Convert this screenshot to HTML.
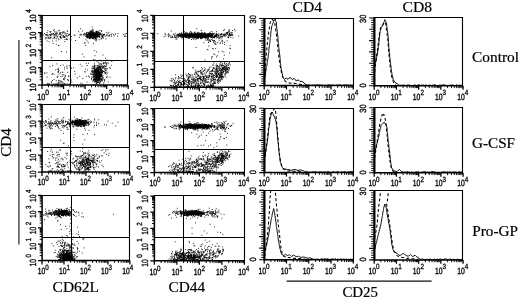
<!DOCTYPE html>
<html lang="en">
<head>
<meta charset="utf-8">
<title>Flow cytometry: CD62L, CD44 and CD25 expression on CD4 and CD8 cells</title>
<style>
html,body{margin:0;padding:0;background:#fff;}
body{width:520px;height:299px;overflow:hidden;}
svg{display:block;}
.tk{font-family:"Liberation Sans", sans-serif;font-size:9px;fill:#000;stroke:#000;stroke-width:.35px;text-rendering:geometricPrecision;}
.te{font-family:"Liberation Sans", sans-serif;font-size:7.5px;fill:#000;stroke:#000;stroke-width:.3px;text-rendering:geometricPrecision;}
.lb{font-family:"Liberation Serif", serif;fill:#000;stroke:#000;stroke-width:.2px;}
</style>
</head>
<body>
<svg width="520" height="299" viewBox="0 0 520 299">
<rect width="520" height="299" fill="#fff"/>
<path d="M88.1 35.6h0.9M97.0 34.1h0.9M87.7 34.9h0.9M94.9 36.9h0.9M88.1 32.8h0.9M95.8 35.8h0.9M99.1 36.7h0.9M92.6 34.5h0.9M103.3 34.5h0.9M89.9 33.1h0.9M93.4 35.2h0.9M91.6 34.9h0.9M94.1 36.2h0.9M97.4 35.4h0.9M85.8 36.2h0.9M87.3 34.7h0.9M87.1 35.0h0.9M89.9 35.4h0.9M106.2 34.9h0.9M96.4 32.8h0.9M91.8 36.1h0.9M92.6 35.6h0.9M93.4 33.3h0.9M95.3 33.6h0.9M100.5 34.1h0.9M95.7 35.0h0.9M96.8 34.0h0.9M97.0 34.8h0.9M98.1 36.1h0.9M93.6 33.7h0.9M96.1 35.8h0.9M99.6 34.4h0.9M95.2 35.9h0.9M94.1 35.4h0.9M93.7 34.0h0.9M88.9 34.3h0.9M95.4 37.6h0.9M96.9 36.8h0.9M96.1 36.2h0.9M93.7 36.3h0.9M100.1 34.4h0.9M90.2 38.3h0.9M94.0 36.7h0.9M96.5 33.1h0.9M102.7 38.0h0.9M93.7 36.3h0.9M93.5 33.5h0.9M92.6 35.6h0.9M97.5 36.2h0.9M93.2 37.3h0.9M90.0 36.3h0.9M97.4 34.5h0.9M85.8 33.5h0.9M93.9 35.9h0.9M99.2 33.3h0.9M93.0 36.1h0.9M92.4 31.0h0.9M96.2 38.9h0.9M97.0 33.4h0.9M91.4 35.4h0.9M103.0 36.0h0.9M93.5 37.6h0.9M92.7 38.2h0.9M90.3 34.2h0.9M95.9 37.4h0.9M95.6 35.5h0.9M85.7 33.8h0.9M90.6 34.1h0.9M95.3 34.4h0.9M96.2 35.1h0.9M91.7 35.2h0.9M94.7 36.5h0.9M91.1 34.6h0.9M87.5 37.7h0.9M98.8 34.7h0.9M91.1 32.9h0.9M93.7 35.4h0.9M101.7 35.4h0.9M89.9 30.8h0.9M98.6 35.3h0.9M86.6 35.3h0.9M86.6 40.9h0.9M97.5 36.0h0.9M92.3 31.4h0.9M92.5 32.4h0.9M95.4 31.4h0.9M89.4 37.1h0.9M99.6 33.0h0.9M86.9 36.5h0.9M96.4 33.3h0.9M90.2 33.8h0.9M88.2 33.8h0.9M98.0 36.2h0.9M101.2 34.9h0.9M92.5 33.3h0.9M92.5 32.8h0.9M85.9 36.2h0.9M98.8 36.4h0.9M98.3 35.4h0.9M90.1 35.1h0.9M91.5 33.1h0.9M86.2 32.5h0.9M93.0 35.3h0.9M91.1 37.4h0.9M93.7 36.0h0.9M97.9 33.6h0.9M85.1 36.3h0.9M90.2 37.2h0.9M94.4 36.7h0.9M96.1 31.5h0.9M95.9 33.9h0.9M90.0 34.3h0.9M96.1 36.5h0.9M97.0 32.2h0.9M90.6 31.0h0.9M92.6 36.0h0.9M89.9 35.4h0.9M93.9 36.7h0.9M89.7 33.6h0.9M89.9 38.0h0.9M97.4 34.8h0.9M93.9 35.2h0.9M93.8 34.6h0.9M91.7 32.9h0.9M90.4 37.8h0.9M95.1 35.1h0.9M92.1 35.1h0.9M94.4 33.9h0.9M93.8 35.4h0.9M90.0 33.7h0.9M89.0 33.2h0.9M96.6 31.0h0.9M91.9 34.0h0.9M90.5 35.2h0.9M97.5 35.1h0.9M92.4 34.0h0.9M92.5 36.6h0.9M91.4 33.1h0.9M87.9 33.1h0.9M87.4 36.9h0.9M94.4 34.6h0.9M98.8 33.9h0.9M96.0 36.4h0.9M86.8 32.4h0.9M89.3 36.5h0.9M98.2 32.9h0.9M97.2 34.3h0.9M91.4 34.1h0.9M91.7 31.9h0.9M89.0 32.9h0.9M95.0 38.6h0.9M103.9 34.4h0.9M86.1 34.3h0.9M89.2 38.4h0.9M95.3 33.8h0.9M96.7 35.9h0.9M86.5 34.1h0.9M92.0 35.0h0.9M93.5 34.4h0.9M93.8 34.0h0.9M89.4 37.6h0.9M94.4 35.7h0.9M86.6 34.7h0.9M96.3 32.8h0.9M97.4 34.3h0.9M94.6 34.8h0.9M93.9 37.0h0.9M91.4 37.7h0.9M89.9 33.4h0.9M95.8 33.2h0.9M91.5 36.5h0.9M97.8 32.0h0.9M95.0 38.2h0.9M97.8 34.6h0.9M90.6 34.5h0.9M88.4 34.6h0.9M92.3 34.8h0.9M97.7 34.6h0.9M87.2 36.8h0.9M88.7 34.2h0.9M92.5 34.4h0.9M89.0 34.6h0.9M101.7 34.0h0.9M92.5 36.9h0.9M96.0 36.3h0.9M96.4 31.7h0.9M89.5 35.2h0.9M95.0 37.2h0.9M94.9 34.6h0.9M93.2 34.6h0.9M94.0 36.1h0.9M91.6 33.6h0.9M89.6 36.9h0.9M98.1 36.7h0.9M96.4 36.4h0.9M93.0 36.1h0.9M88.8 34.7h0.9M90.1 36.2h0.9M90.7 34.8h0.9M94.6 37.3h0.9M89.8 33.4h0.9M96.3 33.1h0.9M94.8 34.0h0.9M92.6 31.9h0.9M95.9 34.1h0.9M89.4 38.5h0.9M95.8 41.0h0.9M94.6 34.4h0.9M93.4 37.7h0.9M92.9 35.8h0.9M95.1 33.5h0.9M93.5 34.1h0.9M88.0 36.5h0.9M95.7 35.1h0.9M89.4 31.6h0.9M94.9 34.8h0.9M86.3 34.9h0.9M86.9 35.0h0.9M93.6 35.6h0.9M93.9 35.3h0.9M88.4 34.3h0.9M91.0 34.6h0.9M94.1 36.1h0.9M99.5 30.6h0.9M94.6 34.7h0.9M102.1 36.6h0.9M86.4 35.7h0.9M90.9 36.7h0.9M88.8 34.8h0.9M92.5 34.8h0.9M90.7 31.9h0.9M94.8 36.7h0.9M92.7 33.3h0.9M93.8 36.0h0.9M92.3 35.0h0.9M98.6 33.1h0.9M90.8 31.8h0.9M90.2 33.7h0.9M89.2 33.8h0.9M100.2 34.7h0.9M92.5 38.7h0.9M92.8 32.1h0.9M94.6 33.4h0.9M99.6 32.9h0.9M90.7 32.3h0.9M93.4 33.3h0.9M92.7 34.4h0.9M90.5 36.6h0.9M96.7 35.1h0.9M89.4 33.2h0.9M94.1 39.1h0.9M91.2 33.7h0.9M90.2 33.1h0.9M89.1 34.7h0.9M98.7 35.0h0.9M91.0 32.3h0.9M93.9 35.0h0.9M88.1 33.2h0.9M92.8 36.7h0.9M95.5 35.3h0.9M91.7 35.5h0.9M93.0 38.7h0.9M88.5 34.4h0.9M98.1 34.5h0.9M98.7 34.9h0.9M93.6 34.4h0.9M87.5 33.3h0.9M101.9 36.1h0.9M95.4 36.6h0.9M95.3 36.7h0.9M91.9 34.6h0.9M96.9 34.4h0.9M87.7 34.6h0.9M90.8 36.0h0.9M90.1 33.2h0.9M91.7 37.6h0.9M92.8 35.3h0.9M93.0 35.5h0.9M96.7 37.4h0.9M86.4 37.3h0.9M93.0 34.5h0.9M102.6 34.7h0.9M100.8 36.6h0.9M88.9 35.8h0.9M95.9 34.8h0.9M83.7 34.4h0.9M92.2 33.1h0.9M100.3 34.6h0.9M91.4 34.5h0.9M89.9 33.7h0.9M93.4 35.5h0.9M91.0 34.8h0.9M87.4 35.9h0.9M90.0 35.4h0.9M89.4 34.1h0.9M93.9 32.9h0.9M102.9 34.9h0.9M92.7 33.8h0.9M99.4 37.4h0.9M94.2 32.7h0.9M89.2 37.3h0.9M89.2 32.3h0.9M84.1 33.4h0.9M93.1 33.8h0.9M93.1 43.4h0.9M106.3 32.7h0.9M95.6 35.8h0.9M92.0 38.5h0.9M90.5 34.7h0.9M90.2 35.3h0.9M102.6 37.8h0.9M82.9 34.4h0.9M87.0 37.9h0.9M94.7 38.1h0.9M92.5 30.3h0.9M96.4 36.2h0.9M96.8 32.0h0.9M93.6 33.7h0.9M87.8 36.6h0.9M95.6 33.1h0.9M80.2 28.7h0.9M88.7 38.7h0.9M92.6 29.3h0.9M86.5 36.8h0.9M105.5 38.9h0.9M95.8 36.2h0.9M85.1 34.3h0.9M90.5 33.4h0.9M93.5 34.5h0.9M95.5 39.6h0.9M98.6 36.8h0.9M91.2 31.3h0.9M92.1 37.1h0.9M85.4 39.1h0.9M90.5 36.6h0.9M90.5 32.1h0.9M108.5 32.3h0.9M99.9 34.0h0.9M95.1 33.3h0.9M89.9 38.2h0.9M107.6 33.2h0.9M93.1 38.3h0.9M88.3 37.6h0.9M87.1 37.3h0.9M96.3 39.0h0.9M95.7 32.3h0.9M98.0 32.5h0.9M98.6 39.8h0.9M97.5 34.1h0.9M101.9 36.1h0.9M83.7 34.6h0.9M103.6 34.7h0.9M93.9 34.6h0.9M80.4 34.2h0.9M95.7 36.2h0.9M91.7 29.6h0.9M102.2 37.6h0.9M100.7 39.2h0.9M89.7 33.9h0.9M95.4 40.3h0.9M80.4 35.0h0.9M87.6 37.2h0.9M104.0 34.8h0.9M83.7 35.7h0.9M90.9 31.3h0.9M99.6 34.1h0.9M98.1 31.9h0.9M101.2 31.6h0.9M100.9 30.5h0.9M103.3 34.6h0.9M81.3 34.9h0.9M95.5 32.8h0.9M89.3 36.4h0.9M91.7 27.0h0.9M89.8 36.8h0.9M95.2 38.4h0.9M87.8 42.7h0.9M99.0 36.5h0.9M101.1 38.3h0.9M93.8 33.9h0.9M66.7 36.5h0.9M61.4 35.7h0.9M59.7 37.1h0.9M58.4 39.7h0.9M51.4 34.3h0.9M60.1 37.4h0.9M64.5 39.4h0.9M52.5 38.6h0.9M61.4 32.6h0.9M55.7 41.0h0.9M64.5 34.1h0.9M50.3 35.6h0.9M78.9 37.4h0.9M60.0 32.9h0.9M45.7 34.8h0.9M52.6 43.5h0.9M53.2 33.7h0.9M67.7 35.6h0.9M45.3 38.9h0.9M54.0 31.8h0.9M60.1 36.7h0.9M53.8 37.3h0.9M64.8 33.0h0.9M55.8 38.7h0.9M66.5 39.2h0.9M74.6 35.4h0.9M67.0 31.3h0.9M63.5 36.5h0.9M56.1 34.2h0.9M46.4 35.8h0.9M69.1 34.4h0.9M62.0 33.6h0.9M59.4 32.7h0.9M60.6 34.8h0.9M60.0 33.8h0.9M45.8 34.5h0.9M66.8 39.7h0.9M53.9 37.6h0.9M64.2 36.5h0.9M47.8 38.6h0.9M64.5 37.1h0.9M63.6 32.0h0.9M66.2 35.6h0.9M55.3 33.5h0.9M47.3 34.2h0.9M86.3 35.9h0.9M59.0 33.7h0.9M51.1 33.9h0.9M48.6 37.8h0.9M54.4 37.7h0.9M46.0 37.9h0.9M56.7 37.2h0.9M56.0 33.0h0.9M68.5 34.2h0.9M55.6 33.0h0.9M58.9 34.3h0.9M59.7 36.3h0.9M50.5 31.6h0.9M61.1 37.9h0.9M63.6 32.3h0.9M62.7 36.4h0.9M59.7 36.6h0.9M53.9 36.0h0.9M65.8 34.0h0.9M43.3 35.1h0.9M58.9 30.4h0.9M50.6 37.0h0.9M55.6 35.6h0.9M45.0 37.8h0.9M73.7 34.9h0.9M50.0 32.3h0.9M65.5 35.7h0.9M49.5 38.7h0.9M64.3 37.0h0.9M62.9 32.1h0.9M65.8 39.3h0.9M66.8 33.5h0.9M50.3 37.9h0.9M66.4 38.7h0.9M68.4 35.1h0.9M53.1 30.4h0.9M64.4 41.5h0.9M52.6 34.1h0.9M63.2 36.4h0.9M44.0 33.5h0.9M46.6 40.9h0.9M50.2 37.7h0.9M75.2 40.5h0.9M70.5 39.8h0.9M45.3 34.5h0.9M50.1 34.6h0.9M81.9 30.9h0.9M62.3 32.1h0.9M69.7 38.9h0.9M52.1 41.0h0.9M57.7 38.9h0.9M60.0 33.9h0.9M53.4 35.1h0.9M62.9 35.7h0.9M79.4 34.9h0.9M52.6 33.5h0.9M49.6 31.5h0.9M47.6 37.8h0.9M57.6 34.9h0.9M60.3 38.3h0.9M62.8 37.5h0.9M51.7 34.7h0.9M49.6 35.1h0.9M49.2 34.4h0.9M55.3 34.8h0.9M54.5 34.1h0.9M69.4 34.5h0.9M47.4 35.9h0.9M46.7 32.5h0.9M57.8 30.9h0.9M66.8 30.9h0.9M48.5 37.0h0.9M45.6 34.9h0.9M55.6 36.2h0.9M53.9 29.7h0.9M55.6 31.8h0.9M57.1 33.1h0.9M54.0 34.8h0.9M64.3 37.5h0.9M47.5 35.4h0.9M70.9 36.7h0.9M50.1 35.1h0.9M53.7 37.9h0.9M57.3 36.4h0.9M78.0 31.7h0.9M47.4 30.7h0.9M113.7 35.9h0.9M109.1 35.7h0.9M117.0 36.2h0.9M106.3 35.9h0.9M106.8 35.1h0.9M125.9 33.5h0.9M109.6 34.4h0.9M111.5 33.7h0.9M124.6 35.9h0.9M113.1 34.6h0.9M117.5 33.6h0.9M104.7 36.2h0.9M111.1 35.0h0.9M125.5 36.4h0.9M114.9 34.1h0.9M110.8 36.3h0.9M124.6 34.1h0.9M123.3 34.6h0.9M114.9 34.0h0.9M124.2 36.5h0.9M108.6 35.4h0.9M108.4 36.1h0.9M48.7 41.9h0.9M85.2 45.6h0.9M94.6 55.7h0.9M84.5 42.4h0.9M83.6 56.9h0.9M70.0 41.4h0.9M58.1 45.5h0.9M84.4 43.5h0.9M55.8 44.2h0.9M81.9 54.2h0.9M66.1 51.9h0.9M93.8 50.6h0.9M58.4 45.4h0.9M96.0 52.0h0.9M60.9 51.5h0.9M50.9 57.7h0.9M94.2 76.5h0.9M96.5 74.2h0.9M95.5 72.4h0.9M97.3 82.4h0.9M99.2 76.4h0.9M97.4 71.2h0.9M96.7 80.0h0.9M99.5 83.1h0.9M98.0 74.4h0.9M92.9 76.3h0.9M92.6 81.2h0.9M95.6 74.5h0.9M93.7 72.3h0.9M94.8 79.5h0.9M98.0 69.3h0.9M92.1 74.2h0.9M96.0 69.6h0.9M98.9 73.7h0.9M97.6 71.9h0.9M95.8 72.5h0.9M93.0 77.3h0.9M98.4 66.9h0.9M97.6 79.6h0.9M97.9 80.2h0.9M96.6 74.5h0.9M93.8 70.5h0.9M92.4 70.6h0.9M98.0 76.8h0.9M100.4 75.1h0.9M94.6 76.4h0.9M96.9 82.3h0.9M102.6 78.7h0.9M94.2 72.2h0.9M97.8 71.4h0.9M98.7 77.5h0.9M99.6 75.5h0.9M94.9 70.8h0.9M97.0 80.3h0.9M101.6 78.8h0.9M98.3 77.5h0.9M99.5 80.2h0.9M99.6 67.7h0.9M99.9 76.2h0.9M96.1 76.8h0.9M98.1 74.3h0.9M92.7 75.0h0.9M98.8 74.3h0.9M93.0 76.5h0.9M99.2 75.3h0.9M98.4 73.0h0.9M95.5 76.8h0.9M96.3 75.3h0.9M106.1 77.6h0.9M97.7 67.4h0.9M97.6 77.8h0.9M95.4 73.5h0.9M91.2 76.9h0.9M95.7 77.5h0.9M101.0 73.8h0.9M100.0 75.6h0.9M96.7 73.3h0.9M95.0 80.1h0.9M99.7 70.1h0.9M99.6 71.3h0.9M93.2 79.8h0.9M93.8 79.7h0.9M97.8 78.5h0.9M98.7 79.6h0.9M98.2 77.0h0.9M98.0 79.3h0.9M96.2 79.0h0.9M101.4 74.2h0.9M98.5 72.2h0.9M96.5 75.6h0.9M96.4 70.6h0.9M97.2 75.3h0.9M98.2 77.6h0.9M92.5 80.7h0.9M96.8 71.1h0.9M96.3 76.4h0.9M99.7 72.9h0.9M97.7 67.5h0.9M97.8 74.0h0.9M96.1 78.4h0.9M102.1 79.0h0.9M95.2 81.2h0.9M96.4 74.3h0.9M95.7 76.5h0.9M98.8 75.1h0.9M96.7 73.9h0.9M96.2 78.8h0.9M95.9 73.9h0.9M96.7 71.2h0.9M96.7 68.1h0.9M98.4 76.9h0.9M96.5 81.3h0.9M95.1 76.9h0.9M98.6 72.2h0.9M96.7 78.4h0.9M97.5 75.7h0.9M101.1 75.5h0.9M92.8 71.3h0.9M99.5 73.9h0.9M94.4 65.8h0.9M98.2 81.1h0.9M93.9 65.0h0.9M98.6 72.1h0.9M96.5 73.1h0.9M94.9 76.4h0.9M99.8 76.1h0.9M95.8 79.0h0.9M97.0 77.0h0.9M94.8 77.4h0.9M99.3 80.1h0.9M97.4 76.4h0.9M95.8 78.4h0.9M99.4 79.2h0.9M96.3 69.2h0.9M97.1 73.6h0.9M95.3 77.1h0.9M99.8 76.2h0.9M100.3 76.2h0.9M94.7 72.0h0.9M96.4 77.5h0.9M99.8 75.1h0.9M100.0 70.9h0.9M97.0 81.0h0.9M98.5 79.1h0.9M92.3 67.2h0.9M95.0 78.9h0.9M101.6 71.8h0.9M94.7 70.1h0.9M94.9 76.9h0.9M96.5 82.7h0.9M99.2 71.5h0.9M97.9 73.8h0.9M99.4 78.4h0.9M96.4 78.4h0.9M98.8 74.1h0.9M98.0 77.5h0.9M96.5 71.6h0.9M100.7 74.5h0.9M95.7 76.5h0.9M93.4 74.8h0.9M93.7 72.7h0.9M92.6 71.4h0.9M99.7 73.7h0.9M94.1 82.0h0.9M95.6 80.9h0.9M95.9 68.2h0.9M102.2 72.7h0.9M99.3 79.7h0.9M93.8 74.8h0.9M95.8 77.1h0.9M97.3 69.1h0.9M97.5 77.8h0.9M96.5 77.0h0.9M95.9 74.3h0.9M98.2 75.1h0.9M100.7 78.6h0.9M99.5 77.6h0.9M97.7 69.5h0.9M100.1 82.0h0.9M97.9 73.4h0.9M97.2 79.7h0.9M98.1 70.3h0.9M96.9 71.2h0.9M96.8 70.7h0.9M95.0 80.9h0.9M100.1 67.6h0.9M94.7 72.6h0.9M96.3 68.6h0.9M99.7 67.6h0.9M99.2 77.5h0.9M96.4 71.7h0.9M97.5 75.2h0.9M91.8 69.1h0.9M98.7 74.1h0.9M96.2 70.3h0.9M95.5 71.2h0.9M104.7 69.1h0.9M101.4 76.6h0.9M97.9 75.4h0.9M96.3 81.5h0.9M98.7 74.4h0.9M97.0 75.4h0.9M94.3 73.2h0.9M95.7 77.2h0.9M98.9 66.5h0.9M96.7 78.8h0.9M93.9 69.4h0.9M100.0 74.0h0.9M96.1 69.3h0.9M97.8 72.1h0.9M97.9 76.4h0.9M99.2 73.1h0.9M95.9 74.7h0.9M97.1 75.3h0.9M95.9 73.5h0.9M95.8 72.0h0.9M97.7 79.5h0.9M95.9 77.0h0.9M98.2 75.0h0.9M99.1 72.1h0.9M98.8 75.8h0.9M88.1 76.1h0.9M98.9 82.9h0.9M94.5 74.9h0.9M98.3 70.4h0.9M100.5 76.5h0.9M95.2 69.4h0.9M103.0 63.9h0.9M92.5 77.4h0.9M97.0 71.8h0.9M98.9 74.9h0.9M98.1 75.7h0.9M94.4 80.2h0.9M96.1 79.4h0.9M99.2 74.7h0.9M97.7 74.3h0.9M92.5 73.1h0.9M98.5 67.6h0.9M93.4 79.2h0.9M99.5 67.9h0.9M98.5 74.3h0.9M99.9 73.1h0.9M96.7 71.3h0.9M97.8 74.0h0.9M95.6 73.0h0.9M95.3 77.2h0.9M94.6 67.8h0.9M94.8 79.2h0.9M96.0 77.3h0.9M99.3 72.3h0.9M99.3 76.7h0.9M97.2 71.5h0.9M97.2 69.0h0.9M96.6 72.0h0.9M98.5 76.0h0.9M95.6 78.3h0.9M100.5 74.8h0.9M95.3 76.7h0.9M90.8 72.0h0.9M98.9 83.2h0.9M95.4 81.2h0.9M103.5 82.7h0.9M91.0 79.3h0.9M97.8 78.9h0.9M96.8 71.9h0.9M96.7 81.0h0.9M99.6 73.2h0.9M98.3 78.3h0.9M98.8 74.3h0.9M95.6 71.3h0.9M96.1 72.1h0.9M93.1 68.4h0.9M99.7 69.6h0.9M93.8 74.3h0.9M101.2 80.0h0.9M96.2 70.0h0.9M95.9 70.5h0.9M95.8 76.6h0.9M94.5 71.1h0.9M96.6 74.4h0.9M95.3 71.1h0.9M94.3 71.2h0.9M98.7 73.4h0.9M89.0 77.2h0.9M97.1 70.7h0.9M96.6 61.3h0.9M92.9 79.6h0.9M103.0 84.0h0.9M95.3 74.7h0.9M99.4 69.1h0.9M102.0 71.3h0.9M98.3 69.5h0.9M98.3 74.4h0.9M100.2 69.4h0.9M97.3 82.5h0.9M94.1 76.1h0.9M98.5 72.3h0.9M96.6 80.7h0.9M100.4 77.0h0.9M98.0 69.5h0.9M97.5 82.4h0.9M100.1 68.5h0.9M91.7 71.6h0.9M97.7 72.1h0.9M96.5 76.0h0.9M99.7 75.4h0.9M100.7 68.2h0.9M98.6 76.4h0.9M93.3 80.0h0.9M93.0 68.1h0.9M104.5 80.2h0.9M98.3 80.5h0.9M100.4 69.5h0.9M98.6 80.7h0.9M96.9 74.8h0.9M96.0 77.7h0.9M95.8 71.9h0.9M94.0 70.4h0.9M97.9 76.6h0.9M96.3 69.9h0.9M98.2 76.1h0.9M100.8 72.3h0.9M96.2 76.8h0.9M101.4 74.3h0.9M97.1 70.4h0.9M96.3 78.7h0.9M99.6 79.4h0.9M92.8 78.2h0.9M94.8 77.1h0.9M90.9 74.1h0.9M94.9 80.1h0.9M97.6 80.3h0.9M96.1 83.2h0.9M96.1 82.9h0.9M96.0 70.2h0.9M99.7 72.7h0.9M97.1 68.5h0.9M96.4 75.0h0.9M95.4 76.2h0.9M91.0 78.5h0.9M96.2 81.0h0.9M96.3 71.6h0.9M96.1 75.7h0.9M98.9 72.5h0.9M95.1 76.4h0.9M99.6 66.8h0.9M94.4 71.5h0.9M102.0 80.0h0.9M99.5 76.7h0.9M94.3 79.5h0.9M96.1 71.0h0.9M102.6 68.1h0.9M101.1 75.4h0.9M94.8 75.3h0.9M95.0 75.3h0.9M95.5 69.2h0.9M104.6 72.3h0.9M100.0 74.3h0.9M99.2 68.9h0.9M94.5 59.9h0.9M100.0 76.5h0.9M94.1 78.2h0.9M98.0 78.6h0.9M99.0 77.9h0.9M97.2 72.7h0.9M99.2 80.0h0.9M94.1 69.4h0.9M97.2 82.5h0.9M96.7 66.9h0.9M99.5 77.9h0.9M102.6 75.4h0.9M102.7 71.3h0.9M99.8 75.1h0.9M94.0 73.3h0.9M100.9 79.5h0.9M96.3 79.5h0.9M99.8 78.5h0.9M98.1 75.9h0.9M95.1 74.2h0.9M97.6 71.2h0.9M96.5 75.3h0.9M97.9 79.2h0.9M94.5 72.8h0.9M98.0 72.8h0.9M98.2 72.4h0.9M100.5 73.5h0.9M94.2 77.9h0.9M101.9 65.9h0.9M97.0 74.8h0.9M100.1 81.2h0.9M96.9 67.6h0.9M99.1 79.0h0.9M98.6 74.9h0.9M94.0 67.8h0.9M100.0 75.8h0.9M99.1 76.1h0.9M101.9 80.9h0.9M95.8 79.0h0.9M94.1 66.9h0.9M100.6 72.6h0.9M91.5 74.4h0.9M95.5 76.8h0.9M97.2 71.1h0.9M95.4 77.9h0.9M94.8 75.1h0.9M94.6 76.5h0.9M102.2 77.1h0.9M100.4 76.5h0.9M94.7 73.2h0.9M97.5 76.5h0.9M95.7 77.3h0.9M95.4 74.8h0.9M97.3 69.4h0.9M100.1 74.8h0.9M97.6 74.4h0.9M91.6 68.3h0.9M94.9 78.9h0.9M95.7 77.2h0.9M94.5 70.8h0.9M96.0 79.2h0.9M92.8 73.8h0.9M98.4 75.1h0.9M97.3 78.0h0.9M98.1 70.1h0.9M99.0 71.1h0.9M96.4 81.0h0.9M104.0 81.0h0.9M98.5 71.1h0.9M95.2 81.9h0.9M98.2 68.4h0.9M101.6 77.1h0.9M100.9 76.3h0.9M91.4 71.3h0.9M96.9 73.8h0.9M101.4 71.6h0.9M97.0 74.3h0.9M97.1 69.9h0.9M94.0 63.1h0.9M98.2 73.6h0.9M97.9 69.8h0.9M97.3 70.2h0.9M94.6 76.0h0.9M99.0 77.1h0.9M97.2 72.8h0.9M101.1 80.0h0.9M95.6 69.7h0.9M98.3 75.9h0.9M94.8 84.6h0.9M91.6 70.8h0.9M98.0 78.9h0.9M92.3 72.6h0.9M101.2 80.8h0.9M96.6 74.7h0.9M94.9 76.3h0.9M94.5 65.5h0.9M93.2 74.8h0.9M93.7 79.4h0.9M100.8 78.9h0.9M99.1 79.6h0.9M98.0 78.4h0.9M98.6 78.0h0.9M94.6 71.6h0.9M94.6 78.2h0.9M101.5 66.9h0.9M94.3 68.3h0.9M103.2 71.3h0.9M97.9 67.5h0.9M98.5 82.5h0.9M95.7 69.7h0.9M107.2 76.8h0.9M93.5 79.2h0.9M92.9 75.7h0.9M86.8 65.5h0.9M103.5 68.1h0.9M95.5 72.4h0.9M99.0 69.0h0.9M95.8 83.8h0.9M106.3 74.2h0.9M93.5 68.6h0.9M97.6 75.2h0.9M106.8 68.6h0.9M99.7 69.2h0.9M99.7 67.5h0.9M100.9 79.6h0.9M97.1 69.9h0.9M99.6 63.4h0.9M107.8 63.3h0.9M97.3 66.3h0.9M106.3 68.9h0.9M96.6 84.4h0.9M98.5 67.0h0.9M99.0 73.3h0.9M95.4 70.8h0.9M98.0 76.8h0.9M102.7 77.5h0.9M98.4 77.3h0.9M98.0 79.6h0.9M101.0 69.3h0.9M105.0 62.1h0.9M94.4 66.8h0.9M98.4 64.0h0.9M93.2 59.7h0.9M99.6 67.0h0.9M109.6 77.1h0.9M93.5 80.7h0.9M99.5 79.1h0.9M93.7 79.6h0.9M104.3 69.3h0.9M94.9 69.6h0.9M107.8 81.9h0.9M98.0 69.9h0.9M100.8 70.3h0.9M96.8 70.7h0.9M103.1 71.6h0.9M100.2 70.3h0.9M98.1 69.9h0.9M105.1 73.6h0.9M106.3 70.9h0.9M104.2 63.0h0.9M97.1 71.7h0.9M96.0 71.3h0.9M94.6 71.0h0.9M95.8 72.0h0.9M97.6 65.5h0.9M97.1 72.2h0.9M92.9 72.7h0.9M105.1 70.6h0.9M101.7 76.1h0.9M95.2 80.7h0.9M111.2 65.3h0.9M109.4 67.4h0.9M106.1 60.2h0.9M104.5 73.0h0.9M92.8 66.7h0.9M94.0 66.2h0.9M100.9 70.9h0.9M86.9 70.0h0.9M101.3 72.6h0.9M107.2 60.0h0.9M100.2 72.2h0.9M102.5 63.3h0.9M92.7 70.9h0.9M99.4 60.2h0.9M100.8 72.0h0.9M102.6 55.0h0.9M101.5 66.2h0.9M96.7 77.2h0.9M107.2 73.0h0.9M98.5 80.6h0.9M94.7 71.0h0.9M96.6 65.6h0.9M100.2 75.3h0.9M98.9 79.4h0.9M99.9 66.3h0.9M99.5 81.4h0.9M98.6 79.9h0.9M100.4 76.3h0.9M97.6 77.5h0.9M97.9 62.4h0.9M100.5 64.2h0.9M106.2 77.2h0.9M99.1 76.6h0.9M86.5 82.1h0.9M95.9 76.4h0.9M111.4 61.5h0.9M97.0 74.3h0.9M101.1 61.0h0.9M94.5 81.8h0.9M96.1 75.7h0.9M92.4 66.1h0.9M90.2 73.8h0.9M104.6 72.7h0.9M97.7 73.6h0.9M101.3 70.1h0.9M109.8 68.3h0.9M92.9 84.6h0.9M103.8 80.0h0.9M102.0 70.6h0.9M103.8 79.4h0.9M106.6 62.7h0.9M106.1 65.0h0.9M101.9 67.1h0.9M102.0 73.0h0.9M104.7 66.8h0.9M102.5 66.8h0.9M102.3 67.8h0.9M105.6 68.6h0.9M99.2 65.0h0.9M103.3 62.3h0.9M104.2 65.6h0.9M103.2 67.2h0.9M101.1 70.7h0.9M106.2 64.4h0.9M104.4 68.3h0.9M100.7 65.0h0.9M105.1 58.2h0.9M99.1 67.0h0.9M104.9 63.2h0.9M105.6 72.7h0.9M103.7 65.9h0.9M103.2 63.0h0.9M104.7 66.6h0.9M105.3 70.3h0.9M103.1 66.6h0.9M104.0 71.3h0.9M98.6 66.0h0.9M101.1 66.4h0.9M105.5 66.2h0.9M105.3 66.6h0.9M100.9 64.0h0.9M98.9 66.7h0.9M101.8 68.6h0.9M105.9 63.4h0.9M99.8 67.9h0.9M56.9 69.3h0.9M69.6 67.1h0.9M70.2 80.8h0.9M68.7 65.6h0.9M58.2 83.7h0.9M52.1 65.8h0.9M64.3 67.2h0.9M60.3 65.5h0.9M70.5 68.2h0.9M46.7 77.1h0.9M53.7 74.3h0.9M57.9 82.3h0.9M58.4 70.3h0.9M44.0 72.9h0.9M51.5 74.6h0.9M61.7 72.2h0.9M46.5 72.9h0.9M57.5 76.1h0.9M71.2 68.2h0.9M56.4 63.9h0.9M66.4 67.2h0.9M67.2 79.6h0.9M51.1 81.9h0.9M58.1 71.4h0.9M59.5 82.8h0.9M57.7 72.6h0.9M52.1 80.5h0.9M58.1 69.5h0.9M49.5 66.7h0.9M67.4 79.7h0.9M71.4 82.2h0.9M63.2 79.5h0.9M63.9 79.8h0.9M66.4 65.9h0.9M66.8 68.7h0.9M50.8 82.2h0.9M44.6 73.3h0.9M53.6 79.4h0.9M61.1 82.0h0.9M70.1 76.2h0.9M68.1 80.6h0.9M64.7 75.2h0.9M64.7 84.4h0.9M62.7 65.0h0.9M60.3 76.4h0.9M61.8 76.5h0.9M67.2 72.3h0.9M64.0 69.1h0.9M52.2 73.5h0.9M58.6 74.0h0.9M58.9 80.8h0.9M64.6 78.4h0.9M62.9 74.9h0.9M57.6 71.6h0.9M60.1 72.9h0.9M60.6 81.3h0.9M64.5 84.0h0.9M57.8 68.1h0.9M65.2 76.0h0.9M68.0 76.1h0.9M69.5 76.2h0.9M60.2 81.2h0.9M56.8 77.3h0.9M70.7 80.0h0.9M57.0 76.9h0.9M61.9 74.6h0.9M63.9 83.6h0.9M62.2 82.0h0.9M63.3 78.6h0.9M58.6 82.3h0.9M68.1 76.0h0.9M58.1 80.4h0.9M62.5 83.1h0.9M64.2 77.4h0.9M55.8 80.8h0.9M62.4 72.3h0.9M55.3 69.8h0.9M64.8 76.0h0.9M81.7 83.9h0.9M81.5 66.2h0.9M85.8 63.3h0.9M74.7 74.1h0.9M76.9 77.8h0.9M85.1 69.0h0.9M85.8 76.2h0.9M84.7 72.0h0.9M79.8 64.3h0.9M80.5 83.0h0.9M88.0 63.2h0.9M73.3 67.9h0.9M84.5 71.6h0.9M74.3 71.4h0.9M82.3 78.4h0.9M79.3 76.3h0.9M62.4 84.1h0.9M60.8 84.1h0.9M47.1 84.1h0.9M63.1 84.1h0.9M49.1 84.1h0.9M47.3 84.1h0.9M57.4 84.1h0.9M46.4 84.1h0.9M47.7 84.1h0.9M55.4 84.1h0.9M57.2 84.1h0.9M48.5 84.1h0.9M68.9 84.1h0.9M66.5 84.1h0.9M57.7 84.1h0.9M60.1 84.1h0.9M53.6 84.1h0.9M69.6 84.1h0.9M48.9 84.1h0.9M53.3 84.1h0.9M51.3 84.1h0.9M66.8 84.1h0.9M58.2 84.1h0.9M55.9 84.1h0.9M55.6 84.1h0.9" stroke="#000" stroke-width="0.9" fill="none"/>
<path d="M41.5 15.5H127.5V85" stroke="#000" stroke-width="1.1" fill="none"/>
<path d="M42.1 15V85.7" stroke="#000" stroke-width="1.5" fill="none"/>
<path d="M42 85H128" stroke="#000" stroke-width="1.5" fill="none"/>
<path d="M70.5 15.3V85M42 60.5H128.2" stroke="#000" stroke-width="1" fill="none"/>
<path d="M48.49 85v2.3M52.28 85v2.3M54.97 85v2.3M57.06 85v2.3M58.77 85v2.3M60.21 85v2.3M61.46 85v2.3M62.56 85v2.3M70.04 85v2.3M73.83 85v2.3M76.52 85v2.3M78.61 85v2.3M80.32 85v2.3M81.76 85v2.3M83.01 85v2.3M84.11 85v2.3M91.59 85v2.3M95.38 85v2.3M98.07 85v2.3M100.16 85v2.3M101.87 85v2.3M103.31 85v2.3M104.56 85v2.3M105.66 85v2.3M113.14 85v2.3M116.93 85v2.3M119.62 85v2.3M121.71 85v2.3M123.42 85v2.3M124.86 85v2.3M126.11 85v2.3M127.21 85v2.3" stroke="#000" stroke-width="0.95" fill="none"/>
<path d="M42 85v3.9M63.55 85v3.9M85.1 85v3.9M106.65 85v3.9M128.2 85v3.9" stroke="#000" stroke-width="1.25" fill="none"/>
<path d="M42 79.75h-2.3M42 76.69h-2.3M42 74.51h-2.3M42 72.82h-2.3M42 71.44h-2.3M42 70.27h-2.3M42 69.26h-2.3M42 68.37h-2.3M42 62.33h-2.3M42 59.26h-2.3M42 57.08h-2.3M42 55.4h-2.3M42 54.02h-2.3M42 52.85h-2.3M42 51.84h-2.3M42 50.95h-2.3M42 44.9h-2.3M42 41.84h-2.3M42 39.66h-2.3M42 37.97h-2.3M42 36.59h-2.3M42 35.42h-2.3M42 34.41h-2.3M42 33.52h-2.3M42 27.48h-2.3M42 24.41h-2.3M42 22.23h-2.3M42 20.55h-2.3M42 19.17h-2.3M42 18h-2.3M42 16.99h-2.3M42 16.1h-2.3" stroke="#000" stroke-width="0.95" fill="none"/>
<path d="M42 85h-4M42 67.58h-4M42 50.15h-4M42 32.72h-4M42 15.3h-4" stroke="#000" stroke-width="1.25" fill="none"/>
<text x="45.3" y="99.7" class="tk" font-size="9.6" text-anchor="end" textLength="8.06" lengthAdjust="spacingAndGlyphs">10</text>
<text x="45.3" y="95.19" class="te" font-size="7.97" textLength="3.74" lengthAdjust="spacingAndGlyphs">0</text>
<text x="66.4" y="99.7" class="tk" font-size="9.6" text-anchor="end" textLength="8.06" lengthAdjust="spacingAndGlyphs">10</text>
<text x="66.4" y="95.19" class="te" font-size="7.97" textLength="3.74" lengthAdjust="spacingAndGlyphs">1</text>
<text x="87.5" y="99.7" class="tk" font-size="9.6" text-anchor="end" textLength="8.06" lengthAdjust="spacingAndGlyphs">10</text>
<text x="87.5" y="95.19" class="te" font-size="7.97" textLength="3.74" lengthAdjust="spacingAndGlyphs">2</text>
<text x="108.6" y="99.7" class="tk" font-size="9.6" text-anchor="end" textLength="8.06" lengthAdjust="spacingAndGlyphs">10</text>
<text x="108.6" y="95.19" class="te" font-size="7.97" textLength="3.74" lengthAdjust="spacingAndGlyphs">3</text>
<text x="129.7" y="99.7" class="tk" font-size="9.6" text-anchor="end" textLength="8.06" lengthAdjust="spacingAndGlyphs">10</text>
<text x="129.7" y="95.19" class="te" font-size="7.97" textLength="3.74" lengthAdjust="spacingAndGlyphs">4</text>
<g transform="translate(36 85) rotate(-90)">
<text x="1.6" y="0" class="tk" font-size="9.6" text-anchor="end" textLength="8.06" lengthAdjust="spacingAndGlyphs">10</text>
<text x="3.1" y="-5.47" class="te" font-size="7.97" textLength="3.74" lengthAdjust="spacingAndGlyphs">0</text>
</g>
<g transform="translate(36 67.78) rotate(-90)">
<text x="1.6" y="0" class="tk" font-size="9.6" text-anchor="end" textLength="8.06" lengthAdjust="spacingAndGlyphs">10</text>
<text x="3.1" y="-5.47" class="te" font-size="7.97" textLength="3.74" lengthAdjust="spacingAndGlyphs">1</text>
</g>
<g transform="translate(36 50.55) rotate(-90)">
<text x="1.6" y="0" class="tk" font-size="9.6" text-anchor="end" textLength="8.06" lengthAdjust="spacingAndGlyphs">10</text>
<text x="3.1" y="-5.47" class="te" font-size="7.97" textLength="3.74" lengthAdjust="spacingAndGlyphs">2</text>
</g>
<g transform="translate(36 33.32) rotate(-90)">
<text x="1.6" y="0" class="tk" font-size="9.6" text-anchor="end" textLength="8.06" lengthAdjust="spacingAndGlyphs">10</text>
<text x="3.1" y="-5.47" class="te" font-size="7.97" textLength="3.74" lengthAdjust="spacingAndGlyphs">3</text>
</g>
<g transform="translate(36 16.1) rotate(-90)">
<text x="1.6" y="0" class="tk" font-size="9.6" text-anchor="end" textLength="8.06" lengthAdjust="spacingAndGlyphs">10</text>
<text x="3.1" y="-5.47" class="te" font-size="7.97" textLength="3.74" lengthAdjust="spacingAndGlyphs">4</text>
</g>
<path d="M72.1 123.1h0.9M77.7 122.1h0.9M83.6 122.9h0.9M77.7 125.5h0.9M76.6 120.9h0.9M72.4 122.0h0.9M82.2 124.1h0.9M84.5 125.6h0.9M87.3 123.8h0.9M85.5 123.8h0.9M76.5 124.1h0.9M79.5 122.6h0.9M88.9 124.0h0.9M76.9 122.8h0.9M90.6 122.5h0.9M82.8 123.8h0.9M81.7 123.8h0.9M76.9 122.2h0.9M78.5 122.3h0.9M83.2 125.2h0.9M74.9 123.7h0.9M74.5 121.8h0.9M78.1 123.0h0.9M77.1 118.9h0.9M86.0 122.5h0.9M76.2 123.9h0.9M76.4 120.7h0.9M81.7 123.5h0.9M75.2 124.2h0.9M81.1 121.2h0.9M87.8 123.3h0.9M73.7 123.6h0.9M79.9 124.4h0.9M72.7 124.5h0.9M83.8 123.9h0.9M82.2 124.9h0.9M82.8 123.1h0.9M75.2 124.6h0.9M84.0 123.3h0.9M80.0 124.0h0.9M67.0 123.4h0.9M67.1 123.2h0.9M84.4 125.8h0.9M77.0 123.5h0.9M78.9 119.5h0.9M82.8 122.8h0.9M79.6 121.4h0.9M79.0 123.0h0.9M85.5 123.3h0.9M96.2 122.3h0.9M77.9 122.8h0.9M75.3 125.2h0.9M82.4 120.9h0.9M79.8 124.6h0.9M72.3 123.1h0.9M78.1 126.4h0.9M81.2 122.3h0.9M76.5 125.7h0.9M77.0 126.3h0.9M71.6 122.6h0.9M78.1 121.8h0.9M78.2 123.9h0.9M76.0 120.7h0.9M85.8 125.1h0.9M75.9 123.3h0.9M66.7 124.5h0.9M72.8 122.0h0.9M89.8 121.0h0.9M79.3 121.2h0.9M70.2 121.1h0.9M80.5 120.9h0.9M76.4 124.0h0.9M78.5 120.9h0.9M86.5 123.1h0.9M86.1 121.3h0.9M87.4 120.8h0.9M70.7 122.2h0.9M77.4 123.3h0.9M76.5 123.8h0.9M85.7 121.9h0.9M72.5 122.3h0.9M83.2 124.1h0.9M77.5 121.4h0.9M79.1 124.3h0.9M75.7 124.8h0.9M80.3 123.3h0.9M76.2 124.9h0.9M79.4 120.6h0.9M83.2 122.2h0.9M84.5 123.1h0.9M76.2 123.1h0.9M76.8 121.6h0.9M79.3 124.1h0.9M79.6 122.7h0.9M76.5 123.7h0.9M80.5 124.3h0.9M81.0 126.1h0.9M71.6 122.8h0.9M81.8 124.2h0.9M71.8 121.0h0.9M79.0 124.5h0.9M84.5 120.6h0.9M79.8 124.6h0.9M79.3 121.3h0.9M75.7 120.8h0.9M85.0 122.5h0.9M77.1 121.5h0.9M78.5 121.5h0.9M74.5 122.8h0.9M78.1 123.6h0.9M79.9 124.7h0.9M79.0 123.3h0.9M80.3 121.6h0.9M85.0 122.0h0.9M71.5 124.8h0.9M82.4 122.0h0.9M83.8 124.3h0.9M82.6 121.1h0.9M80.1 121.3h0.9M76.2 122.0h0.9M75.1 123.6h0.9M75.4 123.8h0.9M80.0 121.9h0.9M80.0 123.9h0.9M84.7 122.5h0.9M87.6 123.7h0.9M85.2 120.8h0.9M74.1 124.7h0.9M78.1 123.6h0.9M85.0 120.7h0.9M81.4 125.8h0.9M83.1 123.0h0.9M81.9 122.9h0.9M82.9 124.8h0.9M78.1 123.7h0.9M80.7 124.0h0.9M83.2 121.2h0.9M84.8 124.2h0.9M73.9 122.4h0.9M72.1 122.4h0.9M80.8 121.1h0.9M75.5 121.5h0.9M75.8 121.7h0.9M74.0 123.7h0.9M78.2 121.6h0.9M84.0 122.0h0.9M83.5 121.0h0.9M86.0 122.2h0.9M74.6 123.5h0.9M72.7 121.2h0.9M80.3 122.1h0.9M81.1 123.1h0.9M80.4 123.1h0.9M82.6 122.9h0.9M84.5 124.3h0.9M69.7 120.2h0.9M86.7 122.2h0.9M80.1 122.7h0.9M80.5 126.2h0.9M75.8 123.0h0.9M79.2 121.2h0.9M75.0 122.5h0.9M79.1 123.4h0.9M69.7 120.5h0.9M87.1 122.6h0.9M83.2 122.2h0.9M75.8 126.0h0.9M73.2 121.5h0.9M82.4 122.9h0.9M71.3 123.1h0.9M82.7 120.6h0.9M76.5 124.0h0.9M88.4 119.4h0.9M75.9 122.9h0.9M74.8 121.5h0.9M76.8 123.6h0.9M74.0 124.2h0.9M83.2 124.1h0.9M86.6 122.1h0.9M78.9 124.4h0.9M85.3 124.3h0.9M77.0 122.1h0.9M72.8 122.2h0.9M74.9 122.1h0.9M77.3 124.1h0.9M83.3 122.8h0.9M73.7 122.8h0.9M81.3 124.1h0.9M80.2 124.1h0.9M76.0 123.8h0.9M82.7 122.3h0.9M75.5 124.7h0.9M74.4 123.9h0.9M77.9 122.3h0.9M78.0 122.2h0.9M79.0 125.5h0.9M86.2 122.7h0.9M81.4 124.2h0.9M77.1 125.6h0.9M79.3 123.8h0.9M74.6 121.2h0.9M74.4 121.9h0.9M84.1 122.4h0.9M83.4 122.2h0.9M74.6 123.1h0.9M77.3 120.4h0.9M79.4 124.6h0.9M78.2 121.0h0.9M75.5 121.0h0.9M78.0 121.4h0.9M78.6 123.1h0.9M85.5 121.1h0.9M69.3 125.3h0.9M81.3 122.3h0.9M81.6 121.5h0.9M77.5 123.9h0.9M77.7 123.1h0.9M81.3 123.0h0.9M78.0 123.6h0.9M85.5 124.8h0.9M74.9 124.0h0.9M70.0 120.7h0.9M81.1 123.7h0.9M85.7 120.3h0.9M84.4 122.0h0.9M76.9 123.5h0.9M85.9 121.4h0.9M70.9 122.0h0.9M78.6 124.6h0.9M80.9 122.4h0.9M76.7 122.2h0.9M83.8 120.4h0.9M75.8 121.5h0.9M84.6 123.0h0.9M75.9 124.0h0.9M88.5 124.4h0.9M72.9 122.5h0.9M84.6 120.1h0.9M73.3 122.2h0.9M81.7 121.6h0.9M79.9 122.6h0.9M80.7 121.0h0.9M68.5 119.6h0.9M79.9 124.3h0.9M81.4 120.4h0.9M70.8 122.4h0.9M74.7 120.1h0.9M76.3 121.6h0.9M78.5 123.4h0.9M80.0 123.1h0.9M81.6 122.7h0.9M76.9 122.3h0.9M84.8 122.4h0.9M83.0 125.3h0.9M87.5 119.6h0.9M79.8 124.3h0.9M76.9 121.8h0.9M72.2 121.8h0.9M79.1 120.0h0.9M79.0 121.6h0.9M79.2 121.2h0.9M79.5 123.1h0.9M75.8 121.8h0.9M83.6 123.8h0.9M75.3 123.5h0.9M73.5 122.0h0.9M65.1 122.0h0.9M82.3 122.1h0.9M81.9 121.9h0.9M80.5 122.6h0.9M74.4 126.0h0.9M75.0 120.8h0.9M79.7 123.5h0.9M80.7 122.7h0.9M81.3 124.2h0.9M82.0 120.7h0.9M87.3 122.8h0.9M69.2 124.1h0.9M78.4 123.2h0.9M88.6 122.0h0.9M76.1 121.3h0.9M80.0 123.8h0.9M80.9 123.1h0.9M68.9 123.2h0.9M84.3 122.1h0.9M76.5 121.3h0.9M80.2 120.5h0.9M88.2 122.5h0.9M76.2 121.0h0.9M81.7 124.3h0.9M76.4 123.1h0.9M80.5 124.3h0.9M82.0 124.7h0.9M72.3 126.7h0.9M76.7 121.1h0.9M74.6 123.4h0.9M82.8 126.5h0.9M85.0 121.7h0.9M77.4 122.1h0.9M76.2 122.6h0.9M76.1 124.6h0.9M80.7 123.8h0.9M78.3 121.1h0.9M81.2 122.2h0.9M88.6 124.7h0.9M73.3 121.3h0.9M76.4 122.5h0.9M84.6 122.6h0.9M81.3 122.3h0.9M78.0 124.7h0.9M79.1 125.8h0.9M78.9 123.4h0.9M81.0 123.8h0.9M88.3 121.8h0.9M76.6 121.4h0.9M87.8 123.5h0.9M81.3 123.5h0.9M70.2 124.0h0.9M79.7 123.3h0.9M79.5 122.7h0.9M78.7 122.0h0.9M78.0 123.8h0.9M69.0 124.1h0.9M82.2 121.2h0.9M81.5 123.3h0.9M76.6 125.4h0.9M79.9 122.6h0.9M72.8 126.1h0.9M80.1 123.3h0.9M78.0 125.9h0.9M78.4 125.2h0.9M84.2 124.3h0.9M82.1 124.6h0.9M78.5 119.7h0.9M66.2 124.5h0.9M69.2 124.8h0.9M93.9 120.0h0.9M82.0 123.5h0.9M75.7 119.9h0.9M78.7 125.4h0.9M78.6 122.8h0.9M79.5 122.9h0.9M80.5 126.3h0.9M74.9 120.1h0.9M83.1 122.0h0.9M76.7 120.7h0.9M78.2 122.2h0.9M81.1 122.2h0.9M72.1 123.6h0.9M78.7 120.0h0.9M77.5 124.0h0.9M78.8 122.3h0.9M81.9 121.9h0.9M75.8 123.6h0.9M78.3 121.9h0.9M80.2 123.2h0.9M83.6 124.3h0.9M79.5 122.8h0.9M74.6 123.1h0.9M77.4 124.1h0.9M82.9 123.8h0.9M78.8 123.3h0.9M86.3 125.4h0.9M76.3 118.6h0.9M82.1 120.5h0.9M79.3 123.5h0.9M86.3 122.6h0.9M78.5 122.0h0.9M80.5 121.0h0.9M81.8 123.3h0.9M85.6 122.4h0.9M80.7 123.1h0.9M79.0 121.4h0.9M76.4 122.9h0.9M81.5 124.4h0.9M76.2 123.2h0.9M82.0 124.1h0.9M80.3 123.2h0.9M77.5 122.9h0.9M78.2 120.2h0.9M73.9 117.1h0.9M83.0 125.5h0.9M76.5 123.7h0.9M80.4 122.6h0.9M90.2 122.8h0.9M81.6 123.1h0.9M94.2 119.0h0.9M80.7 119.8h0.9M73.9 120.8h0.9M85.0 120.5h0.9M71.7 122.4h0.9M72.1 120.7h0.9M91.0 121.6h0.9M73.2 126.8h0.9M79.9 126.2h0.9M67.1 122.5h0.9M82.8 123.8h0.9M83.3 126.5h0.9M83.6 126.1h0.9M84.8 121.3h0.9M80.7 126.7h0.9M72.2 124.7h0.9M84.0 126.7h0.9M66.8 129.4h0.9M67.6 123.3h0.9M98.2 119.8h0.9M96.0 124.0h0.9M93.6 127.0h0.9M80.4 121.3h0.9M76.9 119.9h0.9M68.9 124.3h0.9M68.4 124.2h0.9M78.7 122.9h0.9M71.5 120.1h0.9M85.2 120.8h0.9M74.9 122.8h0.9M84.3 128.4h0.9M93.9 125.3h0.9M84.3 125.0h0.9M77.7 122.8h0.9M66.3 124.7h0.9M75.5 124.3h0.9M96.0 125.5h0.9M87.8 125.6h0.9M75.1 121.6h0.9M68.3 121.8h0.9M80.5 125.1h0.9M83.5 122.4h0.9M70.8 123.4h0.9M81.6 118.1h0.9M79.9 119.6h0.9M75.8 122.9h0.9M71.9 122.0h0.9M79.3 120.7h0.9M84.3 125.0h0.9M83.3 120.5h0.9M77.7 122.4h0.9M80.1 125.2h0.9M75.2 123.3h0.9M85.3 122.4h0.9M84.6 123.2h0.9M68.6 123.2h0.9M80.3 122.2h0.9M93.5 122.3h0.9M68.2 122.9h0.9M77.5 124.6h0.9M98.1 123.6h0.9M85.3 121.4h0.9M72.2 121.4h0.9M77.7 122.1h0.9M56.1 122.3h0.9M46.0 122.0h0.9M62.8 121.1h0.9M62.8 127.8h0.9M48.3 126.0h0.9M63.3 117.5h0.9M63.4 125.4h0.9M49.5 128.1h0.9M58.4 121.4h0.9M57.1 120.2h0.9M61.3 125.2h0.9M66.6 127.2h0.9M50.3 125.0h0.9M50.9 116.9h0.9M64.2 126.7h0.9M58.0 128.0h0.9M55.6 119.7h0.9M52.2 123.2h0.9M58.5 122.9h0.9M54.9 126.5h0.9M50.5 120.7h0.9M52.1 126.0h0.9M66.7 121.5h0.9M61.9 127.0h0.9M62.9 121.2h0.9M61.3 122.6h0.9M51.8 128.5h0.9M55.8 125.0h0.9M66.5 127.8h0.9M58.5 122.4h0.9M55.7 122.2h0.9M55.1 123.6h0.9M43.5 121.9h0.9M44.1 123.7h0.9M62.9 125.6h0.9M57.7 121.5h0.9M55.6 120.6h0.9M61.0 120.1h0.9M50.7 128.0h0.9M59.7 121.5h0.9M54.3 121.4h0.9M49.3 122.8h0.9M48.9 124.3h0.9M65.2 121.8h0.9M48.2 121.9h0.9M50.9 124.1h0.9M50.4 121.7h0.9M50.3 126.2h0.9M64.4 126.3h0.9M57.7 121.6h0.9M67.8 129.2h0.9M50.6 122.4h0.9M65.4 125.5h0.9M59.5 128.8h0.9M54.6 121.9h0.9M53.0 124.4h0.9M57.7 126.8h0.9M62.6 122.1h0.9M62.4 123.4h0.9M68.9 126.6h0.9M51.0 125.2h0.9M45.0 124.9h0.9M56.8 124.9h0.9M45.8 121.8h0.9M51.3 123.3h0.9M61.8 121.8h0.9M62.6 125.9h0.9M45.2 125.4h0.9M57.0 125.6h0.9M57.6 126.8h0.9M49.9 129.0h0.9M65.4 121.0h0.9M42.8 126.3h0.9M42.7 121.9h0.9M60.1 123.5h0.9M57.3 118.6h0.9M49.6 125.0h0.9M73.7 124.8h0.9M56.3 124.1h0.9M64.7 125.3h0.9M48.4 119.0h0.9M54.0 122.8h0.9M71.6 121.7h0.9M62.4 119.0h0.9M62.6 120.7h0.9M56.2 123.3h0.9M56.8 123.8h0.9M46.2 125.2h0.9M48.3 123.7h0.9M48.6 123.7h0.9M54.9 123.3h0.9M49.1 126.7h0.9M54.4 123.9h0.9M45.1 120.7h0.9M74.1 123.4h0.9M62.8 122.5h0.9M46.5 128.1h0.9M61.2 120.9h0.9M54.8 123.7h0.9M53.3 123.5h0.9M50.0 123.5h0.9M52.1 122.9h0.9M49.2 127.4h0.9M52.0 123.2h0.9M57.8 123.8h0.9M44.5 125.8h0.9M45.2 122.1h0.9M59.1 123.2h0.9M49.5 123.7h0.9M48.3 122.2h0.9M45.5 120.7h0.9M47.1 123.8h0.9M107.6 121.0h0.9M117.6 122.3h0.9M106.0 125.0h0.9M115.3 126.0h0.9M111.8 123.2h0.9M104.0 124.7h0.9M76.4 129.2h0.9M73.6 140.4h0.9M63.6 143.1h0.9M82.3 144.1h0.9M60.3 140.3h0.9M73.5 134.8h0.9M60.6 130.5h0.9M87.0 133.7h0.9M63.0 133.3h0.9M73.3 137.4h0.9M88.5 130.4h0.9M62.8 143.2h0.9M84.9 130.1h0.9M67.9 145.9h0.9M94.0 134.4h0.9M82.5 134.6h0.9M96.4 166.4h0.9M74.2 165.2h0.9M72.7 164.0h0.9M84.9 159.7h0.9M88.5 162.9h0.9M82.8 161.1h0.9M90.1 164.5h0.9M89.7 163.8h0.9M82.2 160.1h0.9M86.1 159.0h0.9M81.1 166.0h0.9M86.1 161.3h0.9M86.0 160.6h0.9M92.3 161.4h0.9M85.0 157.0h0.9M80.8 156.4h0.9M87.3 164.9h0.9M88.4 160.8h0.9M85.1 164.0h0.9M82.7 154.6h0.9M96.2 164.6h0.9M90.1 166.1h0.9M80.6 162.2h0.9M82.0 167.3h0.9M85.9 159.1h0.9M84.7 164.6h0.9M97.0 158.1h0.9M86.6 168.0h0.9M88.6 159.6h0.9M84.7 162.9h0.9M90.4 167.1h0.9M73.4 162.7h0.9M80.7 163.7h0.9M82.5 164.1h0.9M76.2 163.4h0.9M88.1 168.1h0.9M94.0 162.4h0.9M81.6 168.5h0.9M87.1 163.9h0.9M88.3 155.8h0.9M79.7 158.3h0.9M78.5 169.6h0.9M74.2 161.7h0.9M84.5 158.4h0.9M87.1 158.6h0.9M76.7 156.6h0.9M92.7 160.6h0.9M86.1 165.1h0.9M87.4 159.0h0.9M89.6 167.3h0.9M76.7 166.2h0.9M88.0 167.5h0.9M88.4 161.7h0.9M80.6 165.5h0.9M87.2 164.4h0.9M82.1 167.8h0.9M90.4 167.5h0.9M81.6 165.3h0.9M90.6 156.4h0.9M80.8 163.7h0.9M76.6 162.1h0.9M85.6 155.7h0.9M88.4 162.5h0.9M92.3 162.4h0.9M82.2 162.3h0.9M87.5 154.1h0.9M83.3 165.9h0.9M89.4 164.2h0.9M78.7 162.1h0.9M87.6 162.6h0.9M86.0 171.1h0.9M96.3 160.5h0.9M79.5 162.7h0.9M92.7 157.8h0.9M79.5 156.8h0.9M91.6 160.4h0.9M84.7 170.0h0.9M88.8 161.1h0.9M77.6 167.7h0.9M85.6 161.1h0.9M86.5 159.3h0.9M86.3 163.5h0.9M78.8 163.7h0.9M88.6 169.2h0.9M90.2 162.5h0.9M87.2 162.7h0.9M79.7 161.6h0.9M86.1 157.9h0.9M84.8 165.2h0.9M94.8 162.1h0.9M83.3 159.6h0.9M75.9 165.2h0.9M82.2 159.5h0.9M78.8 169.3h0.9M92.9 164.7h0.9M83.1 157.2h0.9M72.5 159.1h0.9M80.6 169.4h0.9M83.4 155.1h0.9M93.1 165.4h0.9M82.8 164.2h0.9M88.8 160.5h0.9M80.1 163.3h0.9M88.7 165.0h0.9M78.7 158.2h0.9M84.9 159.9h0.9M83.4 171.1h0.9M75.6 161.3h0.9M79.1 163.6h0.9M95.9 164.3h0.9M92.6 158.4h0.9M86.7 168.8h0.9M83.0 159.1h0.9M76.3 169.3h0.9M84.4 168.8h0.9M86.2 162.8h0.9M89.8 163.6h0.9M91.9 159.9h0.9M81.7 162.8h0.9M82.1 161.6h0.9M89.8 164.2h0.9M84.5 170.5h0.9M77.4 159.9h0.9M84.0 167.0h0.9M88.6 165.0h0.9M93.6 162.2h0.9M80.8 168.0h0.9M94.0 158.0h0.9M81.7 162.1h0.9M87.1 163.1h0.9M89.3 155.3h0.9M82.1 155.5h0.9M89.9 167.2h0.9M86.5 162.6h0.9M84.5 162.1h0.9M80.4 164.7h0.9M88.7 159.4h0.9M87.4 169.2h0.9M100.8 155.9h0.9M82.3 160.5h0.9M87.8 169.4h0.9M76.6 165.2h0.9M86.9 168.3h0.9M87.9 159.5h0.9M86.6 160.3h0.9M84.1 161.3h0.9M85.1 164.3h0.9M87.3 167.8h0.9M89.0 154.7h0.9M88.7 160.7h0.9M90.6 160.6h0.9M80.3 156.1h0.9M84.3 166.2h0.9M80.1 164.1h0.9M83.5 153.4h0.9M84.0 161.3h0.9M87.9 155.0h0.9M88.7 162.2h0.9M90.3 160.6h0.9M81.3 161.4h0.9M84.9 167.3h0.9M80.9 161.1h0.9M79.2 160.9h0.9M86.6 169.0h0.9M84.3 163.6h0.9M85.3 167.3h0.9M83.4 161.3h0.9M86.8 161.3h0.9M86.3 162.1h0.9M83.1 166.4h0.9M83.8 160.7h0.9M87.9 170.8h0.9M86.7 161.7h0.9M89.3 164.9h0.9M79.4 167.8h0.9M92.7 160.2h0.9M83.0 165.3h0.9M87.0 163.2h0.9M92.6 155.5h0.9M82.2 164.9h0.9M87.7 160.0h0.9M75.0 167.9h0.9M90.4 163.2h0.9M87.0 167.3h0.9M98.4 157.9h0.9M85.2 153.6h0.9M78.2 167.8h0.9M83.4 152.6h0.9M77.6 169.2h0.9M87.8 168.2h0.9M94.1 160.1h0.9M85.2 159.6h0.9M79.8 166.7h0.9M86.4 159.3h0.9M75.7 160.6h0.9M83.3 159.2h0.9M89.4 165.0h0.9M87.6 168.0h0.9M83.2 162.3h0.9M96.9 158.5h0.9M86.6 165.9h0.9M86.4 162.2h0.9M88.0 166.2h0.9M86.1 161.2h0.9M75.4 161.1h0.9M80.6 158.9h0.9M79.7 156.6h0.9M80.4 162.9h0.9M77.9 156.4h0.9M91.8 166.3h0.9M82.0 163.8h0.9M84.0 164.0h0.9M88.3 157.2h0.9M74.3 166.1h0.9M87.7 158.4h0.9M92.6 163.8h0.9M85.9 168.7h0.9M93.4 167.3h0.9M87.2 160.2h0.9M86.1 160.6h0.9M89.6 167.1h0.9M85.4 167.1h0.9M78.3 168.2h0.9M86.9 153.1h0.9M85.3 166.1h0.9M87.9 158.4h0.9M90.2 166.1h0.9M85.6 169.0h0.9M82.2 164.0h0.9M85.1 152.8h0.9M87.3 165.1h0.9M81.5 162.5h0.9M91.0 161.3h0.9M88.5 163.9h0.9M85.9 165.9h0.9M75.7 156.6h0.9M79.2 166.0h0.9M91.5 161.1h0.9M76.4 168.9h0.9M82.4 158.2h0.9M86.7 159.3h0.9M88.4 164.5h0.9M79.4 170.4h0.9M84.9 164.3h0.9M93.1 167.7h0.9M70.8 162.4h0.9M83.4 164.7h0.9M89.0 169.5h0.9M73.8 162.3h0.9M91.4 160.8h0.9M94.5 167.3h0.9M90.6 158.4h0.9M75.1 160.9h0.9M84.3 163.2h0.9M91.3 161.1h0.9M78.6 170.6h0.9M93.6 157.7h0.9M84.4 139.8h0.9M75.9 160.3h0.9M90.2 159.9h0.9M84.3 157.4h0.9M79.3 169.6h0.9M102.8 166.7h0.9M82.2 148.7h0.9M92.5 154.9h0.9M82.9 162.4h0.9M98.6 156.0h0.9M83.0 165.1h0.9M93.4 159.9h0.9M88.9 164.5h0.9M82.0 151.3h0.9M84.6 169.2h0.9M75.8 156.3h0.9M93.7 169.2h0.9M89.2 162.6h0.9M71.3 153.9h0.9M79.8 151.0h0.9M93.8 154.6h0.9M106.1 154.3h0.9M88.5 158.3h0.9M83.8 166.8h0.9M76.9 159.2h0.9M95.4 156.0h0.9M108.6 153.3h0.9M92.7 162.2h0.9M89.9 160.7h0.9M82.2 163.3h0.9M81.2 155.8h0.9M100.9 150.4h0.9M91.5 157.8h0.9M68.6 147.5h0.9M78.0 163.8h0.9M97.0 160.6h0.9M96.9 161.5h0.9M87.6 162.1h0.9M96.3 154.6h0.9M69.8 168.4h0.9M86.5 162.7h0.9M95.2 163.2h0.9M85.4 169.1h0.9M95.5 159.8h0.9M88.1 158.7h0.9M85.0 157.3h0.9M92.6 155.6h0.9M80.6 165.2h0.9M87.7 169.8h0.9M81.3 161.3h0.9M84.5 166.3h0.9M85.1 164.2h0.9M73.2 158.3h0.9M99.0 161.2h0.9M89.2 167.1h0.9M88.6 156.7h0.9M88.0 159.0h0.9M85.8 161.3h0.9M93.3 168.0h0.9M99.0 156.7h0.9M88.3 168.3h0.9M81.4 157.7h0.9M101.6 165.3h0.9M93.0 158.9h0.9M98.0 167.0h0.9M87.0 162.6h0.9M91.7 160.8h0.9M86.9 169.0h0.9M83.7 153.2h0.9M95.1 171.2h0.9M82.1 163.8h0.9M87.5 157.2h0.9M80.1 163.0h0.9M71.8 162.5h0.9M69.5 160.8h0.9M78.2 162.6h0.9M83.0 160.2h0.9M87.3 163.6h0.9M89.0 164.9h0.9M92.3 162.2h0.9M96.4 164.0h0.9M94.1 156.4h0.9M74.6 167.2h0.9M75.0 156.0h0.9M85.0 156.8h0.9M92.5 163.0h0.9M89.6 169.8h0.9M87.7 159.3h0.9M76.7 157.8h0.9M80.1 162.4h0.9M101.2 160.7h0.9M87.9 150.8h0.9M101.9 155.8h0.9M88.5 153.0h0.9M93.4 161.9h0.9M78.7 169.3h0.9M99.5 162.7h0.9M57.7 164.2h0.9M56.9 166.1h0.9M58.0 159.3h0.9M52.4 168.7h0.9M63.5 167.0h0.9M61.9 166.7h0.9M48.9 162.6h0.9M48.8 162.7h0.9M59.0 164.7h0.9M62.4 159.1h0.9M57.8 171.0h0.9M66.8 162.9h0.9M56.0 162.7h0.9M64.7 165.1h0.9M61.6 169.7h0.9M62.9 166.1h0.9M59.8 164.2h0.9M61.5 158.1h0.9M57.6 154.4h0.9M58.7 156.4h0.9M62.5 170.1h0.9M57.7 166.7h0.9M65.6 153.1h0.9M67.0 153.3h0.9M51.9 156.4h0.9M51.8 154.6h0.9M61.2 166.3h0.9M64.6 166.0h0.9M67.1 162.3h0.9M58.3 170.7h0.9M56.8 169.8h0.9M58.9 154.3h0.9M55.2 160.1h0.9M61.0 165.1h0.9M64.2 166.0h0.9M66.3 153.9h0.9M63.0 171.4h0.9M56.4 166.9h0.9M65.9 158.7h0.9M48.4 158.8h0.9M58.9 167.5h0.9M63.5 166.0h0.9M59.5 161.1h0.9M56.8 163.0h0.9M58.2 162.9h0.9M56.6 157.8h0.9M62.7 159.9h0.9M64.3 168.8h0.9M53.4 154.4h0.9M53.3 157.9h0.9M60.0 169.6h0.9M61.9 170.9h0.9M48.3 167.0h0.9M52.7 157.9h0.9M60.6 158.8h0.9M56.6 155.3h0.9M57.5 166.8h0.9M62.5 164.4h0.9M57.5 166.6h0.9M61.5 168.2h0.9M64.4 166.6h0.9M63.3 164.5h0.9M64.6 157.3h0.9M55.3 158.2h0.9M57.4 161.1h0.9M66.8 164.8h0.9M50.8 149.3h0.9M69.7 162.5h0.9M66.7 155.4h0.9M49.8 165.9h0.9M49.6 155.4h0.9M72.4 163.6h0.9M67.6 167.1h0.9M47.2 151.5h0.9M51.6 169.0h0.9M70.9 151.4h0.9M59.9 150.2h0.9M58.1 167.0h0.9M57.4 154.8h0.9M49.6 166.1h0.9M59.5 149.6h0.9M50.3 151.0h0.9M57.6 152.2h0.9M56.0 152.2h0.9M74.0 165.3h0.9M45.2 164.6h0.9M47.2 166.3h0.9M61.1 165.7h0.9M57.5 165.1h0.9M55.3 163.6h0.9M52.1 152.1h0.9M108.3 155.5h0.9M107.4 149.8h0.9M102.5 149.7h0.9M105.4 151.1h0.9M103.7 152.8h0.9M105.4 149.6h0.9M48.2 171.1h0.9M62.4 171.1h0.9M49.8 171.1h0.9M62.3 171.1h0.9M48.9 171.1h0.9M56.2 171.1h0.9M54.3 171.1h0.9M68.2 171.1h0.9M50.0 171.1h0.9M69.0 171.1h0.9M54.3 171.1h0.9M51.5 171.1h0.9M58.8 171.1h0.9M69.0 171.1h0.9M60.9 171.1h0.9M50.7 171.1h0.9M70.4 171.1h0.9M51.2 171.1h0.9M66.9 171.1h0.9M65.5 171.1h0.9M70.7 171.1h0.9M70.8 171.1h0.9M62.8 171.1h0.9M63.5 171.1h0.9M67.3 171.1h0.9" stroke="#000" stroke-width="0.9" fill="none"/>
<path d="M41.5 104.5H129.5V172" stroke="#000" stroke-width="1.1" fill="none"/>
<path d="M42.1 104V172.7" stroke="#000" stroke-width="1.5" fill="none"/>
<path d="M42 172H130" stroke="#000" stroke-width="1.5" fill="none"/>
<path d="M70.5 104.3V172M42 147.5H129.9" stroke="#000" stroke-width="1" fill="none"/>
<path d="M48.62 172v2.3M52.48 172v2.3M55.23 172v2.3M57.36 172v2.3M59.1 172v2.3M60.57 172v2.3M61.85 172v2.3M62.97 172v2.3M70.59 172v2.3M74.46 172v2.3M77.21 172v2.3M79.33 172v2.3M81.07 172v2.3M82.55 172v2.3M83.82 172v2.3M84.94 172v2.3M92.57 172v2.3M96.43 172v2.3M99.18 172v2.3M101.31 172v2.3M103.05 172v2.3M104.52 172v2.3M105.8 172v2.3M106.92 172v2.3M114.54 172v2.3M118.41 172v2.3M121.16 172v2.3M123.28 172v2.3M125.02 172v2.3M126.5 172v2.3M127.77 172v2.3M128.89 172v2.3" stroke="#000" stroke-width="0.95" fill="none"/>
<path d="M42 172v3.9M63.98 172v3.9M85.95 172v3.9M107.93 172v3.9M129.9 172v3.9" stroke="#000" stroke-width="1.25" fill="none"/>
<path d="M42 166.91h-2.3M42 163.92h-2.3M42 161.81h-2.3M42 160.17h-2.3M42 158.83h-2.3M42 157.7h-2.3M42 156.72h-2.3M42 155.85h-2.3M42 149.98h-2.3M42 147h-2.3M42 144.89h-2.3M42 143.24h-2.3M42 141.9h-2.3M42 140.77h-2.3M42 139.79h-2.3M42 138.92h-2.3M42 133.06h-2.3M42 130.07h-2.3M42 127.96h-2.3M42 126.32h-2.3M42 124.98h-2.3M42 123.85h-2.3M42 122.87h-2.3M42 122h-2.3M42 116.13h-2.3M42 113.15h-2.3M42 111.04h-2.3M42 109.39h-2.3M42 108.05h-2.3M42 106.92h-2.3M42 105.94h-2.3M42 105.07h-2.3" stroke="#000" stroke-width="0.95" fill="none"/>
<path d="M42 172h-4M42 155.07h-4M42 138.15h-4M42 121.22h-4M42 104.3h-4" stroke="#000" stroke-width="1.25" fill="none"/>
<text x="45.3" y="185.3" class="tk" font-size="8.9" text-anchor="end" textLength="7.48" lengthAdjust="spacingAndGlyphs">10</text>
<text x="45.3" y="181.12" class="te" font-size="7.39" textLength="3.47" lengthAdjust="spacingAndGlyphs">0</text>
<text x="66.4" y="185.3" class="tk" font-size="8.9" text-anchor="end" textLength="7.48" lengthAdjust="spacingAndGlyphs">10</text>
<text x="66.4" y="181.12" class="te" font-size="7.39" textLength="3.47" lengthAdjust="spacingAndGlyphs">1</text>
<text x="87.5" y="185.3" class="tk" font-size="8.9" text-anchor="end" textLength="7.48" lengthAdjust="spacingAndGlyphs">10</text>
<text x="87.5" y="181.12" class="te" font-size="7.39" textLength="3.47" lengthAdjust="spacingAndGlyphs">2</text>
<text x="108.6" y="185.3" class="tk" font-size="8.9" text-anchor="end" textLength="7.48" lengthAdjust="spacingAndGlyphs">10</text>
<text x="108.6" y="181.12" class="te" font-size="7.39" textLength="3.47" lengthAdjust="spacingAndGlyphs">3</text>
<text x="129.7" y="185.3" class="tk" font-size="8.9" text-anchor="end" textLength="7.48" lengthAdjust="spacingAndGlyphs">10</text>
<text x="129.7" y="181.12" class="te" font-size="7.39" textLength="3.47" lengthAdjust="spacingAndGlyphs">4</text>
<clipPath id="yc12"><rect x="0" y="100.3" width="60" height="120"/></clipPath><g clip-path="url(#yc12)">
<g transform="translate(36 172) rotate(-90)">
<text x="1.6" y="0" class="tk" font-size="8.9" text-anchor="end" textLength="7.48" lengthAdjust="spacingAndGlyphs">10</text>
<text x="3.1" y="-5.07" class="te" font-size="7.39" textLength="3.47" lengthAdjust="spacingAndGlyphs">0</text>
</g>
<g transform="translate(36 155.28) rotate(-90)">
<text x="1.6" y="0" class="tk" font-size="8.9" text-anchor="end" textLength="7.48" lengthAdjust="spacingAndGlyphs">10</text>
<text x="3.1" y="-5.07" class="te" font-size="7.39" textLength="3.47" lengthAdjust="spacingAndGlyphs">1</text>
</g>
<g transform="translate(36 138.55) rotate(-90)">
<text x="1.6" y="0" class="tk" font-size="8.9" text-anchor="end" textLength="7.48" lengthAdjust="spacingAndGlyphs">10</text>
<text x="3.1" y="-5.07" class="te" font-size="7.39" textLength="3.47" lengthAdjust="spacingAndGlyphs">2</text>
</g>
<g transform="translate(36 121.82) rotate(-90)">
<text x="1.6" y="0" class="tk" font-size="8.9" text-anchor="end" textLength="7.48" lengthAdjust="spacingAndGlyphs">10</text>
<text x="3.1" y="-5.07" class="te" font-size="7.39" textLength="3.47" lengthAdjust="spacingAndGlyphs">3</text>
</g>
<g transform="translate(36 105.1) rotate(-90)">
<text x="1.6" y="0" class="tk" font-size="8.9" text-anchor="end" textLength="7.48" lengthAdjust="spacingAndGlyphs">10</text>
<text x="3.1" y="-5.07" class="te" font-size="7.39" textLength="3.47" lengthAdjust="spacingAndGlyphs">4</text>
</g>
</g>
<path d="M62.6 215.1h0.9M59.6 210.1h0.9M64.3 213.8h0.9M64.9 213.7h0.9M62.8 212.0h0.9M60.0 212.6h0.9M61.7 214.3h0.9M66.2 211.0h0.9M66.5 212.9h0.9M68.4 215.2h0.9M65.9 210.3h0.9M66.4 210.6h0.9M70.4 212.0h0.9M62.6 215.7h0.9M55.6 213.0h0.9M58.7 212.2h0.9M59.9 214.0h0.9M62.1 213.5h0.9M66.3 210.4h0.9M69.7 212.6h0.9M56.1 212.0h0.9M67.4 214.5h0.9M60.4 213.1h0.9M64.6 214.5h0.9M62.9 214.5h0.9M59.5 211.9h0.9M66.5 214.1h0.9M63.3 213.9h0.9M64.4 214.1h0.9M68.7 213.8h0.9M67.2 212.4h0.9M61.0 209.4h0.9M65.3 213.0h0.9M65.9 210.1h0.9M61.3 212.1h0.9M55.4 214.4h0.9M69.0 211.0h0.9M65.5 215.6h0.9M58.1 214.5h0.9M70.6 215.8h0.9M57.4 211.3h0.9M64.5 214.8h0.9M57.9 211.8h0.9M58.5 214.7h0.9M61.0 213.9h0.9M66.4 214.8h0.9M65.4 213.5h0.9M68.7 213.7h0.9M57.8 212.2h0.9M67.6 213.2h0.9M61.9 213.4h0.9M78.5 212.9h0.9M65.7 213.7h0.9M62.3 214.8h0.9M67.4 213.6h0.9M57.4 214.9h0.9M67.0 212.8h0.9M51.4 212.9h0.9M58.0 212.6h0.9M61.2 211.7h0.9M68.1 213.2h0.9M69.1 211.5h0.9M62.7 215.1h0.9M65.0 211.9h0.9M59.5 212.1h0.9M63.1 214.0h0.9M64.2 214.1h0.9M67.3 213.2h0.9M69.3 214.1h0.9M62.7 212.7h0.9M63.4 211.8h0.9M57.4 213.0h0.9M61.2 213.9h0.9M60.8 213.1h0.9M64.4 212.2h0.9M64.4 211.9h0.9M61.6 214.2h0.9M65.3 213.0h0.9M59.9 214.0h0.9M72.5 209.6h0.9M68.2 213.3h0.9M68.5 214.8h0.9M58.9 215.6h0.9M60.8 212.6h0.9M66.3 212.8h0.9M64.7 212.2h0.9M58.8 213.0h0.9M58.6 215.0h0.9M64.6 215.1h0.9M57.8 209.8h0.9M53.2 212.4h0.9M57.7 213.5h0.9M56.9 210.8h0.9M64.7 212.4h0.9M66.5 214.2h0.9M65.1 211.1h0.9M59.6 216.4h0.9M62.4 213.4h0.9M64.0 212.9h0.9M62.7 212.1h0.9M61.1 209.9h0.9M71.0 212.8h0.9M57.5 213.8h0.9M66.5 210.7h0.9M61.1 215.3h0.9M65.9 213.6h0.9M68.0 212.8h0.9M62.1 215.4h0.9M62.6 212.8h0.9M66.3 213.0h0.9M57.9 215.9h0.9M63.1 215.7h0.9M65.8 211.6h0.9M70.4 212.7h0.9M59.6 212.9h0.9M53.8 213.6h0.9M60.2 212.6h0.9M59.4 214.0h0.9M65.1 214.6h0.9M71.0 213.4h0.9M63.9 213.4h0.9M59.8 212.1h0.9M66.9 211.6h0.9M54.7 212.4h0.9M64.6 215.2h0.9M60.2 211.5h0.9M63.9 212.7h0.9M64.6 212.2h0.9M64.4 212.1h0.9M67.9 213.4h0.9M66.0 212.3h0.9M57.0 213.0h0.9M63.2 214.6h0.9M67.8 212.9h0.9M63.2 211.4h0.9M63.3 213.3h0.9M61.6 211.3h0.9M69.2 211.5h0.9M70.9 214.8h0.9M70.4 211.7h0.9M66.3 210.8h0.9M61.8 210.6h0.9M60.1 212.2h0.9M67.7 214.6h0.9M61.8 212.5h0.9M59.2 211.2h0.9M55.4 212.6h0.9M66.1 211.8h0.9M65.0 211.2h0.9M58.9 212.1h0.9M67.4 212.1h0.9M66.8 212.4h0.9M58.4 209.9h0.9M61.3 211.5h0.9M67.4 213.6h0.9M56.1 214.2h0.9M65.8 208.5h0.9M58.7 213.3h0.9M56.3 211.8h0.9M65.7 213.3h0.9M65.4 213.9h0.9M59.4 216.5h0.9M65.7 216.2h0.9M62.2 213.8h0.9M64.9 212.7h0.9M64.8 213.3h0.9M67.0 213.4h0.9M63.6 213.7h0.9M69.8 213.0h0.9M66.0 213.1h0.9M54.6 211.6h0.9M59.3 210.8h0.9M60.6 210.2h0.9M64.5 212.1h0.9M68.8 213.5h0.9M57.7 212.6h0.9M63.5 211.9h0.9M61.7 211.3h0.9M60.1 213.3h0.9M61.9 214.7h0.9M54.0 211.7h0.9M61.7 215.1h0.9M68.2 214.0h0.9M67.6 215.3h0.9M66.3 212.6h0.9M64.1 211.8h0.9M62.3 213.5h0.9M61.1 213.1h0.9M61.4 210.9h0.9M56.9 213.9h0.9M63.4 214.1h0.9M62.8 212.9h0.9M64.4 212.4h0.9M69.3 214.4h0.9M65.0 211.3h0.9M60.9 213.2h0.9M68.3 212.8h0.9M63.1 213.7h0.9M63.7 212.6h0.9M58.2 214.7h0.9M63.0 212.1h0.9M62.7 210.9h0.9M55.8 210.2h0.9M64.8 210.9h0.9M63.6 211.1h0.9M55.3 211.9h0.9M59.9 211.8h0.9M70.7 213.1h0.9M60.5 214.1h0.9M61.7 214.7h0.9M56.2 214.5h0.9M58.3 211.7h0.9M64.0 211.2h0.9M55.9 212.2h0.9M61.8 210.4h0.9M67.4 211.6h0.9M60.3 212.5h0.9M63.3 214.4h0.9M53.6 212.8h0.9M66.9 213.2h0.9M62.7 211.1h0.9M64.5 212.1h0.9M63.6 211.2h0.9M61.6 212.6h0.9M56.5 214.3h0.9M62.5 210.9h0.9M61.9 213.0h0.9M61.5 211.3h0.9M62.0 210.8h0.9M55.7 214.6h0.9M70.5 215.6h0.9M73.0 214.8h0.9M58.9 212.0h0.9M67.8 212.1h0.9M61.5 212.8h0.9M64.9 210.8h0.9M63.1 213.5h0.9M54.0 214.5h0.9M66.4 211.6h0.9M71.1 213.4h0.9M65.1 215.1h0.9M51.7 212.8h0.9M67.7 214.9h0.9M62.8 212.5h0.9M59.6 212.3h0.9M59.2 209.2h0.9M60.4 211.3h0.9M60.4 212.1h0.9M60.9 213.0h0.9M62.7 212.3h0.9M60.3 212.6h0.9M61.6 212.6h0.9M69.1 213.2h0.9M61.2 209.7h0.9M56.6 208.4h0.9M66.9 214.4h0.9M61.2 212.1h0.9M65.1 213.7h0.9M55.3 212.4h0.9M61.6 210.9h0.9M69.2 213.9h0.9M60.3 212.7h0.9M60.6 212.0h0.9M61.3 214.3h0.9M63.0 212.1h0.9M60.0 213.2h0.9M59.1 210.4h0.9M62.4 215.2h0.9M60.0 213.0h0.9M62.1 214.6h0.9M65.1 210.9h0.9M70.7 212.8h0.9M59.0 212.0h0.9M63.3 214.4h0.9M61.8 211.7h0.9M68.8 215.2h0.9M61.4 213.0h0.9M64.6 212.3h0.9M59.0 214.4h0.9M58.2 210.0h0.9M65.6 214.5h0.9M66.6 211.6h0.9M61.9 211.2h0.9M60.7 209.1h0.9M59.2 214.9h0.9M57.8 215.4h0.9M63.8 209.8h0.9M67.2 211.4h0.9M65.4 212.5h0.9M61.5 212.5h0.9M57.2 211.7h0.9M61.2 215.5h0.9M60.5 213.3h0.9M65.0 214.6h0.9M62.0 213.1h0.9M58.9 216.6h0.9M56.4 213.2h0.9M61.5 213.1h0.9M60.7 212.1h0.9M67.4 214.2h0.9M62.7 212.6h0.9M63.8 212.7h0.9M65.0 214.0h0.9M65.1 210.4h0.9M62.8 211.2h0.9M65.0 212.4h0.9M64.4 212.7h0.9M67.2 214.9h0.9M63.8 210.6h0.9M63.1 215.8h0.9M60.0 212.7h0.9M73.9 215.4h0.9M65.9 213.2h0.9M57.2 215.3h0.9M67.1 210.3h0.9M62.5 212.6h0.9M62.8 211.8h0.9M74.0 211.5h0.9M69.5 213.8h0.9M63.1 213.5h0.9M66.4 211.7h0.9M61.4 214.6h0.9M67.2 213.4h0.9M57.8 210.4h0.9M69.7 215.0h0.9M65.4 213.4h0.9M61.7 213.6h0.9M68.4 214.0h0.9M60.7 213.4h0.9M60.7 212.7h0.9M58.2 209.3h0.9M58.5 213.1h0.9M59.6 213.7h0.9M60.6 213.3h0.9M61.1 215.0h0.9M61.4 212.9h0.9M68.2 215.1h0.9M58.0 215.1h0.9M58.4 211.4h0.9M59.4 214.4h0.9M47.7 214.6h0.9M59.6 212.8h0.9M59.9 217.8h0.9M69.1 211.4h0.9M58.4 212.4h0.9M55.2 212.1h0.9M60.6 211.4h0.9M46.3 213.4h0.9M58.8 215.9h0.9M61.7 211.4h0.9M48.9 214.0h0.9M58.4 214.9h0.9M66.9 208.3h0.9M51.4 214.5h0.9M47.7 217.0h0.9M55.6 214.6h0.9M54.6 214.1h0.9M59.5 214.5h0.9M45.3 209.1h0.9M55.6 215.0h0.9M54.3 212.9h0.9M64.9 214.7h0.9M48.7 213.7h0.9M54.6 213.4h0.9M55.7 214.6h0.9M56.2 214.0h0.9M56.6 212.8h0.9M51.8 213.9h0.9M59.9 216.8h0.9M76.1 211.8h0.9M51.1 215.6h0.9M53.0 213.6h0.9M46.3 214.6h0.9M44.7 215.5h0.9M49.7 213.8h0.9M64.2 211.5h0.9M55.4 218.0h0.9M45.2 213.6h0.9M55.0 210.8h0.9M46.9 216.0h0.9M61.7 210.7h0.9M62.8 211.3h0.9M50.0 214.2h0.9M55.4 214.5h0.9M65.0 211.9h0.9M60.7 214.0h0.9M43.1 215.0h0.9M64.3 210.3h0.9M53.8 215.4h0.9M63.5 212.5h0.9M54.5 212.6h0.9M46.6 213.5h0.9M73.1 210.2h0.9M56.1 211.2h0.9M68.4 209.7h0.9M63.5 214.3h0.9M49.5 212.6h0.9M56.8 217.1h0.9M58.6 215.9h0.9M64.8 213.5h0.9M56.7 213.2h0.9M69.4 216.2h0.9M64.2 211.9h0.9M54.1 215.0h0.9M54.9 210.3h0.9M44.4 214.3h0.9M62.4 214.5h0.9M68.7 209.8h0.9M63.3 211.4h0.9M58.3 214.0h0.9M52.5 211.4h0.9M53.7 213.1h0.9M62.1 212.6h0.9M48.6 210.9h0.9M52.6 214.4h0.9M49.4 212.5h0.9M60.4 213.8h0.9M72.6 214.3h0.9M61.3 217.9h0.9M50.0 213.5h0.9M65.6 214.8h0.9M51.9 210.1h0.9M59.1 212.7h0.9M48.4 210.5h0.9M61.7 212.6h0.9M57.7 213.0h0.9M50.0 212.2h0.9M51.1 213.0h0.9M50.5 214.6h0.9M48.1 213.7h0.9M57.0 214.5h0.9M58.6 212.2h0.9M53.0 212.3h0.9M44.0 219.7h0.9M54.0 214.1h0.9M46.1 212.1h0.9M48.4 213.0h0.9M58.7 216.0h0.9M55.7 210.6h0.9M51.3 214.3h0.9M69.9 207.6h0.9M45.2 211.4h0.9M53.9 214.3h0.9M66.4 214.3h0.9M66.6 211.5h0.9M81.4 216.6h0.9M77.8 212.3h0.9M75.6 216.3h0.9M81.7 213.2h0.9M82.9 217.1h0.9M72.6 210.2h0.9M78.5 215.1h0.9M75.4 212.4h0.9M69.9 223.3h0.9M70.1 219.1h0.9M60.8 229.5h0.9M77.1 227.2h0.9M69.9 229.9h0.9M69.3 226.1h0.9M57.4 220.3h0.9M77.9 232.0h0.9M69.4 231.6h0.9M57.3 221.2h0.9M65.2 226.4h0.9M69.4 233.7h0.9M60.1 224.7h0.9M71.4 233.9h0.9M66.4 228.7h0.9M78.1 234.6h0.9M74.6 258.8h0.9M69.7 258.7h0.9M57.4 256.8h0.9M66.4 257.6h0.9M69.7 256.1h0.9M63.0 257.5h0.9M66.2 257.4h0.9M64.2 256.2h0.9M55.7 256.8h0.9M69.0 256.6h0.9M65.5 257.9h0.9M64.7 255.8h0.9M60.0 254.8h0.9M66.7 258.4h0.9M62.0 254.9h0.9M67.9 259.6h0.9M62.8 255.6h0.9M64.9 259.4h0.9M67.4 257.6h0.9M71.9 258.6h0.9M72.0 257.6h0.9M59.4 255.7h0.9M66.7 256.5h0.9M68.6 257.4h0.9M72.5 258.2h0.9M69.3 259.9h0.9M71.0 255.4h0.9M70.9 256.7h0.9M67.1 260.0h0.9M62.8 258.5h0.9M71.2 256.6h0.9M58.4 256.9h0.9M67.3 256.5h0.9M67.4 256.0h0.9M68.3 257.9h0.9M63.8 259.0h0.9M68.0 256.4h0.9M64.0 254.4h0.9M68.8 255.6h0.9M68.7 254.7h0.9M62.9 251.5h0.9M64.4 254.9h0.9M69.7 257.7h0.9M64.1 255.8h0.9M65.8 256.6h0.9M66.2 259.8h0.9M61.3 257.3h0.9M66.6 258.9h0.9M66.0 254.7h0.9M68.9 259.7h0.9M63.8 259.6h0.9M74.6 255.5h0.9M68.5 250.0h0.9M67.1 254.4h0.9M67.8 256.2h0.9M67.3 259.8h0.9M69.4 259.3h0.9M64.2 256.3h0.9M66.2 255.7h0.9M63.7 257.0h0.9M68.0 256.2h0.9M62.6 259.6h0.9M67.3 257.5h0.9M70.4 257.1h0.9M62.4 257.2h0.9M59.8 257.7h0.9M66.7 258.2h0.9M66.9 255.6h0.9M75.9 256.8h0.9M68.8 256.4h0.9M65.3 256.6h0.9M64.3 256.7h0.9M65.5 255.4h0.9M63.7 255.9h0.9M58.5 257.5h0.9M57.7 255.8h0.9M65.9 255.0h0.9M66.6 255.4h0.9M67.3 254.8h0.9M60.1 254.6h0.9M68.0 256.0h0.9M67.9 258.4h0.9M59.8 252.7h0.9M63.2 253.2h0.9M67.9 254.1h0.9M62.2 260.1h0.9M61.5 253.1h0.9M69.9 256.7h0.9M65.4 257.9h0.9M63.9 255.7h0.9M64.8 259.6h0.9M65.6 252.9h0.9M61.8 257.7h0.9M61.4 252.7h0.9M63.8 252.2h0.9M72.2 257.0h0.9M70.7 257.1h0.9M66.0 258.3h0.9M66.2 255.4h0.9M65.7 255.8h0.9M67.1 259.3h0.9M62.1 255.2h0.9M68.4 257.1h0.9M62.9 259.0h0.9M62.5 252.3h0.9M63.6 259.8h0.9M65.6 255.4h0.9M64.0 258.9h0.9M63.1 254.9h0.9M67.7 258.1h0.9M65.7 257.8h0.9M67.2 251.3h0.9M66.1 255.0h0.9M65.6 256.5h0.9M66.9 258.7h0.9M62.8 254.8h0.9M64.5 256.4h0.9M61.0 256.7h0.9M68.4 255.0h0.9M60.2 258.5h0.9M70.5 257.8h0.9M70.9 259.6h0.9M65.7 255.9h0.9M73.6 258.5h0.9M64.8 260.0h0.9M63.6 255.6h0.9M70.5 259.2h0.9M64.6 259.2h0.9M68.7 251.0h0.9M65.6 259.1h0.9M66.9 254.0h0.9M68.7 255.2h0.9M68.8 257.5h0.9M69.7 254.8h0.9M72.2 256.0h0.9M65.5 255.3h0.9M65.7 257.1h0.9M65.2 258.4h0.9M68.0 256.2h0.9M65.9 257.3h0.9M69.1 260.1h0.9M63.2 258.6h0.9M68.4 253.2h0.9M64.6 253.6h0.9M59.2 256.8h0.9M65.4 256.3h0.9M68.8 253.6h0.9M71.0 255.0h0.9M60.4 257.5h0.9M67.2 257.2h0.9M63.1 258.6h0.9M63.4 253.8h0.9M63.2 256.5h0.9M65.9 253.5h0.9M67.4 260.1h0.9M60.8 258.0h0.9M63.6 249.6h0.9M66.6 253.7h0.9M65.0 254.9h0.9M57.0 254.2h0.9M68.7 258.7h0.9M61.7 258.5h0.9M70.3 258.6h0.9M66.3 253.5h0.9M65.9 259.2h0.9M69.1 255.0h0.9M58.9 254.3h0.9M60.5 257.3h0.9M61.4 253.9h0.9M65.1 255.8h0.9M66.7 258.9h0.9M63.6 258.0h0.9M75.6 257.8h0.9M64.1 257.0h0.9M65.6 255.8h0.9M64.8 254.7h0.9M69.7 259.9h0.9M66.5 259.1h0.9M66.3 257.7h0.9M68.6 254.2h0.9M67.1 257.5h0.9M69.5 255.2h0.9M59.8 255.1h0.9M67.8 257.0h0.9M69.4 259.0h0.9M67.2 254.3h0.9M65.8 256.1h0.9M63.2 257.1h0.9M64.9 254.5h0.9M62.7 252.1h0.9M71.6 254.8h0.9M64.1 250.4h0.9M65.7 257.0h0.9M67.3 254.5h0.9M64.9 257.6h0.9M66.5 256.7h0.9M71.0 258.1h0.9M69.0 256.8h0.9M62.7 259.0h0.9M66.1 252.9h0.9M69.6 257.7h0.9M71.5 258.2h0.9M62.9 257.3h0.9M68.5 256.0h0.9M63.5 253.5h0.9M71.3 258.7h0.9M66.4 254.5h0.9M63.7 258.4h0.9M69.6 258.8h0.9M65.1 250.3h0.9M62.5 257.9h0.9M62.8 253.4h0.9M62.2 251.2h0.9M70.8 251.2h0.9M62.5 258.0h0.9M68.2 259.5h0.9M63.3 256.6h0.9M72.3 254.6h0.9M67.5 254.8h0.9M60.8 254.3h0.9M63.0 259.0h0.9M63.2 255.5h0.9M67.9 255.2h0.9M63.1 256.3h0.9M69.3 255.0h0.9M71.9 255.2h0.9M69.5 259.0h0.9M64.5 256.9h0.9M70.5 253.4h0.9M69.9 256.3h0.9M69.2 259.8h0.9M67.6 255.0h0.9M66.5 253.8h0.9M63.6 250.3h0.9M67.2 252.0h0.9M70.7 259.4h0.9M65.1 254.4h0.9M59.2 253.5h0.9M65.2 254.8h0.9M71.7 255.8h0.9M65.2 259.4h0.9M64.4 259.1h0.9M67.9 254.6h0.9M68.9 256.0h0.9M64.7 258.5h0.9M66.7 255.6h0.9M66.2 255.3h0.9M65.3 257.2h0.9M70.0 252.4h0.9M71.7 257.9h0.9M65.2 260.0h0.9M60.9 255.4h0.9M67.8 253.2h0.9M69.6 257.7h0.9M60.5 259.4h0.9M64.1 257.8h0.9M69.2 258.6h0.9M58.5 255.6h0.9M66.9 255.9h0.9M64.2 258.9h0.9M66.5 255.6h0.9M65.4 254.8h0.9M63.9 255.3h0.9M67.9 254.7h0.9M64.8 258.1h0.9M64.4 259.0h0.9M64.0 257.5h0.9M66.2 258.3h0.9M63.0 257.2h0.9M67.1 254.6h0.9M66.7 258.3h0.9M65.8 255.3h0.9M67.1 257.7h0.9M63.5 256.2h0.9M66.2 254.3h0.9M67.6 255.2h0.9M62.3 259.9h0.9M70.3 253.3h0.9M64.7 254.1h0.9M59.8 259.5h0.9M64.6 259.1h0.9M64.7 253.8h0.9M68.7 255.5h0.9M68.8 253.0h0.9M64.0 251.1h0.9M59.8 256.0h0.9M59.6 255.6h0.9M67.0 255.2h0.9M67.7 255.8h0.9M63.4 256.7h0.9M63.9 257.6h0.9M63.2 258.7h0.9M67.4 258.0h0.9M65.1 254.3h0.9M59.9 254.5h0.9M68.4 257.9h0.9M69.0 253.5h0.9M66.9 255.4h0.9M60.6 259.0h0.9M71.3 256.0h0.9M69.2 256.3h0.9M62.6 251.6h0.9M68.6 259.9h0.9M64.8 259.7h0.9M68.8 254.9h0.9M69.1 258.9h0.9M64.1 255.7h0.9M67.2 254.7h0.9M62.3 257.3h0.9M73.0 257.7h0.9M64.5 255.3h0.9M71.0 254.5h0.9M63.2 255.1h0.9M65.5 255.1h0.9M65.6 257.0h0.9M70.4 258.0h0.9M60.2 255.9h0.9M62.9 253.5h0.9M64.8 254.5h0.9M66.0 255.2h0.9M70.6 256.1h0.9M61.9 258.3h0.9M63.8 257.6h0.9M60.7 251.8h0.9M60.6 253.9h0.9M71.1 254.9h0.9M72.3 259.7h0.9M63.0 255.7h0.9M68.0 253.7h0.9M68.3 253.9h0.9M67.0 259.9h0.9M66.5 257.8h0.9M63.0 256.9h0.9M71.1 259.9h0.9M62.3 255.5h0.9M68.0 258.8h0.9M66.0 253.2h0.9M64.0 258.3h0.9M69.3 255.1h0.9M63.1 253.7h0.9M65.9 259.7h0.9M65.8 257.4h0.9M61.8 257.3h0.9M59.4 256.8h0.9M68.5 253.0h0.9M66.6 257.4h0.9M64.1 255.6h0.9M65.4 258.1h0.9M66.6 256.1h0.9M69.8 259.7h0.9M64.3 255.0h0.9M64.9 255.7h0.9M69.3 252.4h0.9M66.0 256.1h0.9M65.4 258.2h0.9M66.8 256.7h0.9M67.1 250.6h0.9M68.4 256.0h0.9M67.5 255.9h0.9M61.5 258.6h0.9M64.1 257.5h0.9M63.9 255.1h0.9M69.6 252.8h0.9M71.5 259.2h0.9M66.8 258.6h0.9M74.0 256.3h0.9M60.3 254.4h0.9M64.3 255.7h0.9M61.6 256.5h0.9M68.5 258.3h0.9M66.7 253.1h0.9M67.8 257.4h0.9M67.9 256.6h0.9M70.1 253.9h0.9M65.6 258.8h0.9M65.0 257.7h0.9M60.2 256.9h0.9M66.9 255.1h0.9M66.2 252.1h0.9M68.9 258.0h0.9M63.2 258.9h0.9M63.0 255.7h0.9M73.3 252.4h0.9M59.7 257.7h0.9M71.2 258.0h0.9M62.1 254.7h0.9M64.1 257.3h0.9M62.0 258.3h0.9M72.8 256.5h0.9M65.1 254.0h0.9M65.5 255.0h0.9M65.8 257.6h0.9M67.1 257.0h0.9M66.1 255.9h0.9M67.8 254.2h0.9M63.2 256.6h0.9M66.3 252.6h0.9M64.0 254.1h0.9M65.8 260.1h0.9M62.7 257.9h0.9M70.3 256.2h0.9M67.8 254.1h0.9M60.5 259.1h0.9M65.9 254.9h0.9M69.2 255.2h0.9M67.1 258.4h0.9M64.2 256.1h0.9M70.7 258.1h0.9M67.3 256.1h0.9M67.1 256.5h0.9M66.8 258.1h0.9M63.7 257.3h0.9M62.5 252.3h0.9M58.1 251.4h0.9M63.7 254.6h0.9M64.0 244.4h0.9M65.8 235.7h0.9M62.0 257.4h0.9M61.6 249.4h0.9M60.9 253.6h0.9M61.8 255.3h0.9M67.6 245.2h0.9M74.5 245.5h0.9M64.5 255.4h0.9M55.2 250.2h0.9M69.2 255.6h0.9M63.7 252.1h0.9M72.6 244.8h0.9M62.1 260.0h0.9M66.6 254.4h0.9M63.1 248.5h0.9M59.6 258.6h0.9M66.2 244.9h0.9M69.0 248.8h0.9M71.4 244.5h0.9M62.5 250.4h0.9M57.7 254.4h0.9M70.0 250.2h0.9M59.8 243.1h0.9M68.8 250.9h0.9M62.9 252.4h0.9M67.4 243.5h0.9M70.8 250.0h0.9M65.8 250.9h0.9M67.0 257.5h0.9M60.2 250.5h0.9M60.1 249.4h0.9M65.2 250.7h0.9M66.4 250.6h0.9M72.7 252.6h0.9M74.3 252.1h0.9M61.5 256.4h0.9M71.9 247.8h0.9M66.4 248.6h0.9M61.6 254.3h0.9M67.0 257.3h0.9M62.9 255.8h0.9M71.9 252.7h0.9M63.4 254.7h0.9M70.7 246.0h0.9M66.5 250.3h0.9M67.7 253.0h0.9M72.9 247.9h0.9M59.3 249.8h0.9M71.9 251.0h0.9M69.3 252.8h0.9M66.2 258.9h0.9M65.0 259.1h0.9M74.0 254.7h0.9M68.1 254.2h0.9M66.0 251.2h0.9M71.3 256.2h0.9M66.2 251.8h0.9M70.4 257.3h0.9M64.3 255.6h0.9M65.3 251.0h0.9M68.5 250.1h0.9M65.0 242.4h0.9M69.7 246.2h0.9M70.2 255.0h0.9M69.1 259.3h0.9M69.0 252.2h0.9M63.5 245.5h0.9M71.1 245.2h0.9M70.1 247.4h0.9M57.7 257.4h0.9M66.9 253.2h0.9M63.0 254.8h0.9M69.7 259.6h0.9M66.0 255.2h0.9M63.9 244.4h0.9M63.2 247.2h0.9M72.6 248.8h0.9M67.1 252.6h0.9M64.3 245.4h0.9M73.8 258.3h0.9M68.0 254.0h0.9M64.5 258.8h0.9M61.6 241.3h0.9M65.9 253.4h0.9M67.2 254.9h0.9M68.9 247.8h0.9M60.8 255.0h0.9M67.9 250.6h0.9M63.5 254.3h0.9M69.7 254.8h0.9M74.0 244.2h0.9M64.3 247.3h0.9M58.5 252.2h0.9M77.1 252.0h0.9M56.8 244.3h0.9M61.0 254.6h0.9M72.1 244.1h0.9M68.8 245.9h0.9M71.7 254.0h0.9M66.5 246.4h0.9M58.5 246.6h0.9M66.6 250.5h0.9M79.0 236.5h0.9M67.9 244.6h0.9M59.7 240.3h0.9M73.5 236.9h0.9M60.3 245.5h0.9M77.2 249.8h0.9M66.9 236.1h0.9M63.8 247.7h0.9M62.1 250.8h0.9M67.0 245.2h0.9M61.5 246.6h0.9M60.0 242.8h0.9M70.6 244.9h0.9M83.3 238.6h0.9M62.9 240.4h0.9M59.4 255.4h0.9M52.9 245.9h0.9M64.7 243.4h0.9M60.9 245.3h0.9M64.3 246.3h0.9M61.8 246.2h0.9M66.9 253.1h0.9M64.3 249.5h0.9M69.6 246.9h0.9M69.0 244.7h0.9M64.0 243.3h0.9M56.4 242.6h0.9M58.5 241.3h0.9M51.5 243.6h0.9M62.1 246.3h0.9M62.9 254.3h0.9M64.9 237.7h0.9M62.1 239.3h0.9M64.1 254.4h0.9M72.4 239.7h0.9M77.8 243.7h0.9M75.6 253.3h0.9M61.7 236.4h0.9M65.5 245.2h0.9M63.3 250.8h0.9M68.3 246.0h0.9M72.3 243.8h0.9M64.5 242.3h0.9M70.2 252.7h0.9M67.5 250.7h0.9M61.5 246.2h0.9M76.5 234.0h0.9M62.3 242.5h0.9M77.3 248.3h0.9M82.4 239.6h0.9M76.9 247.7h0.9M70.4 248.1h0.9M68.6 237.5h0.9M69.9 250.9h0.9M61.7 243.7h0.9M76.6 241.5h0.9M68.9 245.8h0.9M62.3 242.6h0.9M57.5 241.1h0.9M68.1 251.1h0.9M81.8 253.0h0.9M66.1 252.2h0.9M83.7 247.9h0.9M77.2 248.6h0.9M54.7 252.5h0.9M56.7 256.3h0.9M78.9 251.3h0.9M82.8 238.8h0.9M77.2 256.6h0.9M61.0 245.8h0.9M53.8 252.6h0.9M58.3 259.6h0.9M68.4 259.6h0.9M66.4 259.6h0.9M68.7 259.6h0.9M69.5 259.6h0.9M73.7 259.6h0.9M68.8 259.6h0.9M72.2 259.6h0.9M59.4 259.6h0.9M66.2 259.6h0.9M68.7 259.6h0.9M73.6 259.6h0.9M62.5 259.6h0.9M72.0 259.6h0.9M67.0 259.6h0.9M72.6 259.6h0.9M63.9 259.6h0.9M63.0 259.6h0.9M71.7 259.6h0.9M67.7 259.6h0.9M68.4 259.6h0.9M67.7 259.6h0.9M71.2 259.6h0.9M63.7 259.6h0.9M59.0 259.6h0.9M72.1 259.6h0.9M68.0 259.6h0.9M59.1 259.6h0.9M73.4 259.6h0.9M72.8 259.6h0.9M66.8 259.6h0.9M63.1 259.6h0.9M69.9 259.6h0.9M70.8 259.6h0.9M71.6 259.6h0.9M67.2 259.6h0.9M70.6 259.6h0.9M73.4 259.6h0.9M69.2 259.6h0.9M64.7 259.6h0.9M113.1 214.3h0.9" stroke="#000" stroke-width="0.9" fill="none"/>
<path d="M41.5 195.5H129.5V260.5" stroke="#000" stroke-width="1.1" fill="none"/>
<path d="M42.1 195V261.2" stroke="#000" stroke-width="1.5" fill="none"/>
<path d="M42 260.5H130" stroke="#000" stroke-width="1.5" fill="none"/>
<path d="M71.5 195.3V260.5M42 237.5H129.9" stroke="#000" stroke-width="1" fill="none"/>
<path d="M48.62 260.5v2.3M52.48 260.5v2.3M55.23 260.5v2.3M57.36 260.5v2.3M59.1 260.5v2.3M60.57 260.5v2.3M61.85 260.5v2.3M62.97 260.5v2.3M70.59 260.5v2.3M74.46 260.5v2.3M77.21 260.5v2.3M79.33 260.5v2.3M81.07 260.5v2.3M82.55 260.5v2.3M83.82 260.5v2.3M84.94 260.5v2.3M92.57 260.5v2.3M96.43 260.5v2.3M99.18 260.5v2.3M101.31 260.5v2.3M103.05 260.5v2.3M104.52 260.5v2.3M105.8 260.5v2.3M106.92 260.5v2.3M114.54 260.5v2.3M118.41 260.5v2.3M121.16 260.5v2.3M123.28 260.5v2.3M125.02 260.5v2.3M126.5 260.5v2.3M127.77 260.5v2.3M128.89 260.5v2.3" stroke="#000" stroke-width="0.95" fill="none"/>
<path d="M42 260.5v3.9M63.98 260.5v3.9M85.95 260.5v3.9M107.93 260.5v3.9M129.9 260.5v3.9" stroke="#000" stroke-width="1.25" fill="none"/>
<path d="M42 255.59h-2.3M42 252.72h-2.3M42 250.69h-2.3M42 249.11h-2.3M42 247.82h-2.3M42 246.72h-2.3M42 245.78h-2.3M42 244.95h-2.3M42 239.29h-2.3M42 236.42h-2.3M42 234.39h-2.3M42 232.81h-2.3M42 231.52h-2.3M42 230.42h-2.3M42 229.48h-2.3M42 228.65h-2.3M42 222.99h-2.3M42 220.12h-2.3M42 218.09h-2.3M42 216.51h-2.3M42 215.22h-2.3M42 214.12h-2.3M42 213.18h-2.3M42 212.35h-2.3M42 206.69h-2.3M42 203.82h-2.3M42 201.79h-2.3M42 200.21h-2.3M42 198.92h-2.3M42 197.82h-2.3M42 196.88h-2.3M42 196.05h-2.3" stroke="#000" stroke-width="0.95" fill="none"/>
<path d="M42 260.5h-4M42 244.2h-4M42 227.9h-4M42 211.6h-4M42 195.3h-4" stroke="#000" stroke-width="1.25" fill="none"/>
<text x="45.3" y="274" class="tk" font-size="8.9" text-anchor="end" textLength="7.48" lengthAdjust="spacingAndGlyphs">10</text>
<text x="45.3" y="269.82" class="te" font-size="7.39" textLength="3.47" lengthAdjust="spacingAndGlyphs">0</text>
<text x="66.4" y="274" class="tk" font-size="8.9" text-anchor="end" textLength="7.48" lengthAdjust="spacingAndGlyphs">10</text>
<text x="66.4" y="269.82" class="te" font-size="7.39" textLength="3.47" lengthAdjust="spacingAndGlyphs">1</text>
<text x="87.5" y="274" class="tk" font-size="8.9" text-anchor="end" textLength="7.48" lengthAdjust="spacingAndGlyphs">10</text>
<text x="87.5" y="269.82" class="te" font-size="7.39" textLength="3.47" lengthAdjust="spacingAndGlyphs">2</text>
<text x="108.6" y="274" class="tk" font-size="8.9" text-anchor="end" textLength="7.48" lengthAdjust="spacingAndGlyphs">10</text>
<text x="108.6" y="269.82" class="te" font-size="7.39" textLength="3.47" lengthAdjust="spacingAndGlyphs">3</text>
<text x="129.7" y="274" class="tk" font-size="8.9" text-anchor="end" textLength="7.48" lengthAdjust="spacingAndGlyphs">10</text>
<text x="129.7" y="269.82" class="te" font-size="7.39" textLength="3.47" lengthAdjust="spacingAndGlyphs">4</text>
<g transform="translate(36 260.5) rotate(-90)">
<text x="1.6" y="0" class="tk" font-size="8.9" text-anchor="end" textLength="7.48" lengthAdjust="spacingAndGlyphs">10</text>
<text x="3.1" y="-5.07" class="te" font-size="7.39" textLength="3.47" lengthAdjust="spacingAndGlyphs">0</text>
</g>
<g transform="translate(36 244.4) rotate(-90)">
<text x="1.6" y="0" class="tk" font-size="8.9" text-anchor="end" textLength="7.48" lengthAdjust="spacingAndGlyphs">10</text>
<text x="3.1" y="-5.07" class="te" font-size="7.39" textLength="3.47" lengthAdjust="spacingAndGlyphs">1</text>
</g>
<g transform="translate(36 228.3) rotate(-90)">
<text x="1.6" y="0" class="tk" font-size="8.9" text-anchor="end" textLength="7.48" lengthAdjust="spacingAndGlyphs">10</text>
<text x="3.1" y="-5.07" class="te" font-size="7.39" textLength="3.47" lengthAdjust="spacingAndGlyphs">2</text>
</g>
<g transform="translate(36 212.2) rotate(-90)">
<text x="1.6" y="0" class="tk" font-size="8.9" text-anchor="end" textLength="7.48" lengthAdjust="spacingAndGlyphs">10</text>
<text x="3.1" y="-5.07" class="te" font-size="7.39" textLength="3.47" lengthAdjust="spacingAndGlyphs">3</text>
</g>
<g transform="translate(36 196.1) rotate(-90)">
<text x="1.6" y="0" class="tk" font-size="8.9" text-anchor="end" textLength="7.48" lengthAdjust="spacingAndGlyphs">10</text>
<text x="3.1" y="-5.07" class="te" font-size="7.39" textLength="3.47" lengthAdjust="spacingAndGlyphs">4</text>
</g>
<path d="M205.2 37.2h0.9M189.1 34.6h0.9M200.9 37.7h0.9M201.5 34.3h0.9M189.3 35.6h0.9M207.1 35.6h0.9M193.6 35.4h0.9M199.1 34.8h0.9M197.3 36.0h0.9M214.2 35.6h0.9M207.3 34.4h0.9M206.2 35.8h0.9M191.8 35.6h0.9M206.6 35.3h0.9M207.9 37.4h0.9M214.0 37.5h0.9M184.3 36.0h0.9M190.3 36.8h0.9M198.1 35.9h0.9M202.1 34.9h0.9M198.4 34.8h0.9M218.8 35.1h0.9M197.5 33.6h0.9M182.2 34.7h0.9M205.6 36.5h0.9M200.3 34.9h0.9M216.4 34.4h0.9M188.6 36.2h0.9M187.1 36.0h0.9M207.4 35.6h0.9M201.6 35.7h0.9M190.4 31.9h0.9M184.8 35.6h0.9M180.4 35.0h0.9M199.5 37.2h0.9M183.3 35.0h0.9M199.7 36.3h0.9M183.1 37.8h0.9M188.9 36.9h0.9M195.3 36.1h0.9M214.6 36.5h0.9M198.7 34.5h0.9M190.6 34.0h0.9M218.3 33.8h0.9M170.7 37.6h0.9M210.6 35.2h0.9M206.1 34.7h0.9M191.4 36.2h0.9M201.5 35.1h0.9M214.2 36.5h0.9M198.8 34.2h0.9M198.8 35.3h0.9M196.6 36.6h0.9M191.4 36.0h0.9M205.6 36.1h0.9M221.2 33.6h0.9M196.7 34.2h0.9M196.6 38.6h0.9M180.3 35.3h0.9M204.1 35.7h0.9M206.8 33.8h0.9M207.5 34.5h0.9M184.6 36.3h0.9M202.3 34.8h0.9M188.8 35.4h0.9M197.2 35.4h0.9M186.7 32.9h0.9M210.9 35.8h0.9M184.3 33.8h0.9M190.0 35.1h0.9M175.0 37.3h0.9M201.7 35.2h0.9M200.9 35.9h0.9M208.3 35.8h0.9M210.4 37.5h0.9M193.9 35.1h0.9M188.0 35.3h0.9M189.6 35.6h0.9M200.4 36.3h0.9M185.1 36.9h0.9M193.9 35.5h0.9M191.8 33.2h0.9M199.8 33.5h0.9M208.7 35.7h0.9M213.4 36.4h0.9M204.5 37.3h0.9M196.7 37.5h0.9M195.8 35.9h0.9M190.1 36.3h0.9M204.1 35.0h0.9M183.7 35.6h0.9M201.5 35.4h0.9M186.9 34.8h0.9M194.3 32.5h0.9M191.0 37.3h0.9M183.7 35.4h0.9M214.8 36.5h0.9M206.7 35.4h0.9M183.2 39.1h0.9M200.3 35.9h0.9M214.3 36.6h0.9M197.7 34.3h0.9M195.5 35.4h0.9M190.0 34.6h0.9M186.6 35.5h0.9M190.9 36.1h0.9M207.7 36.0h0.9M197.3 37.5h0.9M203.9 33.8h0.9M189.6 35.8h0.9M187.9 36.5h0.9M178.8 33.3h0.9M207.3 36.3h0.9M180.3 35.7h0.9M211.1 34.3h0.9M184.6 34.2h0.9M186.8 33.5h0.9M192.0 33.9h0.9M197.7 38.3h0.9M186.1 36.7h0.9M209.3 32.8h0.9M198.2 35.6h0.9M193.5 36.6h0.9M192.4 36.0h0.9M193.0 35.4h0.9M188.8 38.3h0.9M196.4 34.3h0.9M217.4 37.5h0.9M195.0 34.8h0.9M189.3 37.1h0.9M193.6 34.8h0.9M205.8 35.3h0.9M196.5 37.9h0.9M206.1 37.1h0.9M201.4 37.1h0.9M195.2 36.8h0.9M208.0 35.1h0.9M183.6 36.2h0.9M195.8 36.3h0.9M190.7 36.2h0.9M207.1 38.4h0.9M215.7 36.1h0.9M212.0 34.9h0.9M209.3 35.8h0.9M210.9 36.0h0.9M194.6 34.8h0.9M210.2 35.7h0.9M204.5 36.2h0.9M175.7 36.3h0.9M193.1 36.1h0.9M202.1 33.4h0.9M193.7 35.5h0.9M201.1 36.7h0.9M189.9 35.3h0.9M203.5 33.4h0.9M216.4 34.5h0.9M210.8 35.8h0.9M216.7 36.8h0.9M196.7 33.6h0.9M198.4 36.0h0.9M202.7 34.1h0.9M188.4 34.7h0.9M200.0 34.6h0.9M195.8 36.7h0.9M192.6 37.2h0.9M200.1 35.3h0.9M208.5 36.2h0.9M194.0 34.9h0.9M196.5 36.0h0.9M208.9 35.9h0.9M190.6 34.0h0.9M199.7 36.1h0.9M208.8 35.0h0.9M183.5 36.6h0.9M195.2 34.2h0.9M214.3 36.7h0.9M197.7 35.9h0.9M189.2 36.8h0.9M192.5 35.1h0.9M193.9 34.2h0.9M207.8 37.6h0.9M205.0 33.2h0.9M193.8 34.8h0.9M200.9 33.0h0.9M174.5 35.1h0.9M207.3 35.4h0.9M220.0 34.6h0.9M197.4 35.4h0.9M188.3 36.9h0.9M183.2 34.3h0.9M193.2 35.0h0.9M208.8 35.0h0.9M202.3 35.0h0.9M210.4 35.6h0.9M199.8 33.7h0.9M204.4 34.8h0.9M206.3 36.2h0.9M202.7 36.9h0.9M201.0 34.6h0.9M198.7 35.8h0.9M184.8 36.3h0.9M212.3 35.9h0.9M198.2 36.2h0.9M208.5 35.0h0.9M207.0 34.7h0.9M202.6 36.2h0.9M183.6 36.4h0.9M199.3 33.6h0.9M192.3 34.9h0.9M187.7 36.1h0.9M188.8 35.7h0.9M185.7 35.3h0.9M216.1 36.1h0.9M180.8 34.5h0.9M195.6 33.7h0.9M207.2 35.6h0.9M196.3 35.7h0.9M189.9 34.2h0.9M164.6 33.7h0.9M199.5 36.4h0.9M195.1 33.4h0.9M193.5 35.6h0.9M183.5 37.2h0.9M185.3 35.6h0.9M185.6 36.7h0.9M183.9 34.5h0.9M208.6 34.1h0.9M191.4 36.2h0.9M200.7 33.5h0.9M203.3 35.3h0.9M209.7 33.5h0.9M205.0 36.1h0.9M193.1 35.1h0.9M201.0 34.8h0.9M193.4 34.7h0.9M198.4 36.4h0.9M180.4 35.6h0.9M200.2 37.4h0.9M189.3 37.1h0.9M192.3 36.2h0.9M199.3 35.9h0.9M193.4 34.4h0.9M212.5 37.3h0.9M195.8 35.4h0.9M194.8 34.0h0.9M185.4 36.1h0.9M206.9 35.3h0.9M187.2 34.3h0.9M190.6 36.4h0.9M197.5 33.9h0.9M184.8 36.0h0.9M200.1 37.7h0.9M212.0 35.8h0.9M189.9 35.8h0.9M185.1 34.8h0.9M207.4 36.3h0.9M206.6 37.5h0.9M192.6 36.5h0.9M197.7 36.0h0.9M199.3 36.2h0.9M182.5 34.0h0.9M197.9 36.2h0.9M191.9 35.5h0.9M182.3 36.7h0.9M201.7 37.4h0.9M192.7 35.5h0.9M197.7 37.2h0.9M202.8 36.1h0.9M179.8 34.6h0.9M181.6 35.4h0.9M205.9 35.7h0.9M187.4 38.0h0.9M185.5 37.2h0.9M209.0 35.9h0.9M211.0 34.3h0.9M191.2 35.2h0.9M200.8 35.4h0.9M214.7 35.1h0.9M194.6 34.2h0.9M201.9 36.5h0.9M189.1 34.1h0.9M182.5 37.0h0.9M205.2 35.9h0.9M204.8 36.2h0.9M201.7 33.7h0.9M202.3 36.4h0.9M208.8 36.7h0.9M189.9 35.9h0.9M182.2 37.3h0.9M182.7 36.4h0.9M188.7 34.6h0.9M187.6 35.2h0.9M200.9 36.9h0.9M193.8 36.6h0.9M206.0 38.0h0.9M190.7 36.0h0.9M204.1 35.8h0.9M203.4 34.8h0.9M193.2 34.8h0.9M190.3 34.5h0.9M195.9 34.1h0.9M191.0 36.3h0.9M180.5 34.3h0.9M192.7 34.3h0.9M186.5 37.8h0.9M200.4 35.0h0.9M189.2 33.7h0.9M184.8 32.8h0.9M202.7 35.0h0.9M206.4 35.6h0.9M176.1 37.9h0.9M202.2 36.6h0.9M191.1 34.9h0.9M195.0 37.7h0.9M183.8 34.3h0.9M202.3 33.2h0.9M212.3 34.2h0.9M209.2 35.4h0.9M193.2 34.2h0.9M212.0 35.3h0.9M182.9 36.3h0.9M195.5 36.2h0.9M192.7 36.0h0.9M201.6 35.6h0.9M179.9 36.2h0.9M211.3 36.1h0.9M206.6 36.5h0.9M193.8 36.9h0.9M194.4 34.4h0.9M183.8 36.8h0.9M204.3 36.3h0.9M191.1 33.4h0.9M205.0 35.5h0.9M190.6 34.9h0.9M190.9 33.4h0.9M203.4 36.4h0.9M206.0 35.2h0.9M183.9 34.0h0.9M193.7 37.7h0.9M206.6 35.6h0.9M201.8 36.6h0.9M197.5 35.9h0.9M199.1 34.9h0.9M185.0 34.9h0.9M208.9 33.7h0.9M192.4 35.1h0.9M197.3 35.1h0.9M205.1 35.2h0.9M196.9 36.4h0.9M182.2 36.9h0.9M207.6 34.0h0.9M196.0 34.7h0.9M193.1 36.5h0.9M177.5 36.6h0.9M201.4 35.6h0.9M219.9 35.0h0.9M181.4 36.0h0.9M198.5 34.8h0.9M174.8 33.3h0.9M213.9 33.8h0.9M211.3 36.6h0.9M174.1 35.8h0.9M203.6 36.9h0.9M210.8 37.1h0.9M196.5 35.3h0.9M194.9 36.2h0.9M187.2 34.3h0.9M220.8 36.7h0.9M208.1 35.3h0.9M188.1 35.1h0.9M188.7 34.9h0.9M180.7 36.3h0.9M200.4 36.5h0.9M197.6 34.7h0.9M218.0 36.7h0.9M202.8 36.6h0.9M193.8 36.5h0.9M189.2 36.8h0.9M206.7 36.6h0.9M201.0 35.8h0.9M199.3 36.4h0.9M192.3 36.4h0.9M205.0 34.1h0.9M179.2 35.9h0.9M193.4 34.6h0.9M184.0 34.3h0.9M179.9 35.2h0.9M180.8 33.6h0.9M195.6 37.4h0.9M209.7 35.4h0.9M200.9 35.3h0.9M195.6 34.7h0.9M197.0 34.3h0.9M189.3 35.4h0.9M196.1 38.0h0.9M187.8 34.3h0.9M203.5 36.3h0.9M203.9 35.4h0.9M181.2 35.2h0.9M183.7 35.5h0.9M215.0 35.2h0.9M197.9 36.9h0.9M183.1 36.5h0.9M193.3 34.8h0.9M193.1 34.4h0.9M205.7 35.7h0.9M192.0 36.2h0.9M181.3 32.3h0.9M210.5 34.9h0.9M204.6 34.5h0.9M178.0 34.3h0.9M206.3 36.0h0.9M190.3 36.4h0.9M193.8 35.8h0.9M185.7 32.9h0.9M197.7 36.4h0.9M187.5 37.4h0.9M199.7 37.6h0.9M203.6 37.0h0.9M194.2 33.8h0.9M219.7 37.1h0.9M203.9 34.5h0.9M206.0 34.3h0.9M202.2 36.7h0.9M202.0 34.4h0.9M203.1 35.8h0.9M202.4 37.1h0.9M189.9 34.6h0.9M174.8 37.4h0.9M188.4 37.1h0.9M200.6 37.0h0.9M199.2 36.1h0.9M194.3 36.1h0.9M185.8 36.8h0.9M179.2 35.0h0.9M192.6 35.7h0.9M195.5 34.4h0.9M197.3 32.3h0.9M189.1 35.5h0.9M189.3 36.7h0.9M195.0 36.1h0.9M184.7 36.6h0.9M204.2 33.7h0.9M211.1 34.2h0.9M184.2 36.5h0.9M214.6 36.3h0.9M194.8 34.7h0.9M188.8 35.8h0.9M200.1 34.4h0.9M201.6 32.9h0.9M198.8 34.4h0.9M183.1 38.0h0.9M202.6 35.2h0.9M185.0 37.2h0.9M197.3 34.6h0.9M171.7 36.6h0.9M204.1 36.1h0.9M185.2 33.4h0.9M208.2 35.2h0.9M204.0 32.5h0.9M193.4 36.4h0.9M195.9 37.7h0.9M205.4 36.8h0.9M203.4 35.3h0.9M188.1 34.5h0.9M209.3 35.3h0.9M174.3 35.7h0.9M197.1 34.9h0.9M200.5 34.5h0.9M223.5 35.0h0.9M186.1 35.7h0.9M198.2 36.6h0.9M198.7 36.3h0.9M196.6 35.2h0.9M185.5 34.7h0.9M195.8 34.1h0.9M204.7 35.2h0.9M208.6 36.5h0.9M193.2 39.1h0.9M211.1 34.7h0.9M200.9 34.8h0.9M186.7 35.7h0.9M191.3 36.6h0.9M181.9 35.8h0.9M209.9 35.8h0.9M216.2 37.9h0.9M183.7 35.1h0.9M190.5 37.3h0.9M191.3 33.0h0.9M189.7 35.1h0.9M194.7 35.3h0.9M196.7 34.6h0.9M195.9 35.0h0.9M191.8 35.2h0.9M205.0 35.8h0.9M203.0 34.6h0.9M178.6 35.3h0.9M205.1 35.5h0.9M190.7 33.6h0.9M199.6 34.5h0.9M178.9 35.9h0.9M196.9 37.0h0.9M183.3 33.9h0.9M197.6 37.4h0.9M198.3 36.3h0.9M182.0 35.8h0.9M180.7 33.3h0.9M203.6 36.9h0.9M188.9 35.7h0.9M202.1 35.3h0.9M196.8 35.9h0.9M187.5 34.2h0.9M200.9 38.3h0.9M192.3 35.0h0.9M216.2 34.8h0.9M188.8 37.8h0.9M203.6 36.4h0.9M174.2 37.1h0.9M193.9 36.7h0.9M202.2 37.7h0.9M205.3 37.7h0.9M189.8 36.9h0.9M202.9 34.9h0.9M182.3 35.3h0.9M187.5 35.0h0.9M191.4 34.8h0.9M197.8 35.7h0.9M186.2 34.6h0.9M198.9 34.9h0.9M191.6 34.4h0.9M177.4 35.2h0.9M185.8 35.4h0.9M193.4 35.1h0.9M205.8 34.6h0.9M208.6 36.0h0.9M224.5 34.5h0.9M189.6 36.0h0.9M204.9 35.2h0.9M204.9 35.7h0.9M181.6 35.9h0.9M205.6 36.0h0.9M195.7 34.5h0.9M204.5 37.3h0.9M182.1 36.3h0.9M177.9 35.8h0.9M168.6 35.4h0.9M203.5 33.8h0.9M182.6 35.7h0.9M194.0 35.9h0.9M211.3 34.2h0.9M199.2 33.2h0.9M164.8 34.4h0.9M167.9 36.2h0.9M206.0 36.2h0.9M179.5 34.6h0.9M178.6 35.3h0.9M185.9 36.9h0.9M201.1 34.0h0.9M212.2 35.8h0.9M205.9 35.6h0.9M210.4 36.9h0.9M205.2 37.3h0.9M203.4 36.0h0.9M188.9 33.0h0.9M210.1 36.3h0.9M185.3 36.6h0.9M198.7 35.7h0.9M216.5 36.8h0.9M182.6 35.7h0.9M207.7 37.0h0.9M202.7 35.1h0.9M200.9 33.3h0.9M210.5 35.5h0.9M191.1 34.7h0.9M198.7 34.6h0.9M186.5 34.4h0.9M215.4 35.5h0.9M202.4 36.0h0.9M190.4 36.5h0.9M195.3 34.7h0.9M186.3 35.1h0.9M191.9 37.2h0.9M170.2 36.9h0.9M212.5 37.5h0.9M189.4 34.6h0.9M210.4 36.4h0.9M200.2 34.5h0.9M194.0 34.2h0.9M214.5 36.9h0.9M192.4 36.9h0.9M198.5 33.2h0.9M203.1 34.7h0.9M200.5 35.0h0.9M186.4 35.2h0.9M208.2 34.2h0.9M186.6 33.8h0.9M190.4 36.7h0.9M204.8 36.3h0.9M202.3 37.4h0.9M213.0 37.5h0.9M187.8 34.8h0.9M205.4 36.5h0.9M191.6 35.3h0.9M206.8 35.4h0.9M189.1 36.0h0.9M191.1 36.3h0.9M199.5 35.2h0.9M187.6 36.8h0.9M187.8 35.7h0.9M193.2 35.6h0.9M193.0 36.8h0.9M198.2 34.3h0.9M183.8 36.5h0.9M194.8 37.1h0.9M201.9 37.2h0.9M182.2 35.2h0.9M210.2 34.1h0.9M204.6 35.5h0.9M207.9 35.2h0.9M189.3 36.6h0.9M220.0 34.2h0.9M200.0 34.6h0.9M202.2 36.1h0.9M189.3 34.0h0.9M197.8 35.6h0.9M206.5 35.6h0.9M208.4 35.9h0.9M212.8 36.9h0.9M182.8 35.3h0.9M201.9 35.3h0.9M201.0 37.7h0.9M188.2 34.8h0.9M188.0 36.9h0.9M221.1 34.6h0.9M222.3 34.0h0.9M198.7 35.8h0.9M200.8 34.8h0.9M185.3 35.4h0.9M208.2 35.4h0.9M201.7 36.2h0.9M212.9 34.3h0.9M214.3 38.0h0.9M185.3 37.0h0.9M177.9 34.7h0.9M194.4 35.6h0.9M177.8 34.8h0.9M180.4 36.8h0.9M187.6 36.0h0.9M192.2 36.3h0.9M170.4 35.6h0.9M181.9 34.5h0.9M201.3 36.6h0.9M188.0 35.0h0.9M218.1 35.7h0.9M207.6 36.9h0.9M205.6 35.5h0.9M195.8 36.7h0.9M168.7 34.7h0.9M201.8 36.3h0.9M203.7 35.0h0.9M188.6 33.9h0.9M199.5 35.6h0.9M198.3 32.9h0.9M193.0 34.3h0.9M207.3 36.5h0.9M204.2 36.3h0.9M209.3 35.9h0.9M188.6 35.8h0.9M197.7 36.0h0.9M202.4 35.7h0.9M199.7 35.6h0.9M194.6 34.3h0.9M189.4 35.1h0.9M215.9 35.3h0.9M187.8 36.3h0.9M202.3 35.3h0.9M207.3 34.4h0.9M185.2 35.0h0.9M193.1 35.3h0.9M197.1 36.7h0.9M197.8 36.1h0.9M194.5 34.4h0.9M196.4 34.4h0.9M204.3 35.3h0.9M186.0 35.5h0.9M198.4 35.0h0.9M185.9 35.2h0.9M191.6 35.0h0.9M167.6 34.7h0.9M219.4 37.5h0.9M208.2 35.3h0.9M207.7 36.3h0.9M197.5 35.6h0.9M197.3 33.5h0.9M207.7 36.7h0.9M199.9 36.0h0.9M188.2 35.5h0.9M190.1 34.4h0.9M200.0 38.3h0.9M215.9 35.7h0.9M192.5 38.1h0.9M187.9 34.8h0.9M201.4 37.9h0.9M213.7 33.2h0.9M176.8 34.1h0.9M209.3 34.5h0.9M189.4 37.0h0.9M186.4 37.4h0.9M177.1 34.8h0.9M210.7 34.3h0.9M199.8 36.6h0.9M205.2 36.2h0.9M201.9 36.4h0.9M198.4 35.0h0.9M217.6 34.3h0.9M198.0 34.7h0.9M194.1 36.9h0.9M179.4 33.7h0.9M201.4 35.7h0.9M198.0 35.4h0.9M202.3 35.1h0.9M208.7 35.4h0.9M181.6 34.2h0.9M201.8 34.5h0.9M179.1 36.1h0.9M196.6 36.6h0.9M212.0 33.8h0.9M201.5 34.6h0.9M194.3 36.1h0.9M198.6 35.3h0.9M197.9 35.8h0.9M163.6 36.6h0.9M204.2 36.0h0.9M195.1 37.5h0.9M193.0 36.2h0.9M188.9 33.2h0.9M198.9 36.0h0.9M176.5 37.1h0.9M202.3 35.8h0.9M186.2 34.0h0.9M194.0 35.7h0.9M192.4 35.4h0.9M200.2 35.8h0.9M201.5 35.4h0.9M177.8 35.9h0.9M200.2 36.7h0.9M200.7 34.1h0.9M201.5 37.0h0.9M216.4 35.5h0.9M199.2 35.5h0.9M208.6 36.1h0.9M223.8 35.8h0.9M193.5 37.1h0.9M204.9 34.7h0.9M197.6 34.9h0.9M181.1 36.3h0.9M190.4 35.8h0.9M203.3 34.7h0.9M204.8 35.1h0.9M199.5 35.1h0.9M185.3 33.0h0.9M189.4 34.7h0.9M224.1 35.2h0.9M200.3 34.8h0.9M209.3 36.5h0.9M199.5 35.9h0.9M173.3 34.6h0.9M194.5 37.8h0.9M221.3 34.9h0.9M201.9 35.9h0.9M223.1 34.7h0.9M200.1 36.3h0.9M195.9 35.1h0.9M201.9 36.0h0.9M188.1 35.1h0.9M200.3 35.0h0.9M211.7 34.3h0.9M186.9 36.8h0.9M194.6 35.1h0.9M207.3 35.1h0.9M176.6 35.4h0.9M205.2 35.7h0.9M213.8 36.0h0.9M200.3 37.5h0.9M190.0 31.7h0.9M201.6 36.7h0.9M199.7 34.3h0.9M204.1 37.2h0.9M200.2 34.3h0.9M192.9 36.0h0.9M180.3 36.9h0.9M181.1 38.0h0.9M189.5 36.7h0.9M201.2 33.0h0.9M203.2 34.6h0.9M191.7 35.8h0.9M178.1 35.1h0.9M200.3 36.6h0.9M207.6 36.1h0.9M165.4 36.0h0.9M183.9 31.7h0.9M204.9 38.5h0.9M198.3 35.3h0.9M181.0 34.8h0.9M210.0 36.5h0.9M201.9 34.9h0.9M189.8 34.4h0.9M176.5 39.2h0.9M175.4 39.1h0.9M208.2 33.6h0.9M210.9 37.4h0.9M211.3 35.7h0.9M191.5 35.4h0.9M197.5 32.7h0.9M215.5 34.2h0.9M220.6 38.8h0.9M168.1 33.7h0.9M186.8 36.0h0.9M182.0 37.2h0.9M193.3 33.1h0.9M212.0 34.0h0.9M208.3 40.6h0.9M197.9 34.9h0.9M171.6 37.3h0.9M193.2 35.7h0.9M216.2 33.4h0.9M207.5 39.5h0.9M212.9 33.9h0.9M217.7 35.3h0.9M222.0 36.5h0.9M216.1 31.7h0.9M201.2 30.7h0.9M205.6 33.7h0.9M208.4 36.7h0.9M232.6 37.8h0.9M211.5 31.5h0.9M202.8 33.7h0.9M196.9 36.0h0.9M208.1 38.2h0.9M212.4 36.9h0.9M191.2 36.0h0.9M202.8 37.1h0.9M172.5 37.4h0.9M177.9 37.4h0.9M194.3 32.1h0.9M205.0 33.6h0.9M208.7 36.6h0.9M197.6 38.3h0.9M185.7 34.6h0.9M197.8 37.6h0.9M196.4 28.7h0.9M197.5 35.0h0.9M190.9 32.3h0.9M179.3 35.4h0.9M211.1 34.2h0.9M197.5 34.9h0.9M210.1 33.6h0.9M207.6 39.2h0.9M207.4 34.0h0.9M191.0 39.5h0.9M238.2 36.0h0.9M193.7 38.7h0.9M194.1 37.1h0.9M188.2 35.7h0.9M172.1 36.8h0.9M157.3 33.8h0.9M202.8 37.6h0.9M221.6 37.6h0.9M197.6 37.8h0.9M170.8 31.0h0.9M200.8 30.4h0.9M216.7 35.0h0.9M204.8 40.0h0.9M201.1 37.1h0.9M182.7 38.9h0.9M189.7 34.4h0.9M206.5 37.2h0.9M185.9 34.6h0.9M176.2 35.2h0.9M172.9 34.1h0.9M215.9 34.9h0.9M188.6 38.3h0.9M200.0 37.6h0.9M197.0 33.8h0.9M214.8 36.5h0.9M197.7 36.9h0.9M220.5 36.6h0.9M209.7 32.1h0.9M191.2 35.3h0.9M192.3 34.8h0.9M201.6 38.2h0.9M204.8 37.0h0.9M206.3 36.1h0.9M222.6 35.6h0.9M199.6 35.1h0.9M195.7 34.8h0.9M183.5 36.1h0.9M205.6 35.6h0.9M219.8 36.3h0.9M178.6 35.7h0.9M212.4 37.3h0.9M195.4 33.2h0.9M199.2 36.5h0.9M230.4 37.5h0.9M199.1 37.1h0.9M197.3 37.7h0.9M195.4 36.0h0.9M179.0 35.4h0.9M180.3 35.5h0.9M200.8 38.5h0.9M199.9 34.3h0.9M204.5 34.9h0.9M168.3 36.9h0.9M193.8 34.6h0.9M191.9 37.6h0.9M200.1 34.0h0.9M212.1 33.2h0.9M209.0 33.7h0.9M195.4 39.6h0.9M195.5 36.5h0.9M226.5 34.2h0.9M229.7 34.5h0.9M231.4 33.0h0.9M225.1 34.9h0.9M225.7 35.5h0.9M227.7 37.7h0.9M228.7 31.7h0.9M225.8 33.1h0.9M228.6 30.0h0.9M229.0 33.4h0.9M229.4 33.0h0.9M229.9 35.1h0.9M227.3 33.0h0.9M224.1 29.7h0.9M228.8 30.1h0.9M229.2 35.3h0.9M228.0 35.7h0.9M234.0 29.4h0.9M227.7 36.4h0.9M223.0 30.4h0.9M226.9 34.1h0.9M229.1 34.5h0.9M227.0 33.9h0.9M227.4 32.6h0.9M231.7 34.6h0.9M224.1 34.6h0.9M225.9 32.9h0.9M232.2 35.5h0.9M227.2 32.4h0.9M230.9 35.2h0.9M231.6 32.4h0.9M234.7 30.8h0.9M229.1 34.7h0.9M226.9 34.0h0.9M223.6 34.2h0.9M227.7 37.5h0.9M227.9 37.5h0.9M229.1 34.3h0.9M231.0 34.6h0.9M231.7 34.2h0.9M223.5 35.9h0.9M224.6 36.3h0.9M228.0 31.9h0.9M228.6 31.1h0.9M225.9 32.6h0.9M229.7 35.8h0.9M225.5 33.6h0.9M229.5 33.7h0.9M230.6 32.4h0.9M230.5 35.3h0.9M229.1 36.0h0.9M223.9 34.2h0.9M228.8 33.4h0.9M232.0 30.5h0.9M228.6 34.5h0.9M209.8 41.6h0.9M219.6 43.2h0.9M215.1 44.1h0.9M215.5 44.4h0.9M209.5 40.9h0.9M203.9 37.4h0.9M214.6 41.5h0.9M209.0 39.9h0.9M203.3 42.6h0.9M224.1 42.4h0.9M224.1 44.4h0.9M222.1 43.2h0.9M209.8 41.3h0.9M219.9 43.0h0.9M208.0 42.2h0.9M217.3 42.4h0.9M213.9 40.5h0.9M212.2 40.5h0.9M218.3 38.4h0.9M218.6 40.2h0.9M221.2 41.2h0.9M200.5 38.7h0.9M213.6 42.0h0.9M209.8 40.2h0.9M214.0 43.8h0.9M215.4 42.9h0.9M213.2 42.3h0.9M218.9 38.0h0.9M210.9 39.4h0.9M221.9 40.3h0.9M210.2 41.4h0.9M208.1 42.6h0.9M199.4 37.2h0.9M206.5 40.2h0.9M213.8 40.8h0.9M212.9 40.9h0.9M226.7 40.8h0.9M222.3 41.3h0.9M207.0 39.8h0.9M212.1 39.0h0.9M211.9 56.9h0.9M229.8 48.5h0.9M204.5 59.9h0.9M207.5 49.9h0.9M215.2 48.6h0.9M211.9 48.4h0.9M211.4 56.8h0.9M223.2 58.9h0.9M229.5 48.3h0.9M223.8 55.1h0.9M218.2 51.8h0.9M229.1 53.0h0.9M229.7 45.7h0.9M208.3 46.1h0.9M221.7 51.3h0.9M206.8 49.4h0.9M212.9 48.9h0.9M213.3 54.0h0.9M195.7 47.5h0.9M214.4 54.6h0.9M216.9 55.7h0.9M211.0 58.6h0.9M223.4 52.1h0.9M216.1 56.9h0.9M192.6 81.4h0.9M218.8 69.3h0.9M226.0 72.1h0.9M218.3 81.2h0.9M202.2 82.0h0.9M211.6 85.2h0.9M221.7 70.2h0.9M183.9 83.9h0.9M225.6 68.7h0.9M189.3 74.6h0.9M227.3 69.5h0.9M216.1 76.4h0.9M202.0 76.6h0.9M203.4 76.7h0.9M193.5 80.5h0.9M214.3 75.4h0.9M216.0 67.0h0.9M217.9 74.3h0.9M183.5 78.3h0.9M204.2 86.0h0.9M205.0 81.1h0.9M213.5 81.8h0.9M189.6 82.5h0.9M208.3 82.2h0.9M224.5 71.0h0.9M194.8 85.2h0.9M221.2 76.6h0.9M171.3 85.5h0.9M225.1 73.1h0.9M223.3 68.5h0.9M209.0 75.2h0.9M214.7 80.0h0.9M193.3 82.4h0.9M225.9 65.2h0.9M218.5 82.1h0.9M216.8 81.0h0.9M223.0 69.1h0.9M188.3 74.7h0.9M214.7 79.8h0.9M195.0 85.8h0.9M197.1 78.7h0.9M215.6 65.3h0.9M228.3 63.7h0.9M172.8 86.7h0.9M176.1 86.0h0.9M203.0 79.3h0.9M218.5 80.1h0.9M195.0 79.7h0.9M212.9 74.9h0.9M201.0 79.4h0.9M218.3 78.7h0.9M225.0 69.2h0.9M225.8 72.9h0.9M219.5 70.1h0.9M195.6 71.3h0.9M211.0 76.8h0.9M208.8 68.7h0.9M197.9 71.7h0.9M189.9 81.7h0.9M219.3 70.3h0.9M221.3 76.7h0.9M226.8 68.8h0.9M189.0 84.1h0.9M181.2 76.4h0.9M217.0 70.6h0.9M198.8 85.2h0.9M225.9 67.5h0.9M192.5 77.8h0.9M215.7 70.0h0.9M193.4 85.3h0.9M223.7 76.2h0.9M194.7 81.0h0.9M226.8 71.4h0.9M213.7 83.4h0.9M212.4 69.3h0.9M186.6 76.8h0.9M204.8 82.3h0.9M188.4 78.4h0.9M209.6 83.2h0.9M194.7 79.3h0.9M197.2 85.1h0.9M219.5 77.5h0.9M203.9 67.9h0.9M208.3 75.4h0.9M194.7 83.0h0.9M221.1 74.6h0.9M194.9 84.3h0.9M221.9 74.8h0.9M192.8 86.2h0.9M207.6 85.3h0.9M214.2 79.6h0.9M183.1 80.8h0.9M202.8 83.6h0.9M183.6 78.7h0.9M191.0 85.3h0.9M193.4 79.2h0.9M202.1 68.8h0.9M190.6 85.7h0.9M197.0 80.7h0.9M210.5 82.7h0.9M216.0 76.1h0.9M176.0 81.8h0.9M190.9 83.2h0.9M219.6 68.6h0.9M177.2 84.8h0.9M214.4 68.0h0.9M215.3 74.8h0.9M191.1 81.6h0.9M210.3 81.7h0.9M203.7 77.3h0.9M206.7 75.8h0.9M208.9 73.1h0.9M200.1 83.4h0.9M196.5 77.0h0.9M179.5 82.7h0.9M221.4 72.6h0.9M219.3 77.1h0.9M187.0 86.3h0.9M210.0 85.8h0.9M216.7 76.0h0.9M203.8 85.0h0.9M201.9 78.7h0.9M183.3 80.3h0.9M185.6 81.0h0.9M193.9 79.0h0.9M215.2 72.4h0.9M202.3 74.9h0.9M213.1 76.8h0.9M188.5 80.9h0.9M177.9 83.3h0.9M225.1 70.6h0.9M220.5 79.4h0.9M183.5 80.4h0.9M202.2 74.5h0.9M174.1 80.5h0.9M180.8 86.8h0.9M204.4 72.9h0.9M223.9 67.0h0.9M213.1 85.7h0.9M213.1 79.1h0.9M173.8 86.9h0.9M180.8 84.6h0.9M189.4 74.5h0.9M191.9 83.0h0.9M177.6 78.8h0.9M222.3 77.2h0.9M198.0 84.2h0.9M170.2 85.3h0.9M178.0 81.6h0.9M220.6 79.2h0.9M203.2 83.9h0.9M202.8 76.8h0.9M181.6 84.3h0.9M213.0 85.2h0.9M175.4 85.9h0.9M188.2 83.4h0.9M192.2 81.9h0.9M175.5 86.2h0.9M207.5 70.1h0.9M196.7 73.7h0.9M212.8 84.0h0.9M217.0 65.7h0.9M211.3 86.6h0.9M170.8 80.9h0.9M188.8 83.3h0.9M209.2 86.7h0.9M222.0 68.5h0.9M223.3 71.3h0.9M203.2 87.0h0.9M204.6 82.7h0.9M203.3 83.1h0.9M197.9 78.8h0.9M210.2 85.6h0.9M205.0 80.1h0.9M174.6 86.4h0.9M219.3 80.7h0.9M174.7 82.8h0.9M211.4 79.6h0.9M216.7 69.0h0.9M224.4 66.3h0.9M204.0 78.7h0.9M182.4 81.2h0.9M225.5 70.2h0.9M214.9 83.1h0.9M195.9 77.8h0.9M171.6 80.4h0.9M198.9 85.1h0.9M220.2 65.9h0.9M201.6 82.9h0.9M215.6 66.0h0.9M228.4 70.8h0.9M221.3 78.8h0.9M209.3 86.3h0.9M203.8 85.7h0.9M206.4 82.5h0.9M183.9 83.1h0.9M207.0 82.7h0.9M209.1 76.7h0.9M193.1 78.8h0.9M217.8 68.3h0.9M196.6 79.8h0.9M190.3 75.5h0.9M216.3 71.6h0.9M196.2 74.0h0.9M198.5 81.4h0.9M216.6 66.1h0.9M195.5 84.4h0.9M191.5 79.0h0.9M212.2 70.6h0.9M181.3 83.1h0.9M204.9 80.1h0.9M183.9 84.1h0.9M179.0 82.5h0.9M227.8 67.8h0.9M182.3 78.5h0.9M219.8 75.8h0.9M210.9 80.7h0.9M218.9 76.9h0.9M198.0 71.8h0.9M202.0 80.8h0.9M213.3 75.5h0.9M212.5 75.9h0.9M215.2 76.4h0.9M207.2 71.5h0.9M218.4 78.4h0.9M210.9 75.9h0.9M204.1 84.9h0.9M224.0 74.2h0.9M183.0 84.2h0.9M187.6 78.5h0.9M198.3 86.2h0.9M221.1 72.2h0.9M218.0 74.0h0.9M213.4 68.2h0.9M209.8 73.4h0.9M208.1 85.1h0.9M181.9 81.5h0.9M195.2 76.0h0.9M217.8 79.1h0.9M188.0 87.0h0.9M171.7 81.8h0.9M196.2 83.0h0.9M169.6 80.8h0.9M216.2 73.5h0.9M211.8 85.8h0.9M179.3 81.1h0.9M174.2 82.6h0.9M213.8 75.2h0.9M218.4 74.7h0.9M217.4 79.3h0.9M203.8 80.2h0.9M180.5 82.7h0.9M219.7 77.1h0.9M220.5 62.4h0.9M175.2 86.1h0.9M211.7 73.7h0.9M199.5 85.1h0.9M216.0 68.0h0.9M212.9 79.0h0.9M213.5 79.9h0.9M216.8 76.6h0.9M216.8 80.2h0.9M206.4 86.5h0.9M214.7 83.0h0.9M219.3 74.4h0.9M210.8 85.3h0.9M197.2 71.1h0.9M184.7 83.6h0.9M187.3 79.7h0.9M222.7 69.4h0.9M195.7 72.7h0.9M180.3 85.2h0.9M213.0 79.6h0.9M205.4 75.3h0.9M213.2 68.5h0.9M188.6 84.3h0.9M192.5 80.4h0.9M205.5 71.0h0.9M174.4 81.2h0.9M182.2 75.4h0.9M198.1 80.2h0.9M214.3 81.9h0.9M184.7 79.7h0.9M197.9 85.5h0.9M218.3 66.6h0.9M210.3 73.3h0.9M200.9 80.1h0.9M216.5 71.0h0.9M199.1 78.8h0.9M203.3 77.2h0.9M186.4 82.4h0.9M178.0 78.6h0.9M210.7 79.1h0.9M191.3 79.6h0.9M197.8 83.9h0.9M211.9 70.7h0.9M220.7 70.2h0.9M208.0 70.0h0.9M179.2 86.5h0.9M178.5 81.8h0.9M202.6 73.8h0.9M200.1 79.4h0.9M221.5 65.0h0.9M183.3 83.2h0.9M227.9 67.5h0.9M193.7 83.1h0.9M201.1 77.2h0.9M203.8 81.4h0.9M188.6 84.5h0.9M197.5 75.8h0.9M217.2 82.1h0.9M212.7 77.0h0.9M215.8 76.2h0.9M188.4 80.3h0.9M223.2 71.7h0.9M190.9 84.2h0.9M216.3 77.4h0.9M200.4 77.3h0.9M182.8 85.6h0.9M225.5 72.9h0.9M200.1 72.1h0.9M205.7 85.7h0.9M187.9 82.3h0.9M221.3 67.1h0.9M215.3 79.6h0.9M207.4 79.1h0.9M218.6 76.1h0.9M179.8 77.9h0.9M177.9 84.3h0.9M187.9 82.1h0.9M220.7 74.8h0.9M221.2 72.4h0.9M188.7 80.5h0.9M197.2 83.3h0.9M211.5 73.3h0.9M185.7 80.7h0.9M202.6 71.4h0.9M208.9 67.2h0.9M188.3 81.3h0.9M200.1 79.5h0.9M180.4 74.9h0.9M176.3 85.6h0.9M215.9 68.6h0.9M191.8 76.2h0.9M212.8 79.9h0.9M181.4 84.5h0.9M211.8 71.4h0.9M193.8 74.7h0.9M185.4 86.4h0.9M214.3 83.6h0.9M175.2 74.7h0.9M183.1 83.8h0.9M214.0 71.3h0.9M198.0 83.1h0.9M188.2 82.8h0.9M191.7 79.5h0.9M217.4 73.8h0.9M203.0 71.3h0.9M206.3 76.4h0.9M188.2 81.0h0.9M208.2 77.9h0.9M192.9 79.4h0.9M173.0 85.1h0.9M178.2 82.3h0.9M223.6 67.6h0.9M190.7 77.8h0.9M220.1 81.3h0.9M173.2 79.4h0.9M176.5 86.0h0.9M204.2 84.4h0.9M170.4 85.6h0.9M199.6 70.8h0.9M188.5 81.3h0.9M212.8 71.3h0.9M180.7 82.7h0.9M198.6 76.9h0.9M227.4 64.7h0.9M187.9 73.5h0.9M219.3 72.2h0.9M209.8 79.2h0.9M212.2 76.9h0.9M221.4 75.1h0.9M212.1 78.2h0.9M210.8 71.2h0.9M187.4 85.5h0.9M225.4 73.8h0.9M221.4 73.2h0.9M176.6 82.4h0.9M208.6 76.6h0.9M190.2 76.9h0.9M194.8 70.1h0.9M195.1 85.5h0.9M178.2 84.8h0.9M201.0 67.7h0.9M173.0 85.7h0.9M200.8 72.5h0.9M207.9 79.6h0.9M183.8 82.6h0.9M196.1 82.9h0.9M203.0 77.8h0.9M212.0 65.1h0.9M218.3 74.1h0.9M216.0 73.2h0.9M196.2 72.2h0.9M194.8 72.4h0.9M193.7 82.2h0.9M216.9 80.3h0.9M201.0 72.0h0.9M216.5 69.3h0.9M174.9 78.8h0.9M188.8 77.2h0.9M205.9 80.0h0.9M222.3 65.4h0.9M206.5 81.3h0.9M215.9 70.1h0.9M178.3 85.3h0.9M200.1 70.6h0.9M217.3 69.8h0.9M225.2 71.4h0.9M205.7 81.6h0.9M208.5 77.4h0.9M225.4 77.1h0.9M219.7 68.4h0.9M206.5 77.6h0.9M197.3 74.5h0.9M196.9 86.5h0.9M226.8 72.7h0.9M213.7 83.5h0.9M181.1 78.2h0.9M210.1 84.2h0.9M209.4 85.9h0.9M218.4 77.9h0.9M185.7 81.6h0.9M217.1 65.7h0.9M210.9 86.4h0.9M186.1 75.7h0.9M171.5 86.3h0.9M215.9 73.5h0.9M171.4 85.9h0.9M221.0 72.3h0.9M173.3 82.7h0.9M224.5 63.8h0.9M175.9 83.0h0.9M202.0 80.2h0.9M189.3 80.6h0.9M195.1 81.0h0.9M188.3 78.0h0.9M227.7 69.8h0.9M203.8 76.2h0.9M219.7 72.5h0.9M197.4 76.1h0.9M218.3 70.8h0.9M199.3 71.5h0.9M220.0 75.5h0.9M218.1 73.7h0.9M200.6 74.1h0.9M221.9 79.7h0.9M200.1 81.0h0.9M216.0 77.1h0.9M174.9 84.9h0.9M212.2 70.3h0.9M196.7 81.3h0.9M195.5 73.8h0.9M218.4 67.8h0.9M212.0 69.4h0.9M218.9 67.0h0.9M196.6 79.6h0.9M216.8 71.6h0.9M200.4 73.2h0.9M214.9 73.1h0.9M179.9 84.9h0.9M184.5 80.5h0.9M180.9 85.0h0.9M215.3 71.2h0.9M209.6 86.3h0.9M212.1 83.7h0.9M222.6 77.3h0.9M217.1 66.0h0.9M184.5 84.6h0.9M205.8 79.3h0.9M187.8 79.6h0.9M190.9 86.6h0.9M210.6 84.5h0.9M203.1 78.5h0.9M213.3 82.2h0.9M212.0 85.9h0.9M216.9 75.5h0.9M191.4 84.1h0.9M210.6 81.2h0.9M202.0 80.6h0.9M207.6 81.8h0.9M214.6 78.3h0.9M179.6 80.7h0.9M184.2 82.5h0.9M202.9 76.6h0.9M198.1 75.3h0.9M178.3 77.1h0.9M216.0 72.2h0.9M198.0 75.8h0.9M207.5 86.0h0.9M217.2 76.8h0.9M226.3 68.4h0.9M197.2 79.4h0.9M211.0 74.2h0.9M191.0 86.4h0.9M213.0 65.0h0.9M222.1 63.4h0.9M183.5 79.9h0.9M218.9 65.5h0.9M209.4 75.3h0.9M225.2 67.5h0.9M174.7 86.4h0.9M211.1 76.5h0.9M201.3 85.4h0.9M199.3 77.2h0.9M175.0 83.4h0.9M193.3 77.2h0.9M179.7 83.0h0.9M179.3 78.0h0.9M190.9 83.4h0.9M211.9 74.8h0.9M194.4 81.0h0.9M216.7 65.7h0.9M196.5 85.4h0.9M224.9 75.1h0.9M183.0 75.2h0.9M183.1 83.5h0.9M200.1 76.4h0.9M187.0 86.3h0.9M211.2 85.9h0.9M197.2 78.6h0.9M186.8 84.3h0.9M184.5 81.6h0.9M201.4 73.4h0.9M229.0 68.4h0.9M187.8 77.5h0.9M193.8 80.6h0.9M206.1 77.1h0.9M213.7 82.7h0.9M222.7 77.9h0.9M222.8 76.6h0.9M195.7 81.0h0.9M203.5 79.0h0.9M189.1 80.3h0.9M220.4 77.6h0.9M203.8 70.4h0.9M218.3 77.7h0.9M221.9 73.4h0.9M180.7 83.4h0.9M187.6 82.4h0.9M194.9 81.0h0.9M177.6 84.3h0.9M182.9 85.9h0.9M227.2 69.1h0.9M206.1 77.5h0.9M222.0 76.4h0.9M221.1 75.7h0.9M194.0 74.0h0.9M209.6 73.8h0.9M208.5 69.5h0.9M203.6 84.4h0.9M188.0 85.8h0.9M211.8 80.5h0.9M204.1 70.0h0.9M200.1 78.4h0.9M219.7 80.4h0.9M217.2 68.0h0.9M170.7 78.8h0.9M205.2 69.2h0.9M201.8 80.7h0.9M220.6 74.7h0.9M186.0 84.4h0.9M198.0 85.3h0.9M212.7 77.9h0.9M204.4 84.0h0.9M225.9 66.0h0.9M211.2 77.3h0.9M219.6 76.3h0.9M224.5 66.4h0.9M177.6 84.5h0.9M214.6 81.8h0.9M188.5 81.4h0.9M200.1 83.1h0.9M211.8 73.7h0.9M221.6 76.0h0.9M227.1 68.5h0.9M203.5 80.9h0.9M219.5 77.2h0.9M211.6 80.6h0.9M225.9 65.4h0.9M216.0 68.2h0.9M220.6 69.2h0.9M226.2 63.3h0.9M194.5 86.4h0.9M187.3 80.0h0.9M220.6 76.8h0.9M216.3 75.6h0.9M219.0 75.4h0.9M207.5 76.8h0.9M224.9 69.5h0.9M195.4 77.7h0.9M199.5 76.0h0.9M206.1 72.7h0.9M219.4 76.1h0.9M200.7 82.4h0.9M201.7 72.9h0.9M220.1 75.0h0.9M207.5 77.4h0.9M199.6 77.7h0.9M221.1 78.5h0.9M217.9 83.7h0.9M215.8 77.5h0.9M181.5 84.3h0.9M201.2 79.7h0.9M217.8 80.8h0.9M217.1 82.5h0.9M175.4 77.7h0.9M209.3 71.8h0.9M224.7 64.8h0.9M213.9 77.4h0.9M222.6 68.2h0.9M188.7 76.7h0.9M201.4 85.7h0.9M219.6 63.4h0.9M210.7 76.5h0.9M193.1 82.9h0.9M210.4 67.0h0.9M199.3 78.2h0.9M186.6 75.6h0.9M210.8 85.6h0.9M203.6 80.1h0.9M174.0 84.0h0.9M219.4 73.6h0.9M205.0 76.0h0.9M214.4 68.7h0.9M177.9 85.0h0.9M172.3 78.4h0.9M207.3 70.1h0.9M222.3 65.2h0.9M177.2 80.6h0.9M215.9 75.0h0.9M199.6 78.3h0.9M209.9 71.4h0.9M212.6 84.2h0.9M189.0 76.1h0.9M178.1 76.5h0.9M228.8 67.6h0.9M214.3 73.0h0.9M185.4 74.3h0.9M198.1 78.5h0.9M211.0 70.9h0.9M188.3 77.2h0.9M216.2 64.0h0.9M218.7 79.2h0.9M229.8 64.9h0.9M198.6 78.7h0.9M218.8 67.2h0.9M204.6 74.1h0.9M205.0 78.5h0.9M191.7 74.8h0.9M214.8 70.9h0.9M227.2 67.7h0.9M220.9 73.6h0.9M224.1 69.0h0.9M228.0 65.3h0.9M217.3 71.2h0.9M222.9 70.9h0.9M221.6 76.8h0.9M220.2 70.5h0.9M221.4 68.9h0.9M224.4 69.9h0.9M226.6 66.0h0.9M221.4 70.9h0.9M218.1 71.2h0.9M225.5 66.3h0.9M219.7 64.5h0.9M227.4 69.8h0.9M218.1 73.1h0.9M221.9 65.2h0.9M221.4 74.5h0.9M215.1 73.9h0.9M222.0 67.2h0.9M224.0 67.3h0.9M220.8 77.5h0.9M225.2 68.9h0.9M227.9 72.7h0.9M222.2 72.5h0.9M221.3 70.2h0.9M226.6 71.8h0.9M228.5 63.9h0.9M227.6 71.0h0.9M220.2 71.6h0.9M224.5 69.0h0.9M225.5 69.2h0.9M224.8 69.8h0.9M220.0 73.2h0.9M215.4 69.6h0.9M221.6 69.2h0.9M223.2 71.5h0.9M222.9 69.8h0.9M221.0 69.7h0.9M218.2 74.6h0.9M223.1 72.9h0.9M223.2 67.4h0.9M222.5 67.3h0.9M216.0 74.6h0.9M223.5 68.3h0.9M217.0 72.4h0.9M222.0 69.8h0.9M223.2 67.4h0.9M223.1 65.6h0.9M221.0 65.0h0.9M226.8 68.5h0.9M221.9 71.3h0.9M223.9 66.7h0.9M225.7 69.1h0.9M221.0 66.0h0.9M216.7 74.0h0.9M225.8 70.2h0.9M225.1 70.6h0.9M224.2 69.5h0.9M229.1 62.6h0.9M212.9 67.5h0.9M201.5 69.9h0.9M192.2 67.7h0.9M224.0 62.2h0.9M224.0 63.3h0.9M219.0 69.9h0.9M229.1 69.0h0.9M193.1 67.8h0.9M213.4 63.0h0.9M207.3 86.4h0.9M196.7 86.4h0.9M202.7 86.4h0.9M197.4 86.4h0.9M187.7 86.4h0.9M195.0 86.4h0.9M191.6 86.4h0.9M209.9 86.4h0.9M193.2 86.4h0.9M191.7 86.4h0.9M208.1 86.4h0.9M183.8 86.4h0.9M178.9 86.4h0.9M190.5 86.4h0.9M176.8 86.4h0.9M189.0 86.4h0.9M212.0 86.4h0.9M206.3 86.4h0.9M187.3 86.4h0.9M214.7 86.4h0.9M212.8 86.4h0.9M197.9 86.4h0.9M179.6 86.4h0.9M198.4 86.4h0.9M193.6 86.4h0.9M200.1 86.4h0.9M210.0 86.4h0.9M185.8 86.4h0.9M197.9 86.4h0.9M206.3 86.4h0.9" stroke="#000" stroke-width="0.9" fill="none"/>
<path d="M153.8 15.5H244.5V87.3" stroke="#000" stroke-width="1.1" fill="none"/>
<path d="M154.4 15V88" stroke="#000" stroke-width="1.5" fill="none"/>
<path d="M154.3 87.3H245" stroke="#000" stroke-width="1.5" fill="none"/>
<path d="M183.5 15.4V87.3M154.3 61.5H244.4" stroke="#000" stroke-width="1" fill="none"/>
<path d="M161.08 87.3v2.3M165.05 87.3v2.3M167.86 87.3v2.3M170.04 87.3v2.3M171.83 87.3v2.3M173.34 87.3v2.3M174.64 87.3v2.3M175.79 87.3v2.3M183.61 87.3v2.3M187.57 87.3v2.3M190.39 87.3v2.3M192.57 87.3v2.3M194.35 87.3v2.3M195.86 87.3v2.3M197.17 87.3v2.3M198.32 87.3v2.3M206.13 87.3v2.3M210.1 87.3v2.3M212.91 87.3v2.3M215.09 87.3v2.3M216.88 87.3v2.3M218.39 87.3v2.3M219.69 87.3v2.3M220.84 87.3v2.3M228.66 87.3v2.3M232.62 87.3v2.3M235.44 87.3v2.3M237.62 87.3v2.3M239.4 87.3v2.3M240.91 87.3v2.3M242.22 87.3v2.3M243.37 87.3v2.3" stroke="#000" stroke-width="0.95" fill="none"/>
<path d="M154.3 87.3v3.9M176.83 87.3v3.9M199.35 87.3v3.9M221.88 87.3v3.9M244.4 87.3v3.9" stroke="#000" stroke-width="1.25" fill="none"/>
<path d="M154.3 81.89h-2.3M154.3 78.72h-2.3M154.3 76.48h-2.3M154.3 74.74h-2.3M154.3 73.31h-2.3M154.3 72.11h-2.3M154.3 71.07h-2.3M154.3 70.15h-2.3M154.3 63.91h-2.3M154.3 60.75h-2.3M154.3 58.5h-2.3M154.3 56.76h-2.3M154.3 55.34h-2.3M154.3 54.13h-2.3M154.3 53.09h-2.3M154.3 52.17h-2.3M154.3 45.94h-2.3M154.3 42.77h-2.3M154.3 40.53h-2.3M154.3 38.79h-2.3M154.3 37.36h-2.3M154.3 36.16h-2.3M154.3 35.12h-2.3M154.3 34.2h-2.3M154.3 27.96h-2.3M154.3 24.8h-2.3M154.3 22.55h-2.3M154.3 20.81h-2.3M154.3 19.39h-2.3M154.3 18.18h-2.3M154.3 17.14h-2.3M154.3 16.22h-2.3" stroke="#000" stroke-width="0.95" fill="none"/>
<path d="M154.3 87.3h-4M154.3 69.33h-4M154.3 51.35h-4M154.3 33.38h-4M154.3 15.4h-4" stroke="#000" stroke-width="1.25" fill="none"/>
<text x="157" y="101.4" class="tk" font-size="9" text-anchor="end" textLength="7.56" lengthAdjust="spacingAndGlyphs">10</text>
<text x="157" y="97.17" class="te" font-size="7.47" textLength="3.51" lengthAdjust="spacingAndGlyphs">0</text>
<text x="179.2" y="101.4" class="tk" font-size="9" text-anchor="end" textLength="7.56" lengthAdjust="spacingAndGlyphs">10</text>
<text x="179.2" y="97.17" class="te" font-size="7.47" textLength="3.51" lengthAdjust="spacingAndGlyphs">1</text>
<text x="201.4" y="101.4" class="tk" font-size="9" text-anchor="end" textLength="7.56" lengthAdjust="spacingAndGlyphs">10</text>
<text x="201.4" y="97.17" class="te" font-size="7.47" textLength="3.51" lengthAdjust="spacingAndGlyphs">2</text>
<text x="223.6" y="101.4" class="tk" font-size="9" text-anchor="end" textLength="7.56" lengthAdjust="spacingAndGlyphs">10</text>
<text x="223.6" y="97.17" class="te" font-size="7.47" textLength="3.51" lengthAdjust="spacingAndGlyphs">3</text>
<text x="245.8" y="101.4" class="tk" font-size="9" text-anchor="end" textLength="7.56" lengthAdjust="spacingAndGlyphs">10</text>
<text x="245.8" y="97.17" class="te" font-size="7.47" textLength="3.51" lengthAdjust="spacingAndGlyphs">4</text>
<g transform="translate(147.5 87.3) rotate(-90)">
<text x="1.6" y="0" class="tk" font-size="9" text-anchor="end" textLength="7.56" lengthAdjust="spacingAndGlyphs">10</text>
<text x="3.1" y="-5.13" class="te" font-size="7.47" textLength="3.51" lengthAdjust="spacingAndGlyphs">0</text>
</g>
<g transform="translate(147.5 69.53) rotate(-90)">
<text x="1.6" y="0" class="tk" font-size="9" text-anchor="end" textLength="7.56" lengthAdjust="spacingAndGlyphs">10</text>
<text x="3.1" y="-5.13" class="te" font-size="7.47" textLength="3.51" lengthAdjust="spacingAndGlyphs">1</text>
</g>
<g transform="translate(147.5 51.75) rotate(-90)">
<text x="1.6" y="0" class="tk" font-size="9" text-anchor="end" textLength="7.56" lengthAdjust="spacingAndGlyphs">10</text>
<text x="3.1" y="-5.13" class="te" font-size="7.47" textLength="3.51" lengthAdjust="spacingAndGlyphs">2</text>
</g>
<g transform="translate(147.5 33.98) rotate(-90)">
<text x="1.6" y="0" class="tk" font-size="9" text-anchor="end" textLength="7.56" lengthAdjust="spacingAndGlyphs">10</text>
<text x="3.1" y="-5.13" class="te" font-size="7.47" textLength="3.51" lengthAdjust="spacingAndGlyphs">3</text>
</g>
<g transform="translate(147.5 16.2) rotate(-90)">
<text x="1.6" y="0" class="tk" font-size="9" text-anchor="end" textLength="7.56" lengthAdjust="spacingAndGlyphs">10</text>
<text x="3.1" y="-5.13" class="te" font-size="7.47" textLength="3.51" lengthAdjust="spacingAndGlyphs">4</text>
</g>
<path d="M200.5 126.2h0.9M226.5 127.0h0.9M197.7 126.9h0.9M191.5 125.5h0.9M200.7 125.9h0.9M203.2 126.1h0.9M180.1 124.8h0.9M188.4 124.0h0.9M195.3 126.1h0.9M204.3 125.4h0.9M193.9 127.1h0.9M202.6 125.2h0.9M209.6 125.6h0.9M206.7 126.0h0.9M192.3 124.9h0.9M194.9 129.3h0.9M190.3 128.3h0.9M207.8 125.9h0.9M205.9 128.1h0.9M193.3 125.8h0.9M206.0 126.8h0.9M215.0 126.9h0.9M185.7 126.3h0.9M185.5 127.3h0.9M202.3 125.9h0.9M188.1 127.5h0.9M192.6 127.9h0.9M187.3 126.1h0.9M191.2 125.2h0.9M220.3 128.4h0.9M190.4 127.4h0.9M180.0 127.9h0.9M205.7 126.0h0.9M192.9 126.7h0.9M200.1 126.0h0.9M188.5 126.1h0.9M192.2 127.4h0.9M196.8 126.7h0.9M181.2 125.9h0.9M192.6 125.8h0.9M195.0 126.0h0.9M182.5 127.5h0.9M204.3 125.8h0.9M201.7 125.3h0.9M184.9 126.2h0.9M210.0 126.3h0.9M182.5 126.7h0.9M191.1 125.6h0.9M199.4 124.3h0.9M180.2 124.7h0.9M205.9 126.6h0.9M190.9 125.6h0.9M202.2 128.0h0.9M189.8 126.8h0.9M217.5 127.2h0.9M193.4 126.9h0.9M197.4 127.3h0.9M199.6 125.9h0.9M195.4 126.9h0.9M190.3 126.5h0.9M188.3 128.0h0.9M210.4 125.4h0.9M204.0 126.7h0.9M197.3 126.2h0.9M198.9 127.7h0.9M185.5 127.7h0.9M194.1 125.1h0.9M196.0 127.2h0.9M195.7 126.8h0.9M193.5 125.8h0.9M205.4 125.3h0.9M205.4 126.9h0.9M194.0 126.2h0.9M193.9 126.4h0.9M196.1 126.3h0.9M179.3 123.9h0.9M199.5 125.7h0.9M191.4 126.3h0.9M186.7 128.3h0.9M196.5 126.3h0.9M187.1 127.5h0.9M202.9 128.2h0.9M204.4 125.5h0.9M185.3 128.1h0.9M190.5 126.3h0.9M195.1 127.1h0.9M201.4 125.2h0.9M190.8 124.4h0.9M201.5 126.3h0.9M181.6 127.7h0.9M196.6 125.3h0.9M192.9 125.8h0.9M197.4 126.7h0.9M191.5 127.0h0.9M173.7 126.1h0.9M202.2 127.6h0.9M203.6 125.2h0.9M181.7 126.1h0.9M216.5 126.8h0.9M190.0 124.5h0.9M197.8 125.9h0.9M200.9 126.7h0.9M175.9 126.3h0.9M203.4 125.8h0.9M186.0 125.1h0.9M184.8 129.1h0.9M208.8 125.7h0.9M208.4 125.2h0.9M191.7 125.6h0.9M194.8 127.2h0.9M214.1 127.3h0.9M195.4 126.6h0.9M194.4 126.9h0.9M188.8 126.7h0.9M200.4 127.6h0.9M189.2 126.9h0.9M198.8 125.5h0.9M179.1 125.8h0.9M204.0 126.1h0.9M216.2 127.1h0.9M190.1 126.3h0.9M200.4 127.0h0.9M194.3 127.0h0.9M222.1 127.5h0.9M197.8 125.9h0.9M180.8 126.6h0.9M192.8 126.4h0.9M191.6 127.4h0.9M205.7 125.6h0.9M184.4 126.8h0.9M208.3 126.9h0.9M200.5 124.8h0.9M191.5 127.1h0.9M199.5 126.4h0.9M201.3 127.4h0.9M197.1 125.6h0.9M184.1 126.7h0.9M194.8 126.2h0.9M205.9 125.7h0.9M193.9 127.2h0.9M188.6 123.9h0.9M191.5 127.4h0.9M191.1 126.1h0.9M180.2 127.8h0.9M181.2 125.7h0.9M194.7 128.7h0.9M197.2 125.6h0.9M183.4 126.1h0.9M185.7 125.7h0.9M196.7 127.9h0.9M186.7 128.0h0.9M179.5 128.7h0.9M190.7 126.0h0.9M192.2 126.7h0.9M195.8 126.0h0.9M190.2 125.8h0.9M196.7 125.8h0.9M190.3 124.8h0.9M196.5 127.0h0.9M187.4 127.6h0.9M195.9 126.6h0.9M181.6 127.2h0.9M207.1 128.7h0.9M191.0 126.4h0.9M202.6 127.1h0.9M190.8 126.5h0.9M204.7 127.1h0.9M195.8 127.6h0.9M183.5 126.9h0.9M190.6 126.0h0.9M203.2 128.5h0.9M200.1 126.6h0.9M210.4 127.3h0.9M177.4 125.7h0.9M190.6 125.7h0.9M183.5 127.2h0.9M197.8 128.5h0.9M193.9 126.6h0.9M190.0 127.6h0.9M207.2 128.4h0.9M205.1 125.8h0.9M206.7 125.4h0.9M191.2 126.2h0.9M214.3 125.6h0.9M188.0 126.7h0.9M206.6 127.1h0.9M201.2 125.5h0.9M193.2 127.9h0.9M197.4 125.7h0.9M193.5 128.0h0.9M211.1 126.9h0.9M189.6 128.4h0.9M191.1 126.6h0.9M200.1 126.5h0.9M195.1 128.3h0.9M199.3 124.8h0.9M191.6 128.0h0.9M195.1 125.3h0.9M204.3 127.0h0.9M197.0 127.1h0.9M193.4 126.7h0.9M201.5 125.8h0.9M207.2 125.3h0.9M214.2 126.6h0.9M199.8 125.1h0.9M203.2 125.5h0.9M200.8 126.5h0.9M189.8 128.5h0.9M198.0 125.9h0.9M193.6 126.9h0.9M197.1 127.5h0.9M191.8 126.7h0.9M192.5 125.7h0.9M203.5 125.6h0.9M182.9 127.2h0.9M192.3 127.1h0.9M201.1 127.1h0.9M197.3 128.3h0.9M187.8 127.8h0.9M195.5 126.8h0.9M193.1 127.5h0.9M200.8 126.0h0.9M197.2 127.1h0.9M195.6 129.3h0.9M201.6 126.1h0.9M205.3 126.8h0.9M192.4 126.1h0.9M183.3 127.4h0.9M209.5 126.4h0.9M190.1 124.5h0.9M186.5 126.5h0.9M191.4 126.3h0.9M189.7 126.3h0.9M194.9 126.7h0.9M197.6 126.7h0.9M190.0 126.2h0.9M186.5 125.9h0.9M196.5 127.0h0.9M185.5 125.4h0.9M192.3 125.1h0.9M194.3 126.3h0.9M190.7 128.3h0.9M193.1 126.8h0.9M181.8 127.4h0.9M199.4 126.7h0.9M178.8 126.4h0.9M191.0 127.0h0.9M196.4 125.9h0.9M192.8 127.9h0.9M205.9 124.5h0.9M192.9 127.2h0.9M193.2 126.8h0.9M193.9 128.3h0.9M202.7 126.3h0.9M208.5 127.2h0.9M210.8 126.0h0.9M184.0 127.4h0.9M196.9 124.5h0.9M164.5 126.6h0.9M197.2 125.6h0.9M192.7 126.6h0.9M184.9 127.9h0.9M185.7 126.5h0.9M196.7 125.9h0.9M190.1 127.5h0.9M183.1 126.5h0.9M210.1 125.6h0.9M183.6 125.9h0.9M171.8 125.6h0.9M186.6 125.5h0.9M189.0 127.1h0.9M196.7 125.3h0.9M207.3 125.3h0.9M208.8 125.9h0.9M188.6 125.9h0.9M208.4 126.6h0.9M196.1 124.6h0.9M196.1 126.1h0.9M193.2 125.5h0.9M182.9 127.9h0.9M188.1 127.1h0.9M201.1 126.6h0.9M197.5 127.2h0.9M193.4 126.3h0.9M199.1 126.7h0.9M193.7 123.4h0.9M196.0 125.0h0.9M206.2 127.9h0.9M198.3 126.7h0.9M179.1 126.2h0.9M189.7 128.5h0.9M185.1 129.0h0.9M194.8 124.1h0.9M211.6 126.2h0.9M199.4 127.7h0.9M182.9 125.9h0.9M197.4 127.9h0.9M194.8 127.1h0.9M181.4 127.0h0.9M188.5 126.0h0.9M197.2 127.5h0.9M190.5 126.9h0.9M193.7 127.2h0.9M192.5 128.1h0.9M187.6 125.3h0.9M207.2 125.6h0.9M201.9 127.3h0.9M182.1 126.1h0.9M192.3 126.3h0.9M183.7 126.7h0.9M198.0 125.2h0.9M196.5 126.7h0.9M181.9 126.4h0.9M204.0 127.3h0.9M187.1 125.6h0.9M196.4 126.9h0.9M203.2 126.5h0.9M203.1 125.7h0.9M211.8 126.2h0.9M188.1 125.8h0.9M181.0 125.6h0.9M193.5 127.0h0.9M205.7 125.4h0.9M189.8 127.2h0.9M204.9 127.3h0.9M198.2 125.1h0.9M191.5 124.6h0.9M190.1 127.8h0.9M209.3 126.1h0.9M201.1 127.9h0.9M187.0 124.8h0.9M190.4 124.0h0.9M201.8 126.3h0.9M193.4 126.4h0.9M200.0 126.4h0.9M185.5 127.1h0.9M191.3 126.7h0.9M190.0 126.4h0.9M182.6 126.5h0.9M193.2 127.6h0.9M188.9 125.4h0.9M201.6 124.1h0.9M201.0 126.3h0.9M191.8 126.5h0.9M193.3 125.3h0.9M201.7 125.3h0.9M196.6 126.1h0.9M189.3 125.6h0.9M198.0 125.9h0.9M207.0 127.3h0.9M191.8 127.5h0.9M175.6 128.3h0.9M184.6 124.9h0.9M204.9 124.5h0.9M189.3 126.7h0.9M178.1 126.2h0.9M203.2 125.5h0.9M208.0 125.3h0.9M207.7 126.8h0.9M196.7 126.1h0.9M187.2 127.6h0.9M185.6 126.3h0.9M201.6 126.9h0.9M201.3 125.6h0.9M184.7 126.6h0.9M194.2 127.6h0.9M178.9 126.3h0.9M198.9 125.8h0.9M181.8 126.4h0.9M204.3 125.5h0.9M187.7 125.2h0.9M187.1 124.3h0.9M222.1 126.1h0.9M205.6 127.7h0.9M190.8 127.0h0.9M211.1 127.9h0.9M204.2 125.5h0.9M190.2 126.4h0.9M208.8 125.5h0.9M201.5 127.7h0.9M202.6 126.4h0.9M190.4 127.2h0.9M193.1 126.8h0.9M191.6 125.8h0.9M192.0 125.2h0.9M203.8 124.8h0.9M199.1 125.9h0.9M200.1 124.5h0.9M195.9 126.4h0.9M207.9 127.6h0.9M199.1 126.3h0.9M196.4 127.6h0.9M207.1 127.1h0.9M206.2 124.7h0.9M204.1 128.7h0.9M197.1 125.7h0.9M207.9 124.3h0.9M206.3 125.1h0.9M200.3 125.1h0.9M208.8 126.5h0.9M191.2 126.4h0.9M207.8 128.2h0.9M198.3 126.2h0.9M209.1 126.6h0.9M191.6 128.6h0.9M183.0 126.8h0.9M210.1 127.0h0.9M198.8 127.6h0.9M188.5 126.5h0.9M196.4 127.7h0.9M200.7 126.6h0.9M207.4 128.0h0.9M186.8 129.5h0.9M200.1 126.0h0.9M211.4 123.7h0.9M186.9 126.9h0.9M191.5 125.2h0.9M194.9 128.3h0.9M197.6 127.5h0.9M203.4 126.5h0.9M197.6 125.8h0.9M199.1 127.5h0.9M195.7 126.5h0.9M201.4 126.7h0.9M199.9 124.5h0.9M200.5 124.7h0.9M202.6 126.4h0.9M193.6 125.2h0.9M204.9 126.1h0.9M193.6 124.4h0.9M210.1 126.0h0.9M190.2 127.9h0.9M201.8 123.8h0.9M196.3 128.3h0.9M195.1 125.7h0.9M204.0 127.4h0.9M189.8 125.8h0.9M192.5 126.0h0.9M186.6 125.8h0.9M202.6 124.8h0.9M205.5 127.1h0.9M203.3 127.4h0.9M190.2 124.8h0.9M206.5 126.5h0.9M200.6 127.6h0.9M186.2 126.5h0.9M196.6 125.4h0.9M189.7 126.5h0.9M199.9 127.9h0.9M204.3 128.1h0.9M193.1 126.8h0.9M196.4 126.2h0.9M192.5 128.0h0.9M209.1 126.6h0.9M174.5 125.2h0.9M189.9 128.4h0.9M205.9 126.2h0.9M202.9 126.9h0.9M196.1 126.4h0.9M189.1 125.4h0.9M195.5 125.3h0.9M199.9 126.2h0.9M189.7 126.9h0.9M190.5 126.1h0.9M189.0 127.2h0.9M197.8 126.3h0.9M195.0 127.0h0.9M192.8 124.5h0.9M210.8 126.6h0.9M203.0 125.5h0.9M183.6 125.2h0.9M201.5 126.0h0.9M195.1 125.9h0.9M183.7 128.3h0.9M188.7 125.4h0.9M187.2 126.8h0.9M206.7 126.7h0.9M200.0 126.2h0.9M207.6 126.7h0.9M200.0 125.3h0.9M206.6 127.2h0.9M192.6 125.7h0.9M200.1 125.1h0.9M197.4 125.6h0.9M187.9 127.7h0.9M187.9 124.5h0.9M208.7 125.8h0.9M205.5 126.5h0.9M188.6 124.7h0.9M194.8 126.8h0.9M191.1 126.0h0.9M189.9 126.3h0.9M197.5 126.2h0.9M179.7 125.6h0.9M193.0 125.9h0.9M180.8 125.8h0.9M183.5 124.6h0.9M199.3 125.4h0.9M205.3 127.6h0.9M180.4 126.7h0.9M183.3 127.0h0.9M204.8 127.9h0.9M206.3 124.8h0.9M198.0 124.7h0.9M199.6 127.3h0.9M194.7 127.3h0.9M189.0 125.8h0.9M186.3 124.4h0.9M196.7 126.4h0.9M187.4 125.4h0.9M183.4 127.2h0.9M200.7 125.8h0.9M192.7 125.9h0.9M188.6 126.8h0.9M203.9 124.1h0.9M203.1 125.4h0.9M192.9 124.8h0.9M191.6 126.2h0.9M193.4 129.3h0.9M192.5 126.1h0.9M193.2 126.9h0.9M201.9 127.2h0.9M195.6 126.6h0.9M176.5 126.5h0.9M187.6 126.7h0.9M191.1 127.0h0.9M193.4 127.1h0.9M178.9 127.5h0.9M184.4 128.2h0.9M183.9 126.4h0.9M187.6 126.5h0.9M204.5 125.4h0.9M198.7 127.3h0.9M187.4 127.3h0.9M191.2 127.0h0.9M187.0 129.8h0.9M194.9 124.1h0.9M199.7 126.0h0.9M182.7 126.0h0.9M185.6 126.5h0.9M187.9 125.2h0.9M197.3 126.7h0.9M195.7 126.7h0.9M195.1 126.7h0.9M205.8 127.4h0.9M200.5 128.1h0.9M181.9 127.5h0.9M179.9 125.6h0.9M188.1 126.9h0.9M207.6 125.6h0.9M180.5 127.4h0.9M194.4 124.8h0.9M213.6 126.8h0.9M197.2 126.5h0.9M193.0 127.0h0.9M196.5 127.7h0.9M183.2 126.4h0.9M204.7 125.1h0.9M202.0 125.5h0.9M204.0 127.9h0.9M201.2 126.4h0.9M189.7 125.7h0.9M198.2 126.4h0.9M188.1 126.5h0.9M186.5 127.8h0.9M202.8 126.4h0.9M205.2 126.1h0.9M207.8 126.5h0.9M185.2 124.2h0.9M211.5 124.5h0.9M195.3 127.4h0.9M193.4 125.4h0.9M194.3 126.6h0.9M197.5 127.0h0.9M186.8 127.7h0.9M198.4 127.3h0.9M203.5 127.0h0.9M186.2 125.6h0.9M189.6 125.3h0.9M190.9 124.5h0.9M196.2 126.4h0.9M204.8 125.8h0.9M210.4 126.3h0.9M193.5 126.5h0.9M208.1 127.5h0.9M198.7 126.4h0.9M192.3 124.9h0.9M194.6 126.0h0.9M209.7 125.9h0.9M207.0 126.5h0.9M193.1 127.1h0.9M177.7 124.2h0.9M211.1 126.8h0.9M199.3 126.2h0.9M197.2 126.3h0.9M195.2 126.6h0.9M198.3 127.0h0.9M187.6 125.9h0.9M210.0 126.0h0.9M198.9 126.6h0.9M193.2 128.5h0.9M201.2 124.3h0.9M205.2 125.0h0.9M180.8 125.6h0.9M203.0 124.5h0.9M203.6 125.4h0.9M206.2 127.2h0.9M189.7 123.7h0.9M195.7 124.0h0.9M202.5 125.9h0.9M205.9 125.7h0.9M187.6 126.9h0.9M187.2 126.4h0.9M194.9 125.5h0.9M184.7 127.1h0.9M209.5 126.1h0.9M188.2 126.0h0.9M185.7 124.2h0.9M204.4 126.5h0.9M192.9 128.3h0.9M195.7 126.3h0.9M202.9 125.7h0.9M198.5 126.8h0.9M201.8 126.8h0.9M207.6 127.3h0.9M201.9 127.3h0.9M191.0 125.4h0.9M193.6 127.6h0.9M185.2 126.8h0.9M189.7 125.9h0.9M189.0 124.4h0.9M207.6 126.1h0.9M195.9 126.4h0.9M172.7 127.9h0.9M209.3 126.3h0.9M198.0 127.1h0.9M201.1 127.4h0.9M201.5 126.2h0.9M200.3 125.1h0.9M195.0 127.7h0.9M207.4 126.9h0.9M202.2 125.8h0.9M202.9 126.2h0.9M188.1 127.8h0.9M196.5 126.7h0.9M186.1 126.4h0.9M198.8 127.0h0.9M200.2 126.9h0.9M203.2 127.7h0.9M204.9 125.4h0.9M197.5 127.8h0.9M203.7 126.1h0.9M195.9 126.3h0.9M197.7 124.1h0.9M178.6 125.7h0.9M183.8 125.3h0.9M187.7 126.5h0.9M194.5 127.9h0.9M196.3 126.1h0.9M194.9 126.1h0.9M187.7 125.0h0.9M206.7 125.6h0.9M188.5 125.0h0.9M190.0 124.8h0.9M189.1 124.4h0.9M182.9 128.6h0.9M196.9 126.7h0.9M206.2 126.9h0.9M198.7 125.9h0.9M203.5 125.5h0.9M193.4 125.8h0.9M205.5 126.3h0.9M196.7 128.0h0.9M207.8 126.9h0.9M198.3 125.9h0.9M195.9 127.3h0.9M200.0 127.9h0.9M199.7 125.2h0.9M189.7 124.0h0.9M199.5 125.4h0.9M200.3 125.9h0.9M197.6 126.0h0.9M194.3 126.9h0.9M192.2 126.2h0.9M192.0 126.0h0.9M191.3 125.2h0.9M194.2 127.0h0.9M196.3 125.6h0.9M186.6 128.6h0.9M206.0 125.1h0.9M185.4 124.7h0.9M204.3 124.5h0.9M196.1 125.2h0.9M196.4 125.2h0.9M194.2 126.3h0.9M203.0 127.8h0.9M199.3 126.7h0.9M208.8 124.7h0.9M210.8 126.1h0.9M192.4 127.9h0.9M192.5 126.4h0.9M202.3 127.7h0.9M186.1 127.1h0.9M198.9 126.2h0.9M208.8 129.1h0.9M202.1 127.1h0.9M189.7 126.1h0.9M192.2 126.9h0.9M198.2 125.6h0.9M194.3 125.1h0.9M192.5 126.4h0.9M197.1 126.3h0.9M197.1 126.2h0.9M189.2 127.2h0.9M190.9 125.8h0.9M203.8 126.4h0.9M198.6 128.2h0.9M189.6 125.1h0.9M212.9 125.7h0.9M189.8 128.7h0.9M201.7 126.4h0.9M169.9 126.5h0.9M187.6 127.9h0.9M171.1 127.2h0.9M218.4 127.0h0.9M188.8 121.7h0.9M191.3 125.5h0.9M184.7 124.1h0.9M214.8 129.5h0.9M182.9 125.1h0.9M186.5 124.5h0.9M202.7 127.8h0.9M210.2 126.8h0.9M201.7 129.6h0.9M204.1 127.4h0.9M173.5 126.4h0.9M193.2 126.9h0.9M214.1 125.6h0.9M218.1 125.0h0.9M219.4 124.6h0.9M197.7 122.6h0.9M180.5 121.8h0.9M205.3 126.2h0.9M164.5 127.5h0.9M189.4 124.2h0.9M192.9 127.2h0.9M196.5 126.9h0.9M205.8 128.8h0.9M179.4 127.8h0.9M178.0 124.9h0.9M175.4 125.2h0.9M213.2 127.3h0.9M219.5 125.5h0.9M216.4 122.0h0.9M206.7 128.9h0.9M207.2 125.6h0.9M189.0 126.7h0.9M225.5 128.8h0.9M196.0 123.2h0.9M212.1 125.2h0.9M211.2 123.7h0.9M182.8 127.4h0.9M202.3 129.0h0.9M200.0 126.3h0.9M206.9 126.3h0.9M186.2 126.7h0.9M217.0 127.4h0.9M204.0 128.7h0.9M205.7 124.8h0.9M193.8 127.7h0.9M223.3 127.2h0.9M186.1 127.0h0.9M198.9 124.2h0.9M202.7 132.1h0.9M187.4 127.8h0.9M212.5 126.5h0.9M172.1 127.6h0.9M191.6 125.5h0.9M202.9 127.0h0.9M212.1 129.5h0.9M185.8 128.6h0.9M197.1 127.4h0.9M218.6 126.5h0.9M190.6 124.1h0.9M222.8 128.0h0.9M205.0 125.7h0.9M220.7 122.6h0.9M212.5 130.9h0.9M220.4 127.8h0.9M205.7 126.6h0.9M195.4 126.9h0.9M193.4 126.7h0.9M189.0 126.9h0.9M205.6 129.7h0.9M198.6 128.0h0.9M194.8 128.8h0.9M189.6 124.3h0.9M179.1 125.3h0.9M195.2 129.9h0.9M203.7 127.2h0.9M179.5 125.6h0.9M191.3 132.7h0.9M217.3 129.3h0.9M179.9 126.0h0.9M193.5 127.1h0.9M178.3 128.0h0.9M196.8 122.9h0.9M192.7 129.2h0.9M208.9 128.3h0.9M176.2 128.6h0.9M201.7 127.2h0.9M180.3 124.2h0.9M217.1 128.2h0.9M214.1 130.1h0.9M191.8 125.7h0.9M178.8 129.6h0.9M201.6 126.6h0.9M191.7 127.2h0.9M231.3 125.7h0.9M174.2 128.8h0.9M197.6 130.8h0.9M203.0 128.4h0.9M175.3 126.2h0.9M191.4 127.0h0.9M206.0 127.1h0.9M193.8 129.8h0.9M209.7 131.1h0.9M190.8 125.3h0.9M173.8 125.0h0.9M197.1 129.9h0.9M216.7 123.2h0.9M221.2 125.7h0.9M224.0 125.3h0.9M220.3 125.7h0.9M224.0 122.4h0.9M224.4 123.2h0.9M226.7 125.0h0.9M224.2 125.0h0.9M224.1 127.6h0.9M215.7 128.6h0.9M222.5 124.6h0.9M223.3 121.8h0.9M216.6 128.5h0.9M220.8 128.5h0.9M223.1 128.3h0.9M225.9 127.4h0.9M222.8 125.1h0.9M224.2 131.0h0.9M220.0 127.7h0.9M222.6 126.9h0.9M227.2 123.9h0.9M231.1 125.4h0.9M214.3 122.6h0.9M221.9 129.9h0.9M223.0 125.2h0.9M232.7 123.6h0.9M222.6 127.7h0.9M224.3 127.3h0.9M217.6 129.7h0.9M222.6 128.0h0.9M218.5 122.8h0.9M229.9 126.5h0.9M220.3 124.7h0.9M220.5 126.5h0.9M221.7 126.5h0.9M222.0 123.7h0.9M223.4 127.8h0.9M218.8 125.5h0.9M222.4 123.5h0.9M222.3 125.3h0.9M225.0 131.4h0.9M221.1 124.1h0.9M223.6 126.4h0.9M220.1 125.7h0.9M220.9 127.8h0.9M220.8 126.9h0.9M224.9 129.4h0.9M224.5 128.6h0.9M229.7 125.8h0.9M228.0 128.5h0.9M217.1 125.1h0.9M225.4 121.1h0.9M216.6 129.5h0.9M223.7 129.1h0.9M227.9 123.8h0.9M208.1 146.1h0.9M216.4 146.2h0.9M224.1 138.6h0.9M208.3 133.2h0.9M227.0 133.2h0.9M198.9 136.2h0.9M200.8 135.0h0.9M220.4 136.5h0.9M225.9 137.6h0.9M226.4 145.0h0.9M205.2 140.6h0.9M219.7 133.9h0.9M197.3 145.8h0.9M196.5 134.2h0.9M200.6 145.3h0.9M218.8 139.7h0.9M213.5 147.4h0.9M203.3 145.1h0.9M206.2 135.5h0.9M220.2 138.0h0.9M216.3 142.8h0.9M197.9 137.6h0.9M210.1 145.0h0.9M223.3 138.4h0.9M198.6 156.4h0.9M192.4 167.5h0.9M218.6 164.6h0.9M221.6 160.9h0.9M211.4 168.3h0.9M214.8 157.4h0.9M200.1 169.8h0.9M207.2 165.8h0.9M195.0 167.1h0.9M197.9 166.7h0.9M199.6 158.7h0.9M169.1 170.6h0.9M213.0 164.6h0.9M203.6 159.9h0.9M202.5 165.2h0.9M217.1 151.8h0.9M185.3 158.5h0.9M224.8 154.3h0.9M216.1 160.3h0.9M215.2 167.0h0.9M201.9 164.4h0.9M179.2 164.5h0.9M197.5 157.9h0.9M226.7 158.9h0.9M187.2 166.8h0.9M203.1 170.9h0.9M204.8 166.1h0.9M209.8 164.2h0.9M194.5 162.4h0.9M220.7 157.8h0.9M207.0 156.7h0.9M213.4 161.4h0.9M204.0 169.9h0.9M175.4 168.0h0.9M182.5 168.7h0.9M174.9 166.3h0.9M186.7 168.4h0.9M221.7 162.8h0.9M216.7 161.3h0.9M173.4 169.7h0.9M206.8 171.1h0.9M225.0 156.2h0.9M177.5 169.8h0.9M222.1 161.5h0.9M221.0 158.8h0.9M220.5 159.1h0.9M218.1 156.8h0.9M201.3 158.7h0.9M208.5 171.1h0.9M224.5 159.0h0.9M186.7 168.6h0.9M215.3 163.5h0.9M203.0 164.6h0.9M203.1 168.4h0.9M201.8 164.9h0.9M211.4 156.8h0.9M211.9 166.1h0.9M204.3 165.4h0.9M194.2 162.2h0.9M205.2 171.0h0.9M196.2 164.6h0.9M183.1 171.1h0.9M196.1 159.2h0.9M188.7 159.2h0.9M201.6 165.2h0.9M199.0 165.7h0.9M199.9 166.4h0.9M174.9 167.2h0.9M229.0 155.5h0.9M202.7 166.0h0.9M203.4 168.0h0.9M184.5 168.1h0.9M189.6 162.4h0.9M222.7 155.7h0.9M201.1 165.1h0.9M215.2 162.9h0.9M186.8 171.2h0.9M181.8 168.7h0.9M190.7 164.6h0.9M196.7 163.2h0.9M185.8 166.5h0.9M169.5 165.8h0.9M211.5 158.6h0.9M184.1 168.2h0.9M208.9 163.4h0.9M219.0 152.2h0.9M204.3 166.5h0.9M210.2 164.4h0.9M179.4 164.7h0.9M215.4 160.9h0.9M205.5 163.6h0.9M188.1 166.6h0.9M205.2 169.1h0.9M209.7 170.6h0.9M189.8 171.6h0.9M174.3 163.5h0.9M213.4 158.4h0.9M183.6 162.6h0.9M217.5 167.9h0.9M196.3 171.8h0.9M203.1 159.0h0.9M193.3 169.5h0.9M197.9 170.3h0.9M201.2 166.4h0.9M172.6 169.2h0.9M195.0 167.0h0.9M222.8 160.9h0.9M207.4 160.6h0.9M193.4 161.2h0.9M203.0 156.7h0.9M194.0 167.3h0.9M192.4 171.9h0.9M180.7 168.3h0.9M213.6 155.3h0.9M197.6 164.9h0.9M218.8 155.6h0.9M199.7 169.3h0.9M190.7 163.5h0.9M209.4 170.9h0.9M201.3 159.2h0.9M214.9 165.9h0.9M209.5 167.9h0.9M216.1 170.2h0.9M204.8 164.6h0.9M189.2 166.6h0.9M185.3 166.8h0.9M212.6 166.0h0.9M217.7 167.1h0.9M183.4 169.8h0.9M207.5 164.6h0.9M217.3 162.2h0.9M175.0 171.9h0.9M193.7 162.2h0.9M217.7 158.2h0.9M197.4 164.0h0.9M218.4 164.4h0.9M221.1 163.2h0.9M202.3 171.1h0.9M226.4 155.4h0.9M186.8 163.9h0.9M214.7 161.9h0.9M219.5 161.0h0.9M174.1 168.4h0.9M227.2 152.8h0.9M215.2 161.9h0.9M217.4 156.1h0.9M181.8 171.4h0.9M188.5 170.0h0.9M202.1 156.0h0.9M189.8 168.3h0.9M204.8 155.7h0.9M187.6 158.1h0.9M195.8 164.9h0.9M190.3 169.7h0.9M218.3 160.7h0.9M205.6 168.0h0.9M181.2 169.8h0.9M209.4 161.6h0.9M206.6 163.5h0.9M195.6 166.6h0.9M212.6 163.4h0.9M182.3 167.2h0.9M208.1 155.9h0.9M219.5 156.0h0.9M227.0 154.7h0.9M217.8 165.2h0.9M220.8 165.5h0.9M186.7 169.0h0.9M200.5 169.6h0.9M183.1 169.2h0.9M193.8 166.3h0.9M196.7 169.9h0.9M221.5 162.1h0.9M221.6 156.6h0.9M199.4 159.6h0.9M206.9 159.4h0.9M196.2 162.4h0.9M222.3 162.4h0.9M226.2 155.8h0.9M184.7 170.5h0.9M188.4 163.3h0.9M207.0 169.4h0.9M190.1 158.2h0.9M207.3 162.8h0.9M190.1 171.4h0.9M214.5 165.3h0.9M215.5 166.3h0.9M223.7 155.3h0.9M226.0 153.6h0.9M190.4 167.0h0.9M212.7 159.3h0.9M217.1 162.7h0.9M186.1 170.8h0.9M191.5 171.3h0.9M203.8 162.2h0.9M208.5 163.2h0.9M207.1 172.1h0.9M202.7 170.4h0.9M216.5 160.5h0.9M222.1 160.4h0.9M188.5 162.8h0.9M214.1 164.3h0.9M213.7 157.4h0.9M174.6 169.0h0.9M178.0 169.8h0.9M171.2 166.2h0.9M206.4 170.5h0.9M215.5 159.2h0.9M225.0 158.4h0.9M213.9 155.5h0.9M212.1 163.1h0.9M194.4 166.3h0.9M210.1 165.9h0.9M202.0 170.4h0.9M222.0 161.9h0.9M185.3 160.3h0.9M206.0 164.2h0.9M192.5 162.3h0.9M203.7 165.0h0.9M220.1 155.1h0.9M198.4 168.9h0.9M226.2 152.1h0.9M176.7 165.3h0.9M196.0 170.7h0.9M211.5 160.5h0.9M195.6 163.1h0.9M226.4 157.8h0.9M180.8 165.2h0.9M199.3 164.0h0.9M192.1 162.3h0.9M185.6 171.6h0.9M223.0 162.9h0.9M190.3 159.1h0.9M177.7 165.6h0.9M195.2 167.5h0.9M180.1 170.4h0.9M198.2 168.9h0.9M214.8 155.8h0.9M214.8 159.5h0.9M176.9 170.3h0.9M191.2 163.0h0.9M222.1 158.5h0.9M189.4 169.6h0.9M217.1 160.0h0.9M177.0 171.2h0.9M198.1 158.9h0.9M202.7 165.1h0.9M199.8 158.8h0.9M205.0 162.5h0.9M215.7 161.7h0.9M201.7 166.2h0.9M188.0 165.0h0.9M172.1 170.8h0.9M198.4 169.9h0.9M209.0 159.7h0.9M209.5 159.1h0.9M176.1 164.1h0.9M199.5 170.4h0.9M226.7 154.6h0.9M207.5 166.4h0.9M195.5 165.3h0.9M221.2 159.0h0.9M219.7 161.2h0.9M222.3 151.4h0.9M217.4 161.2h0.9M183.7 163.7h0.9M183.2 164.7h0.9M207.4 168.3h0.9M168.2 166.7h0.9M194.5 167.1h0.9M215.9 168.0h0.9M226.6 157.4h0.9M210.6 168.9h0.9M196.2 160.9h0.9M182.8 172.1h0.9M181.5 171.9h0.9M223.7 152.2h0.9M214.8 156.3h0.9M213.7 166.1h0.9M184.2 169.1h0.9M228.9 154.8h0.9M228.8 157.4h0.9M205.5 169.0h0.9M179.3 168.2h0.9M206.3 170.5h0.9M175.7 169.9h0.9M203.1 158.4h0.9M197.7 166.1h0.9M178.9 163.4h0.9M220.9 160.6h0.9M214.1 166.9h0.9M212.7 164.9h0.9M191.5 171.8h0.9M207.7 161.3h0.9M182.4 165.3h0.9M170.7 169.9h0.9M212.1 170.2h0.9M212.5 162.6h0.9M210.4 170.4h0.9M192.0 166.9h0.9M209.5 158.9h0.9M189.1 163.6h0.9M174.2 170.8h0.9M220.6 160.8h0.9M226.3 155.6h0.9M215.2 164.4h0.9M188.0 167.4h0.9M197.1 161.4h0.9M207.8 170.0h0.9M212.6 154.4h0.9M197.1 165.4h0.9M193.7 163.3h0.9M224.9 157.9h0.9M183.3 167.2h0.9M188.2 171.5h0.9M207.5 159.4h0.9M186.8 167.7h0.9M203.3 167.2h0.9M222.3 164.7h0.9M220.8 163.5h0.9M215.1 157.7h0.9M192.4 163.2h0.9M221.0 158.5h0.9M186.1 161.7h0.9M188.6 160.4h0.9M213.2 158.9h0.9M204.0 171.7h0.9M172.8 162.7h0.9M221.4 155.7h0.9M208.4 160.5h0.9M171.4 167.7h0.9M174.0 169.4h0.9M192.2 168.1h0.9M222.3 161.2h0.9M199.2 164.3h0.9M207.0 162.7h0.9M215.7 157.2h0.9M211.4 170.1h0.9M195.6 160.0h0.9M209.9 161.5h0.9M220.6 153.4h0.9M204.6 161.0h0.9M214.0 166.8h0.9M184.3 172.0h0.9M207.1 158.5h0.9M189.2 171.1h0.9M217.3 159.1h0.9M216.1 158.2h0.9M208.1 171.1h0.9M227.6 159.6h0.9M211.5 163.6h0.9M203.5 169.8h0.9M220.3 154.4h0.9M192.1 169.4h0.9M214.7 159.0h0.9M212.1 166.1h0.9M186.1 168.8h0.9M213.2 168.2h0.9M228.4 156.9h0.9M211.6 161.5h0.9M230.5 154.0h0.9M221.0 156.0h0.9M208.7 163.9h0.9M214.1 155.4h0.9M206.6 166.4h0.9M177.2 167.7h0.9M204.6 155.2h0.9M210.0 166.2h0.9M209.7 163.8h0.9M212.1 166.7h0.9M211.6 161.3h0.9M192.2 164.2h0.9M176.3 166.1h0.9M200.9 163.1h0.9M227.0 155.0h0.9M175.0 165.1h0.9M178.7 165.0h0.9M208.6 168.5h0.9M202.5 159.9h0.9M205.9 164.5h0.9M189.5 168.2h0.9M195.4 162.6h0.9M207.1 160.2h0.9M197.4 163.7h0.9M219.2 162.4h0.9M201.7 169.5h0.9M221.2 158.9h0.9M185.4 164.5h0.9M228.2 150.7h0.9M209.9 159.6h0.9M228.7 155.7h0.9M200.5 169.1h0.9M220.1 159.9h0.9M200.3 163.7h0.9M222.5 154.7h0.9M195.6 167.0h0.9M197.9 165.1h0.9M220.6 153.9h0.9M225.5 155.2h0.9M209.7 171.0h0.9M217.7 161.3h0.9M187.9 167.4h0.9M207.9 159.0h0.9M200.9 163.1h0.9M203.6 167.9h0.9M200.9 164.1h0.9M222.1 159.9h0.9M175.6 166.2h0.9M209.2 170.2h0.9M211.3 166.9h0.9M198.1 162.2h0.9M224.9 160.7h0.9M201.6 165.4h0.9M218.0 157.7h0.9M216.3 159.7h0.9M197.7 160.7h0.9M205.0 170.3h0.9M179.4 169.2h0.9M182.4 159.4h0.9M208.6 164.2h0.9M225.6 157.1h0.9M193.9 167.1h0.9M178.5 160.2h0.9M180.9 163.6h0.9M217.0 157.6h0.9M177.2 165.9h0.9M206.1 162.5h0.9M190.4 165.7h0.9M196.7 161.6h0.9M185.9 166.1h0.9M188.6 163.3h0.9M229.2 156.4h0.9M206.9 167.7h0.9M208.7 166.5h0.9M217.2 162.3h0.9M187.6 162.9h0.9M210.6 159.7h0.9M191.6 161.7h0.9M180.9 169.2h0.9M186.5 163.1h0.9M188.2 167.5h0.9M208.7 163.6h0.9M172.9 166.8h0.9M212.8 171.0h0.9M178.2 170.7h0.9M184.3 161.2h0.9M196.1 161.3h0.9M223.5 160.6h0.9M223.7 159.5h0.9M210.9 168.3h0.9M196.9 160.3h0.9M192.9 165.4h0.9M196.4 159.5h0.9M183.4 169.0h0.9M188.6 171.2h0.9M199.2 170.1h0.9M210.8 157.1h0.9M174.5 167.0h0.9M198.3 164.8h0.9M199.3 169.9h0.9M203.8 169.5h0.9M183.8 167.4h0.9M220.1 163.9h0.9M206.2 161.1h0.9M216.3 167.2h0.9M211.0 164.4h0.9M213.7 161.7h0.9M222.8 158.2h0.9M207.7 161.6h0.9M177.4 169.9h0.9M221.2 161.6h0.9M218.1 162.1h0.9M205.6 162.2h0.9M216.1 166.0h0.9M177.7 167.5h0.9M217.4 158.2h0.9M194.2 161.8h0.9M206.7 169.4h0.9M172.1 164.8h0.9M201.1 159.5h0.9M229.3 151.6h0.9M189.2 166.1h0.9M216.1 162.9h0.9M177.6 166.8h0.9M220.8 155.8h0.9M170.3 171.6h0.9M173.2 163.9h0.9M218.8 158.1h0.9M182.4 171.4h0.9M188.8 168.8h0.9M205.1 167.6h0.9M196.7 171.6h0.9M179.7 168.3h0.9M219.0 158.2h0.9M205.9 164.3h0.9M214.4 162.2h0.9M216.2 164.3h0.9M213.0 158.2h0.9M212.6 162.4h0.9M206.4 167.6h0.9M215.2 165.6h0.9M213.6 166.8h0.9M206.7 157.5h0.9M222.6 158.2h0.9M223.3 155.6h0.9M220.1 158.4h0.9M222.6 157.9h0.9M221.8 153.3h0.9M217.4 159.1h0.9M223.4 156.9h0.9M226.1 156.1h0.9M217.8 159.6h0.9M216.2 159.8h0.9M220.7 153.9h0.9M220.7 160.9h0.9M216.4 161.7h0.9M222.8 157.7h0.9M216.4 162.1h0.9M221.3 157.1h0.9M224.7 151.4h0.9M220.5 157.4h0.9M217.6 159.7h0.9M219.0 160.9h0.9M223.1 158.7h0.9M214.3 159.8h0.9M214.7 160.1h0.9M225.6 158.0h0.9M222.6 155.9h0.9M220.0 158.9h0.9M217.9 155.7h0.9M217.9 155.6h0.9M222.3 154.5h0.9M219.8 160.4h0.9M218.4 158.8h0.9M221.0 153.4h0.9M222.7 156.8h0.9M224.0 156.0h0.9M216.5 158.5h0.9M221.0 156.0h0.9M224.2 158.0h0.9M225.1 154.2h0.9M217.2 160.9h0.9M226.8 158.5h0.9M220.8 154.4h0.9M212.5 158.7h0.9M223.0 156.4h0.9M222.2 155.6h0.9M211.8 160.3h0.9M221.0 155.6h0.9M221.4 160.9h0.9M223.9 156.3h0.9M217.0 157.6h0.9M223.3 153.4h0.9M227.3 153.3h0.9M221.6 156.1h0.9M226.5 153.0h0.9M220.7 158.9h0.9M220.6 159.3h0.9M225.0 152.8h0.9M222.2 156.6h0.9M222.3 154.2h0.9M222.1 158.0h0.9M219.8 159.6h0.9M221.3 156.8h0.9M222.4 155.9h0.9M218.7 156.7h0.9M218.5 157.4h0.9M223.6 157.1h0.9M223.6 159.5h0.9M221.6 157.8h0.9M217.6 161.5h0.9M221.4 153.0h0.9M216.0 157.9h0.9M221.7 158.2h0.9M188.5 151.4h0.9M214.2 153.6h0.9M219.1 154.0h0.9M208.3 153.6h0.9M220.7 150.7h0.9M190.8 155.9h0.9M202.8 152.6h0.9M219.6 154.7h0.9M228.1 151.2h0.9M216.8 152.4h0.9M179.7 171.6h0.9M202.7 171.6h0.9M207.6 171.6h0.9M191.2 171.6h0.9M189.0 171.6h0.9M188.9 171.6h0.9M207.6 171.6h0.9M205.2 171.6h0.9M209.5 171.6h0.9M186.7 171.6h0.9M187.7 171.6h0.9M182.9 171.6h0.9M212.8 171.6h0.9M182.7 171.6h0.9M178.8 171.6h0.9M178.0 171.6h0.9M173.0 171.6h0.9M188.2 171.6h0.9M209.9 171.6h0.9M213.8 171.6h0.9M209.0 171.6h0.9M183.2 171.6h0.9M214.3 171.6h0.9M173.2 171.6h0.9M192.5 171.6h0.9M172.8 171.6h0.9M192.8 171.6h0.9M178.9 171.6h0.9M202.7 171.6h0.9M183.5 171.6h0.9" stroke="#000" stroke-width="0.9" fill="none"/>
<path d="M153.8 108.5H244.5V172.5" stroke="#000" stroke-width="1.1" fill="none"/>
<path d="M154.4 108V173.2" stroke="#000" stroke-width="1.5" fill="none"/>
<path d="M154.3 172.5H245" stroke="#000" stroke-width="1.5" fill="none"/>
<path d="M183.5 108.5V172.5M154.3 149.5H244.4" stroke="#000" stroke-width="1" fill="none"/>
<path d="M161.08 172.5v2.3M165.05 172.5v2.3M167.86 172.5v2.3M170.04 172.5v2.3M171.83 172.5v2.3M173.34 172.5v2.3M174.64 172.5v2.3M175.79 172.5v2.3M183.61 172.5v2.3M187.57 172.5v2.3M190.39 172.5v2.3M192.57 172.5v2.3M194.35 172.5v2.3M195.86 172.5v2.3M197.17 172.5v2.3M198.32 172.5v2.3M206.13 172.5v2.3M210.1 172.5v2.3M212.91 172.5v2.3M215.09 172.5v2.3M216.88 172.5v2.3M218.39 172.5v2.3M219.69 172.5v2.3M220.84 172.5v2.3M228.66 172.5v2.3M232.62 172.5v2.3M235.44 172.5v2.3M237.62 172.5v2.3M239.4 172.5v2.3M240.91 172.5v2.3M242.22 172.5v2.3M243.37 172.5v2.3" stroke="#000" stroke-width="0.95" fill="none"/>
<path d="M154.3 172.5v3.9M176.83 172.5v3.9M199.35 172.5v3.9M221.88 172.5v3.9M244.4 172.5v3.9" stroke="#000" stroke-width="1.25" fill="none"/>
<path d="M154.3 167.68h-2.3M154.3 164.87h-2.3M154.3 162.87h-2.3M154.3 161.32h-2.3M154.3 160.05h-2.3M154.3 158.98h-2.3M154.3 158.05h-2.3M154.3 157.23h-2.3M154.3 151.68h-2.3M154.3 148.87h-2.3M154.3 146.87h-2.3M154.3 145.32h-2.3M154.3 144.05h-2.3M154.3 142.98h-2.3M154.3 142.05h-2.3M154.3 141.23h-2.3M154.3 135.68h-2.3M154.3 132.87h-2.3M154.3 130.87h-2.3M154.3 129.32h-2.3M154.3 128.05h-2.3M154.3 126.98h-2.3M154.3 126.05h-2.3M154.3 125.23h-2.3M154.3 119.68h-2.3M154.3 116.87h-2.3M154.3 114.87h-2.3M154.3 113.32h-2.3M154.3 112.05h-2.3M154.3 110.98h-2.3M154.3 110.05h-2.3M154.3 109.23h-2.3" stroke="#000" stroke-width="0.95" fill="none"/>
<path d="M154.3 172.5h-4M154.3 156.5h-4M154.3 140.5h-4M154.3 124.5h-4M154.3 108.5h-4" stroke="#000" stroke-width="1.25" fill="none"/>
<text x="157" y="186" class="tk" font-size="9" text-anchor="end" textLength="7.56" lengthAdjust="spacingAndGlyphs">10</text>
<text x="157" y="181.77" class="te" font-size="7.47" textLength="3.51" lengthAdjust="spacingAndGlyphs">0</text>
<text x="179.2" y="186" class="tk" font-size="9" text-anchor="end" textLength="7.56" lengthAdjust="spacingAndGlyphs">10</text>
<text x="179.2" y="181.77" class="te" font-size="7.47" textLength="3.51" lengthAdjust="spacingAndGlyphs">1</text>
<text x="201.4" y="186" class="tk" font-size="9" text-anchor="end" textLength="7.56" lengthAdjust="spacingAndGlyphs">10</text>
<text x="201.4" y="181.77" class="te" font-size="7.47" textLength="3.51" lengthAdjust="spacingAndGlyphs">2</text>
<text x="223.6" y="186" class="tk" font-size="9" text-anchor="end" textLength="7.56" lengthAdjust="spacingAndGlyphs">10</text>
<text x="223.6" y="181.77" class="te" font-size="7.47" textLength="3.51" lengthAdjust="spacingAndGlyphs">3</text>
<text x="245.8" y="186" class="tk" font-size="9" text-anchor="end" textLength="7.56" lengthAdjust="spacingAndGlyphs">10</text>
<text x="245.8" y="181.77" class="te" font-size="7.47" textLength="3.51" lengthAdjust="spacingAndGlyphs">4</text>
<g transform="translate(147.5 172.5) rotate(-90)">
<text x="1.6" y="0" class="tk" font-size="9" text-anchor="end" textLength="7.56" lengthAdjust="spacingAndGlyphs">10</text>
<text x="3.1" y="-5.13" class="te" font-size="7.47" textLength="3.51" lengthAdjust="spacingAndGlyphs">0</text>
</g>
<g transform="translate(147.5 156.7) rotate(-90)">
<text x="1.6" y="0" class="tk" font-size="9" text-anchor="end" textLength="7.56" lengthAdjust="spacingAndGlyphs">10</text>
<text x="3.1" y="-5.13" class="te" font-size="7.47" textLength="3.51" lengthAdjust="spacingAndGlyphs">1</text>
</g>
<g transform="translate(147.5 140.9) rotate(-90)">
<text x="1.6" y="0" class="tk" font-size="9" text-anchor="end" textLength="7.56" lengthAdjust="spacingAndGlyphs">10</text>
<text x="3.1" y="-5.13" class="te" font-size="7.47" textLength="3.51" lengthAdjust="spacingAndGlyphs">2</text>
</g>
<g transform="translate(147.5 125.1) rotate(-90)">
<text x="1.6" y="0" class="tk" font-size="9" text-anchor="end" textLength="7.56" lengthAdjust="spacingAndGlyphs">10</text>
<text x="3.1" y="-5.13" class="te" font-size="7.47" textLength="3.51" lengthAdjust="spacingAndGlyphs">3</text>
</g>
<g transform="translate(147.5 109.3) rotate(-90)">
<text x="1.6" y="0" class="tk" font-size="9" text-anchor="end" textLength="7.56" lengthAdjust="spacingAndGlyphs">10</text>
<text x="3.1" y="-5.13" class="te" font-size="7.47" textLength="3.51" lengthAdjust="spacingAndGlyphs">4</text>
</g>
<path d="M206.8 211.8h0.9M194.2 212.9h0.9M186.0 212.5h0.9M188.5 213.1h0.9M194.6 214.5h0.9M193.4 214.6h0.9M194.8 213.3h0.9M190.2 211.9h0.9M181.0 213.0h0.9M190.5 213.5h0.9M193.9 211.6h0.9M186.8 211.7h0.9M198.3 213.0h0.9M192.4 212.0h0.9M183.0 212.4h0.9M190.9 213.7h0.9M181.3 213.5h0.9M185.8 212.5h0.9M189.3 212.6h0.9M194.6 214.2h0.9M193.8 212.4h0.9M194.3 213.6h0.9M197.3 213.4h0.9M180.7 212.2h0.9M188.8 214.2h0.9M190.6 214.2h0.9M193.5 211.6h0.9M191.8 213.8h0.9M194.2 211.3h0.9M194.4 212.4h0.9M177.4 212.4h0.9M178.3 211.5h0.9M201.2 216.1h0.9M198.6 213.6h0.9M204.3 213.5h0.9M184.9 210.1h0.9M197.6 210.3h0.9M172.3 212.3h0.9M192.0 212.0h0.9M198.5 213.0h0.9M192.9 213.7h0.9M187.6 213.4h0.9M207.2 212.0h0.9M192.7 213.8h0.9M187.9 213.1h0.9M180.0 212.6h0.9M191.9 214.5h0.9M198.0 212.4h0.9M184.1 215.4h0.9M197.6 210.8h0.9M189.3 212.0h0.9M187.5 211.0h0.9M188.8 212.5h0.9M190.0 214.4h0.9M193.2 211.6h0.9M179.9 212.5h0.9M199.5 214.3h0.9M187.7 214.6h0.9M194.6 212.4h0.9M194.6 213.0h0.9M184.1 212.6h0.9M192.8 214.8h0.9M184.7 213.4h0.9M191.9 213.1h0.9M183.4 214.7h0.9M200.6 215.2h0.9M195.0 215.0h0.9M195.4 214.4h0.9M189.5 213.4h0.9M189.6 211.8h0.9M188.8 211.8h0.9M184.2 212.7h0.9M187.7 215.8h0.9M203.9 214.5h0.9M197.2 212.1h0.9M193.7 211.4h0.9M187.5 212.6h0.9M189.3 214.2h0.9M186.5 216.2h0.9M188.3 214.2h0.9M181.0 214.3h0.9M183.4 213.4h0.9M191.8 214.2h0.9M196.0 213.7h0.9M190.8 215.6h0.9M188.7 213.2h0.9M188.6 213.3h0.9M185.3 212.7h0.9M195.3 212.4h0.9M195.0 212.4h0.9M201.6 213.0h0.9M203.9 213.8h0.9M191.0 214.4h0.9M199.8 215.1h0.9M201.4 214.3h0.9M183.9 214.3h0.9M191.3 213.7h0.9M200.5 212.3h0.9M201.0 216.2h0.9M195.7 212.8h0.9M201.3 213.4h0.9M199.1 214.8h0.9M181.5 213.6h0.9M181.4 212.3h0.9M196.0 211.7h0.9M186.9 212.6h0.9M194.0 213.6h0.9M194.9 212.5h0.9M186.7 213.7h0.9M185.9 212.1h0.9M196.6 212.2h0.9M185.6 214.6h0.9M191.5 210.4h0.9M186.6 215.6h0.9M211.2 212.8h0.9M196.6 214.1h0.9M193.9 210.9h0.9M198.6 213.5h0.9M190.1 211.1h0.9M187.4 213.0h0.9M190.0 213.4h0.9M189.1 214.4h0.9M196.0 211.7h0.9M187.6 213.7h0.9M188.0 214.9h0.9M188.1 213.5h0.9M195.9 211.7h0.9M200.3 212.9h0.9M186.9 212.3h0.9M180.2 211.4h0.9M201.9 213.0h0.9M189.8 213.4h0.9M195.6 212.1h0.9M190.3 213.5h0.9M198.6 213.5h0.9M203.0 212.9h0.9M189.4 211.4h0.9M191.4 214.0h0.9M190.0 212.9h0.9M185.0 212.4h0.9M188.7 213.0h0.9M199.0 213.8h0.9M197.9 214.6h0.9M188.5 214.8h0.9M192.0 211.5h0.9M187.6 213.0h0.9M181.2 216.0h0.9M191.4 214.2h0.9M183.5 213.3h0.9M193.4 212.2h0.9M193.4 213.1h0.9M194.2 211.6h0.9M195.2 212.8h0.9M185.9 210.4h0.9M190.3 212.7h0.9M207.8 211.6h0.9M201.8 214.7h0.9M194.5 213.4h0.9M195.1 211.3h0.9M201.3 212.7h0.9M186.6 213.1h0.9M172.9 211.5h0.9M183.6 211.2h0.9M195.6 215.1h0.9M191.7 212.7h0.9M193.8 212.5h0.9M192.5 213.6h0.9M190.0 212.6h0.9M192.1 213.2h0.9M196.2 211.2h0.9M184.0 212.5h0.9M194.9 211.5h0.9M199.8 214.9h0.9M186.5 214.5h0.9M177.3 213.0h0.9M180.6 214.5h0.9M197.3 213.7h0.9M187.5 211.7h0.9M194.3 212.5h0.9M196.0 211.1h0.9M194.3 213.7h0.9M175.9 211.5h0.9M186.6 212.3h0.9M179.6 213.1h0.9M183.6 213.0h0.9M178.9 211.6h0.9M196.0 210.9h0.9M191.1 214.9h0.9M196.8 211.4h0.9M206.4 212.4h0.9M197.6 214.3h0.9M189.1 213.9h0.9M172.5 213.2h0.9M192.4 212.6h0.9M192.1 214.4h0.9M197.7 212.3h0.9M196.6 214.5h0.9M192.0 213.5h0.9M174.6 211.1h0.9M193.8 211.2h0.9M197.0 214.5h0.9M184.5 211.6h0.9M189.9 213.3h0.9M196.8 212.8h0.9M191.4 211.8h0.9M193.1 212.1h0.9M198.0 213.9h0.9M180.0 213.5h0.9M183.7 214.3h0.9M184.1 214.6h0.9M198.4 215.5h0.9M193.4 213.1h0.9M199.4 211.5h0.9M190.9 212.6h0.9M190.7 211.1h0.9M179.7 210.9h0.9M201.1 212.6h0.9M195.4 212.9h0.9M189.5 214.7h0.9M175.4 212.8h0.9M185.8 211.9h0.9M180.1 211.1h0.9M183.0 214.4h0.9M186.4 212.5h0.9M189.9 213.8h0.9M198.1 213.3h0.9M191.1 213.7h0.9M185.7 213.3h0.9M202.6 212.2h0.9M185.3 211.1h0.9M191.5 213.8h0.9M188.2 212.6h0.9M199.1 213.1h0.9M195.9 212.6h0.9M199.9 214.2h0.9M190.2 212.3h0.9M208.4 211.7h0.9M184.6 209.9h0.9M195.8 213.1h0.9M190.6 211.1h0.9M191.3 212.1h0.9M183.3 212.8h0.9M193.3 212.9h0.9M187.8 214.0h0.9M192.9 212.6h0.9M195.1 213.4h0.9M197.4 214.1h0.9M196.2 212.3h0.9M200.1 214.3h0.9M187.6 214.6h0.9M191.9 211.8h0.9M191.0 211.5h0.9M198.9 211.5h0.9M201.2 212.0h0.9M190.4 214.7h0.9M193.7 211.0h0.9M190.4 210.8h0.9M195.8 211.8h0.9M190.7 212.9h0.9M181.2 213.5h0.9M203.3 211.9h0.9M187.4 213.5h0.9M199.5 212.0h0.9M192.7 213.5h0.9M198.4 212.1h0.9M207.9 215.6h0.9M182.2 212.1h0.9M193.8 212.3h0.9M187.9 213.1h0.9M186.5 212.3h0.9M192.8 212.6h0.9M193.9 214.4h0.9M198.9 213.2h0.9M205.3 212.6h0.9M197.5 215.3h0.9M192.8 214.1h0.9M188.3 212.4h0.9M192.9 213.7h0.9M194.0 213.9h0.9M193.7 213.0h0.9M187.5 213.0h0.9M191.9 213.1h0.9M184.3 214.7h0.9M198.9 213.4h0.9M188.4 214.5h0.9M190.1 212.8h0.9M195.6 212.5h0.9M192.5 212.5h0.9M195.7 213.7h0.9M196.4 213.7h0.9M193.8 213.6h0.9M197.0 212.0h0.9M183.9 213.2h0.9M192.8 212.8h0.9M201.7 213.7h0.9M200.1 213.3h0.9M182.6 211.5h0.9M198.9 213.2h0.9M188.5 214.7h0.9M203.1 213.6h0.9M200.3 212.8h0.9M185.5 211.1h0.9M199.0 211.3h0.9M189.1 213.2h0.9M195.6 210.9h0.9M190.2 212.2h0.9M201.4 212.9h0.9M187.4 215.2h0.9M192.8 214.1h0.9M193.9 213.0h0.9M196.7 212.3h0.9M182.6 212.4h0.9M195.9 212.7h0.9M198.8 214.0h0.9M193.2 214.5h0.9M194.3 213.5h0.9M190.0 213.0h0.9M191.3 214.4h0.9M202.2 214.5h0.9M193.4 213.0h0.9M193.5 212.5h0.9M191.7 212.8h0.9M191.6 210.3h0.9M191.8 213.9h0.9M184.7 215.3h0.9M192.7 212.5h0.9M201.1 212.0h0.9M209.6 212.3h0.9M198.0 214.9h0.9M196.4 213.3h0.9M187.2 213.0h0.9M193.3 214.4h0.9M177.3 213.9h0.9M184.4 212.4h0.9M191.2 212.4h0.9M195.8 211.2h0.9M194.9 211.9h0.9M189.4 213.1h0.9M182.6 213.7h0.9M205.8 212.4h0.9M185.9 215.0h0.9M202.7 210.7h0.9M189.4 212.2h0.9M192.9 213.0h0.9M185.1 212.6h0.9M199.0 212.0h0.9M193.2 213.9h0.9M203.1 213.7h0.9M193.4 212.0h0.9M193.4 214.8h0.9M194.8 214.6h0.9M188.7 214.1h0.9M190.1 212.3h0.9M187.7 214.6h0.9M195.6 212.9h0.9M190.1 214.1h0.9M188.9 214.5h0.9M193.8 212.5h0.9M190.6 211.9h0.9M184.8 212.6h0.9M188.6 212.7h0.9M186.9 212.4h0.9M193.9 211.6h0.9M175.2 215.2h0.9M192.5 213.4h0.9M199.4 214.5h0.9M201.3 214.3h0.9M196.9 213.8h0.9M191.0 213.0h0.9M168.3 215.2h0.9M191.1 212.0h0.9M199.4 212.3h0.9M194.3 212.1h0.9M184.2 214.5h0.9M192.7 211.3h0.9M196.2 214.3h0.9M189.9 214.0h0.9M200.4 214.6h0.9M196.0 214.1h0.9M202.5 213.4h0.9M190.1 212.8h0.9M213.1 211.9h0.9M192.0 210.9h0.9M191.6 212.9h0.9M191.3 214.1h0.9M201.6 213.4h0.9M186.6 212.6h0.9M191.9 212.3h0.9M191.4 213.8h0.9M193.2 215.6h0.9M180.9 213.3h0.9M198.8 211.8h0.9M180.6 215.7h0.9M198.1 213.8h0.9M199.7 211.9h0.9M184.3 215.1h0.9M192.5 211.2h0.9M190.9 215.1h0.9M184.7 211.2h0.9M176.4 213.0h0.9M191.1 212.4h0.9M188.0 212.8h0.9M187.5 212.5h0.9M198.2 213.2h0.9M195.2 210.9h0.9M185.7 214.4h0.9M192.7 214.4h0.9M182.1 213.9h0.9M188.0 213.2h0.9M187.1 212.0h0.9M184.7 213.0h0.9M198.6 211.8h0.9M187.8 211.9h0.9M186.1 214.0h0.9M188.8 212.0h0.9M196.4 213.6h0.9M194.0 213.3h0.9M187.8 214.1h0.9M187.6 213.4h0.9M192.8 214.6h0.9M190.7 214.1h0.9M180.5 213.3h0.9M193.0 213.3h0.9M178.4 214.1h0.9M187.6 212.3h0.9M202.1 212.9h0.9M198.0 211.1h0.9M196.3 213.4h0.9M193.7 212.0h0.9M194.1 212.9h0.9M200.8 212.5h0.9M181.1 214.4h0.9M184.6 212.9h0.9M196.8 215.2h0.9M195.5 214.0h0.9M193.0 213.3h0.9M191.4 213.6h0.9M185.8 213.4h0.9M199.5 213.4h0.9M190.9 214.1h0.9M186.1 212.9h0.9M206.8 214.2h0.9M196.9 213.0h0.9M187.1 211.8h0.9M192.1 214.8h0.9M191.5 214.2h0.9M190.0 213.3h0.9M194.4 216.8h0.9M192.8 212.1h0.9M198.1 213.2h0.9M195.6 212.3h0.9M197.9 212.4h0.9M194.6 212.7h0.9M187.1 213.9h0.9M194.7 210.7h0.9M196.6 214.2h0.9M193.2 213.6h0.9M193.8 213.6h0.9M189.7 214.5h0.9M200.2 212.2h0.9M190.7 211.4h0.9M185.1 215.4h0.9M190.2 213.8h0.9M186.0 218.4h0.9M202.4 214.2h0.9M192.1 217.1h0.9M202.8 214.0h0.9M188.1 211.0h0.9M204.3 217.0h0.9M215.0 214.0h0.9M199.5 209.2h0.9M197.0 211.8h0.9M181.3 211.6h0.9M180.7 212.3h0.9M195.8 211.9h0.9M186.2 213.1h0.9M211.3 215.0h0.9M183.4 215.1h0.9M207.5 213.1h0.9M197.7 215.7h0.9M175.1 213.7h0.9M188.7 215.1h0.9M203.9 212.4h0.9M174.0 212.3h0.9M190.1 212.0h0.9M192.6 210.9h0.9M195.6 215.0h0.9M211.2 213.2h0.9M200.6 211.9h0.9M182.8 211.7h0.9M188.7 210.7h0.9M171.1 218.1h0.9M186.8 213.4h0.9M191.9 212.5h0.9M187.7 215.8h0.9M192.9 215.7h0.9M177.4 214.4h0.9M180.3 210.7h0.9M197.7 213.9h0.9M197.4 214.7h0.9M169.3 214.5h0.9M210.0 213.8h0.9M200.1 216.4h0.9M208.7 208.2h0.9M186.7 213.1h0.9M187.3 215.7h0.9M176.8 208.3h0.9M192.8 212.8h0.9M201.0 215.7h0.9M193.9 216.2h0.9M176.2 213.2h0.9M175.9 217.3h0.9M187.2 215.4h0.9M194.8 214.9h0.9M200.5 215.7h0.9M198.1 213.6h0.9M197.7 209.4h0.9M180.4 216.4h0.9M195.9 210.4h0.9M176.7 210.9h0.9M185.8 215.2h0.9M189.7 215.0h0.9M176.4 213.2h0.9M191.7 214.3h0.9M197.5 213.6h0.9M198.5 215.9h0.9M195.1 210.9h0.9M182.9 211.6h0.9M206.3 215.0h0.9M190.6 212.2h0.9M211.8 216.8h0.9M213.3 212.0h0.9M211.0 214.9h0.9M206.9 212.1h0.9M216.4 215.3h0.9M216.2 212.7h0.9M217.1 217.2h0.9M210.8 211.5h0.9M212.6 213.6h0.9M212.0 211.9h0.9M205.4 215.4h0.9M210.0 213.5h0.9M212.0 215.0h0.9M209.3 210.8h0.9M214.3 213.5h0.9M212.1 214.3h0.9M212.1 212.6h0.9M209.5 213.3h0.9M217.5 213.0h0.9M213.7 215.6h0.9M212.4 211.9h0.9M214.3 217.2h0.9M212.5 213.2h0.9M215.2 212.4h0.9M212.6 216.3h0.9M207.4 214.5h0.9M217.5 216.2h0.9M214.9 214.5h0.9M211.8 209.5h0.9M214.8 213.8h0.9M215.6 216.4h0.9M223.6 214.6h0.9M220.5 213.9h0.9M215.3 211.2h0.9M215.0 212.0h0.9M214.8 210.3h0.9M218.2 210.0h0.9M215.8 208.7h0.9M214.0 214.0h0.9M217.2 216.9h0.9M209.4 213.1h0.9M213.1 213.5h0.9M218.6 212.0h0.9M210.0 212.0h0.9M217.4 211.6h0.9M206.5 233.2h0.9M191.6 233.7h0.9M209.7 224.3h0.9M191.6 227.8h0.9M197.2 218.0h0.9M217.3 232.2h0.9M220.2 232.5h0.9M201.4 235.4h0.9M195.1 222.9h0.9M203.8 230.9h0.9M189.8 219.1h0.9M221.4 218.3h0.9M214.2 226.9h0.9M222.5 234.3h0.9M191.0 259.2h0.9M209.0 258.6h0.9M175.1 252.1h0.9M190.5 254.1h0.9M188.7 249.9h0.9M203.1 252.5h0.9M191.0 255.7h0.9M174.6 255.7h0.9M219.8 250.5h0.9M197.5 251.3h0.9M218.2 250.9h0.9M208.9 257.5h0.9M204.7 245.8h0.9M212.7 251.8h0.9M188.5 256.1h0.9M179.1 258.9h0.9M220.1 252.1h0.9M202.6 258.5h0.9M181.7 254.5h0.9M185.9 258.6h0.9M222.2 249.2h0.9M186.0 260.1h0.9M206.3 258.1h0.9M205.2 250.8h0.9M194.3 255.5h0.9M174.4 258.2h0.9M184.0 260.0h0.9M206.5 257.9h0.9M211.7 259.5h0.9M187.3 257.2h0.9M201.9 260.0h0.9M170.9 259.2h0.9M171.1 253.6h0.9M180.8 250.6h0.9M176.4 254.9h0.9M202.4 254.9h0.9M210.4 249.4h0.9M196.2 253.7h0.9M222.2 251.9h0.9M195.7 255.8h0.9M213.0 251.4h0.9M182.2 252.6h0.9M212.1 257.3h0.9M206.7 253.4h0.9M200.6 255.7h0.9M193.2 259.7h0.9M189.9 259.1h0.9M185.8 259.4h0.9M209.2 251.2h0.9M208.7 253.6h0.9M205.0 249.6h0.9M218.4 246.3h0.9M173.9 254.4h0.9M206.1 254.4h0.9M180.9 256.1h0.9M208.4 246.5h0.9M196.2 249.4h0.9M182.6 257.4h0.9M176.2 255.8h0.9M184.9 255.2h0.9M222.9 250.4h0.9M212.1 254.8h0.9M203.3 251.9h0.9M198.9 255.9h0.9M171.7 256.6h0.9M180.6 253.5h0.9M199.4 256.0h0.9M193.1 256.6h0.9M191.6 251.0h0.9M197.5 250.8h0.9M217.4 249.0h0.9M189.3 249.5h0.9M199.9 255.9h0.9M193.5 256.5h0.9M189.9 255.5h0.9M186.8 258.4h0.9M184.2 259.2h0.9M204.7 257.6h0.9M173.4 259.5h0.9M214.3 253.6h0.9M178.0 260.5h0.9M199.6 258.1h0.9M189.6 257.3h0.9M178.0 255.6h0.9M212.3 252.1h0.9M219.4 252.1h0.9M176.0 253.4h0.9M197.6 252.4h0.9M182.4 259.9h0.9M197.7 253.0h0.9M178.6 256.8h0.9M194.0 260.3h0.9M173.6 256.3h0.9M199.1 252.6h0.9M213.1 256.1h0.9M197.1 257.9h0.9M212.1 259.4h0.9M203.4 259.7h0.9M206.6 259.5h0.9M182.2 254.7h0.9M222.2 246.9h0.9M194.5 254.7h0.9M192.0 259.0h0.9M190.0 258.5h0.9M173.7 260.2h0.9M181.5 255.2h0.9M209.1 256.8h0.9M184.3 257.5h0.9M206.5 257.4h0.9M212.7 255.2h0.9M186.6 252.5h0.9M208.9 251.1h0.9M186.4 255.6h0.9M218.9 253.8h0.9M188.0 252.0h0.9M210.7 258.2h0.9M212.7 252.8h0.9M208.0 257.3h0.9M218.8 251.5h0.9M210.4 257.7h0.9M182.4 253.7h0.9M215.1 256.6h0.9M179.6 252.5h0.9M179.6 251.4h0.9M198.5 258.1h0.9M176.4 255.8h0.9M206.5 258.8h0.9M188.6 256.0h0.9M195.4 257.1h0.9M193.6 257.2h0.9M178.7 255.2h0.9M196.8 255.0h0.9M205.4 255.7h0.9M215.5 253.7h0.9M210.5 253.3h0.9M192.1 257.0h0.9M199.9 246.1h0.9M218.3 249.0h0.9M171.4 253.4h0.9M174.2 254.6h0.9M194.5 258.2h0.9M198.7 258.4h0.9M197.8 256.0h0.9M183.4 256.0h0.9M218.4 246.1h0.9M212.7 258.0h0.9M208.1 259.3h0.9M204.0 255.8h0.9M180.1 257.4h0.9M209.5 252.5h0.9M183.1 255.4h0.9M213.2 254.0h0.9M221.4 254.6h0.9M176.9 259.5h0.9M193.4 252.8h0.9M181.6 259.4h0.9M181.2 259.8h0.9M201.0 253.2h0.9M173.3 258.8h0.9M173.6 259.5h0.9M202.7 258.0h0.9M205.7 254.2h0.9M184.0 258.1h0.9M175.3 260.2h0.9M188.8 257.0h0.9M178.6 258.5h0.9M193.1 258.4h0.9M183.6 257.4h0.9M177.0 252.7h0.9M170.3 258.8h0.9M210.6 253.0h0.9M221.0 253.8h0.9M219.5 251.8h0.9M180.7 260.1h0.9M201.0 244.6h0.9M202.2 243.9h0.9M199.0 257.2h0.9M202.2 249.6h0.9M222.7 250.1h0.9M190.0 250.8h0.9M190.9 256.6h0.9M196.9 256.4h0.9M194.5 256.3h0.9M216.6 251.0h0.9M186.9 256.2h0.9M193.1 252.0h0.9M215.2 258.0h0.9M185.5 257.4h0.9M189.3 249.6h0.9M189.9 255.7h0.9M187.7 254.1h0.9M212.1 257.6h0.9M175.1 254.6h0.9M203.7 255.6h0.9M212.2 244.7h0.9M188.3 253.4h0.9M214.7 246.3h0.9M181.9 253.8h0.9M204.8 257.2h0.9M187.3 250.1h0.9M187.0 256.6h0.9M197.4 259.5h0.9M214.2 256.6h0.9M208.5 258.4h0.9M175.9 253.3h0.9M187.0 257.3h0.9M187.4 258.1h0.9M188.5 256.0h0.9M176.1 259.5h0.9M176.1 253.5h0.9M176.9 257.6h0.9M185.9 260.3h0.9M187.2 252.4h0.9M192.7 255.7h0.9M183.6 255.1h0.9M189.5 254.2h0.9M183.0 256.0h0.9M222.7 251.0h0.9M177.5 258.1h0.9M173.9 257.3h0.9M196.7 259.2h0.9M192.9 251.2h0.9M199.5 257.4h0.9M200.5 255.0h0.9M203.7 256.4h0.9M182.3 258.7h0.9M195.2 250.9h0.9M188.1 251.8h0.9M200.6 257.1h0.9M188.6 256.6h0.9M200.9 246.5h0.9M215.5 255.6h0.9M182.1 254.1h0.9M195.2 255.7h0.9M197.5 251.9h0.9M208.5 246.3h0.9M175.2 252.7h0.9M212.5 254.0h0.9M189.4 252.4h0.9M178.5 252.4h0.9M173.6 256.2h0.9M213.0 251.0h0.9M194.1 252.0h0.9M176.5 254.5h0.9M193.3 258.2h0.9M192.6 258.8h0.9M193.7 251.5h0.9M190.1 258.7h0.9M218.0 252.9h0.9M186.0 259.6h0.9M195.6 257.6h0.9M214.8 255.5h0.9M195.2 257.2h0.9M199.2 257.2h0.9M190.4 258.7h0.9M179.6 256.6h0.9M182.8 253.5h0.9M184.1 259.2h0.9M213.3 254.3h0.9M181.2 249.3h0.9M196.9 255.1h0.9M203.3 256.7h0.9M183.1 257.1h0.9M176.5 251.2h0.9M198.4 251.0h0.9M198.2 252.1h0.9M179.6 256.9h0.9M217.0 249.6h0.9M195.7 260.0h0.9M200.3 258.8h0.9M189.0 258.4h0.9M176.9 254.2h0.9M178.6 257.5h0.9M218.7 251.4h0.9M191.0 255.2h0.9M177.3 258.0h0.9M204.4 257.1h0.9M186.0 259.4h0.9M194.1 253.9h0.9M182.6 255.8h0.9M193.1 254.4h0.9M201.2 249.1h0.9M188.1 258.6h0.9M195.6 259.9h0.9M214.4 252.9h0.9M177.8 255.5h0.9M199.1 253.2h0.9M193.9 256.4h0.9M200.9 254.2h0.9M180.5 258.0h0.9M206.8 255.0h0.9M204.6 257.7h0.9M205.4 254.8h0.9M198.5 257.2h0.9M190.7 254.7h0.9M207.6 249.4h0.9M192.6 260.5h0.9M209.3 254.3h0.9M176.0 253.9h0.9M183.3 255.3h0.9M206.3 249.8h0.9M209.7 253.2h0.9M184.4 259.2h0.9M204.1 251.9h0.9M189.6 258.1h0.9M176.9 257.0h0.9M184.7 253.4h0.9M172.1 251.7h0.9M195.2 252.7h0.9M219.0 252.8h0.9M190.2 254.3h0.9M193.7 257.9h0.9M180.1 259.4h0.9M188.8 259.6h0.9M194.8 260.5h0.9M215.5 246.2h0.9M201.8 254.4h0.9M186.3 253.6h0.9M195.8 257.4h0.9M217.7 256.0h0.9M196.4 257.4h0.9M212.9 254.2h0.9M179.7 253.8h0.9M218.3 251.7h0.9M206.5 257.6h0.9M217.7 255.5h0.9M210.5 250.3h0.9M197.3 256.5h0.9M179.5 256.2h0.9M182.3 252.5h0.9M189.4 258.2h0.9M200.1 258.9h0.9M176.1 255.9h0.9M217.4 251.1h0.9M188.1 256.4h0.9M183.5 259.8h0.9M187.5 260.1h0.9M192.3 252.9h0.9M202.2 258.3h0.9M178.9 254.8h0.9M194.3 254.2h0.9M187.5 255.7h0.9M189.9 255.1h0.9M187.0 257.9h0.9M198.0 248.4h0.9M172.2 257.8h0.9M176.1 259.7h0.9M216.1 257.0h0.9M176.4 257.6h0.9M222.1 253.5h0.9M193.9 256.6h0.9M205.3 254.9h0.9M181.4 259.5h0.9M195.0 256.6h0.9M180.7 255.2h0.9M190.5 249.7h0.9M174.8 254.4h0.9M209.0 250.5h0.9M185.0 257.6h0.9M183.2 251.6h0.9M198.8 257.9h0.9M177.7 255.5h0.9M180.1 251.3h0.9M190.5 260.4h0.9M188.0 252.4h0.9M217.1 256.7h0.9M194.6 255.7h0.9M186.0 253.3h0.9M198.4 254.7h0.9M216.2 251.9h0.9M188.4 249.6h0.9M218.7 252.5h0.9M180.7 253.4h0.9M183.0 254.4h0.9M188.2 255.5h0.9M203.1 252.0h0.9M201.0 252.2h0.9M202.4 253.8h0.9M207.1 251.6h0.9M184.6 256.4h0.9M177.5 259.0h0.9M188.7 255.5h0.9M178.8 258.7h0.9M209.6 255.3h0.9M174.4 258.5h0.9M193.5 259.3h0.9M194.5 259.8h0.9M201.1 256.1h0.9M208.9 256.5h0.9M223.2 249.4h0.9M209.0 241.3h0.9M207.0 247.8h0.9M194.3 246.0h0.9M219.5 251.0h0.9M183.2 249.0h0.9M191.2 250.2h0.9M180.0 249.2h0.9M206.5 242.3h0.9M174.8 241.8h0.9M188.6 241.3h0.9M201.8 251.9h0.9M204.1 248.1h0.9M193.2 243.3h0.9M204.8 250.6h0.9M210.8 247.5h0.9M175.4 251.0h0.9M182.7 247.1h0.9M204.7 240.1h0.9M206.8 249.6h0.9M189.0 242.7h0.9M193.6 245.6h0.9M216.7 243.6h0.9M191.0 249.8h0.9M190.0 255.5h0.9M200.1 251.9h0.9M193.4 257.4h0.9M192.9 258.3h0.9M178.6 256.4h0.9M180.7 256.6h0.9M175.3 253.7h0.9M194.1 259.0h0.9M204.1 258.3h0.9M180.7 256.7h0.9M191.3 258.7h0.9M190.7 258.0h0.9M192.0 257.9h0.9M185.3 258.9h0.9M184.6 255.3h0.9M193.1 255.6h0.9M184.0 256.8h0.9M181.7 258.7h0.9M180.4 259.4h0.9M175.7 254.9h0.9M198.0 257.1h0.9M192.2 259.9h0.9M178.0 260.2h0.9M188.8 260.4h0.9M198.4 257.1h0.9M188.0 254.9h0.9M182.8 252.9h0.9M187.4 256.5h0.9M175.6 259.8h0.9M188.2 259.0h0.9M194.3 258.6h0.9M177.7 254.3h0.9M193.6 255.9h0.9M190.4 256.8h0.9M183.8 259.1h0.9M182.9 252.5h0.9M179.4 253.8h0.9M191.4 255.2h0.9M203.9 257.5h0.9M184.5 253.2h0.9M189.8 258.5h0.9M191.4 257.0h0.9M192.9 255.6h0.9M188.9 256.7h0.9M196.7 257.3h0.9M187.9 255.1h0.9M195.2 257.1h0.9M201.6 254.6h0.9M195.4 257.7h0.9M199.2 256.3h0.9M188.9 256.3h0.9M183.2 257.2h0.9M191.2 256.3h0.9M193.6 257.8h0.9M191.0 252.7h0.9M195.2 258.7h0.9M191.1 255.5h0.9M174.1 258.3h0.9M184.6 254.1h0.9M182.9 255.7h0.9M176.7 252.7h0.9M193.2 256.2h0.9M179.3 253.4h0.9M195.9 257.0h0.9M181.2 257.7h0.9M188.8 256.5h0.9M168.4 259.1h0.9M210.5 255.1h0.9M186.4 255.8h0.9M178.2 255.7h0.9M181.5 254.3h0.9M201.0 255.8h0.9M179.9 255.2h0.9M170.4 256.6h0.9M177.6 260.2h0.9M189.0 252.6h0.9M180.7 254.6h0.9M180.4 255.2h0.9M192.5 257.5h0.9M177.2 254.1h0.9M178.7 257.5h0.9M187.0 257.9h0.9M187.6 255.5h0.9M187.8 257.3h0.9M199.2 254.1h0.9M177.4 258.8h0.9M184.6 255.4h0.9M194.3 256.8h0.9M197.5 259.3h0.9M193.7 257.3h0.9M191.2 257.2h0.9M185.5 253.3h0.9M180.8 253.6h0.9M183.5 255.4h0.9M170.9 257.9h0.9M177.5 258.0h0.9M190.2 257.4h0.9M183.7 257.3h0.9M171.5 255.1h0.9M192.1 259.9h0.9M180.5 257.7h0.9M197.8 256.4h0.9M182.6 255.3h0.9M180.0 256.8h0.9M173.9 258.8h0.9M189.5 253.3h0.9M195.3 257.0h0.9M182.5 252.9h0.9M186.3 256.3h0.9M185.2 260.0h0.9M180.4 255.5h0.9M202.0 255.2h0.9M191.7 257.8h0.9M180.5 256.3h0.9M192.2 260.4h0.9M183.9 256.7h0.9M192.4 258.0h0.9M188.0 255.5h0.9M201.7 255.1h0.9M182.5 260.1h0.9M181.6 257.7h0.9M192.4 258.8h0.9M179.4 256.3h0.9M183.5 253.7h0.9M182.6 257.1h0.9M188.2 257.5h0.9M180.4 256.7h0.9M182.9 254.3h0.9M191.2 257.5h0.9M182.5 256.6h0.9M195.2 255.9h0.9M196.3 254.7h0.9M181.4 259.2h0.9M184.7 254.4h0.9M190.5 256.5h0.9M196.4 259.6h0.9M184.3 257.2h0.9M184.0 259.5h0.9M192.5 252.7h0.9M182.6 254.7h0.9M193.8 257.7h0.9M185.8 258.1h0.9M192.9 257.8h0.9M194.7 256.1h0.9M179.7 257.2h0.9M183.4 258.1h0.9M197.9 257.5h0.9M183.7 257.5h0.9M183.9 255.6h0.9M200.0 256.6h0.9M181.3 253.8h0.9M178.5 252.6h0.9M185.2 249.5h0.9M191.5 254.9h0.9M189.8 259.9h0.9M201.7 259.9h0.9M198.4 259.9h0.9M177.4 259.9h0.9M196.4 259.9h0.9M188.1 259.9h0.9M181.3 259.9h0.9M202.5 259.9h0.9M200.1 259.9h0.9M193.0 259.9h0.9M199.7 259.9h0.9M191.3 259.9h0.9M200.8 259.9h0.9M183.6 259.9h0.9M183.5 259.9h0.9M195.1 259.9h0.9M172.7 259.9h0.9M175.2 259.9h0.9M203.0 259.9h0.9M192.7 259.9h0.9M175.4 259.9h0.9M197.0 259.9h0.9M183.4 259.9h0.9M172.6 259.9h0.9M178.8 259.9h0.9M180.0 259.9h0.9M183.8 259.9h0.9M204.6 259.9h0.9M176.5 259.9h0.9M200.1 259.9h0.9" stroke="#000" stroke-width="0.9" fill="none"/>
<path d="M153.8 195.5H244.5V260.8" stroke="#000" stroke-width="1.1" fill="none"/>
<path d="M154.4 195V261.5" stroke="#000" stroke-width="1.5" fill="none"/>
<path d="M154.3 260.8H245" stroke="#000" stroke-width="1.5" fill="none"/>
<path d="M183.5 196V260.8M154.3 237.5H244.4" stroke="#000" stroke-width="1" fill="none"/>
<path d="M161.08 260.8v2.3M165.05 260.8v2.3M167.86 260.8v2.3M170.04 260.8v2.3M171.83 260.8v2.3M173.34 260.8v2.3M174.64 260.8v2.3M175.79 260.8v2.3M183.61 260.8v2.3M187.57 260.8v2.3M190.39 260.8v2.3M192.57 260.8v2.3M194.35 260.8v2.3M195.86 260.8v2.3M197.17 260.8v2.3M198.32 260.8v2.3M206.13 260.8v2.3M210.1 260.8v2.3M212.91 260.8v2.3M215.09 260.8v2.3M216.88 260.8v2.3M218.39 260.8v2.3M219.69 260.8v2.3M220.84 260.8v2.3M228.66 260.8v2.3M232.62 260.8v2.3M235.44 260.8v2.3M237.62 260.8v2.3M239.4 260.8v2.3M240.91 260.8v2.3M242.22 260.8v2.3M243.37 260.8v2.3" stroke="#000" stroke-width="0.95" fill="none"/>
<path d="M154.3 260.8v3.9M176.83 260.8v3.9M199.35 260.8v3.9M221.88 260.8v3.9M244.4 260.8v3.9" stroke="#000" stroke-width="1.25" fill="none"/>
<path d="M154.3 255.92h-2.3M154.3 253.07h-2.3M154.3 251.05h-2.3M154.3 249.48h-2.3M154.3 248.19h-2.3M154.3 247.11h-2.3M154.3 246.17h-2.3M154.3 245.34h-2.3M154.3 239.72h-2.3M154.3 236.87h-2.3M154.3 234.85h-2.3M154.3 233.28h-2.3M154.3 231.99h-2.3M154.3 230.91h-2.3M154.3 229.97h-2.3M154.3 229.14h-2.3M154.3 223.52h-2.3M154.3 220.67h-2.3M154.3 218.65h-2.3M154.3 217.08h-2.3M154.3 215.79h-2.3M154.3 214.71h-2.3M154.3 213.77h-2.3M154.3 212.94h-2.3M154.3 207.32h-2.3M154.3 204.47h-2.3M154.3 202.45h-2.3M154.3 200.88h-2.3M154.3 199.59h-2.3M154.3 198.51h-2.3M154.3 197.57h-2.3M154.3 196.74h-2.3" stroke="#000" stroke-width="0.95" fill="none"/>
<path d="M154.3 260.8h-4M154.3 244.6h-4M154.3 228.4h-4M154.3 212.2h-4M154.3 196h-4" stroke="#000" stroke-width="1.25" fill="none"/>
<text x="157" y="274.8" class="tk" font-size="9" text-anchor="end" textLength="7.56" lengthAdjust="spacingAndGlyphs">10</text>
<text x="157" y="270.57" class="te" font-size="7.47" textLength="3.51" lengthAdjust="spacingAndGlyphs">0</text>
<text x="179.2" y="274.8" class="tk" font-size="9" text-anchor="end" textLength="7.56" lengthAdjust="spacingAndGlyphs">10</text>
<text x="179.2" y="270.57" class="te" font-size="7.47" textLength="3.51" lengthAdjust="spacingAndGlyphs">1</text>
<text x="201.4" y="274.8" class="tk" font-size="9" text-anchor="end" textLength="7.56" lengthAdjust="spacingAndGlyphs">10</text>
<text x="201.4" y="270.57" class="te" font-size="7.47" textLength="3.51" lengthAdjust="spacingAndGlyphs">2</text>
<text x="223.6" y="274.8" class="tk" font-size="9" text-anchor="end" textLength="7.56" lengthAdjust="spacingAndGlyphs">10</text>
<text x="223.6" y="270.57" class="te" font-size="7.47" textLength="3.51" lengthAdjust="spacingAndGlyphs">3</text>
<text x="245.8" y="274.8" class="tk" font-size="9" text-anchor="end" textLength="7.56" lengthAdjust="spacingAndGlyphs">10</text>
<text x="245.8" y="270.57" class="te" font-size="7.47" textLength="3.51" lengthAdjust="spacingAndGlyphs">4</text>
<g transform="translate(147.5 260.8) rotate(-90)">
<text x="1.6" y="0" class="tk" font-size="9" text-anchor="end" textLength="7.56" lengthAdjust="spacingAndGlyphs">10</text>
<text x="3.1" y="-5.13" class="te" font-size="7.47" textLength="3.51" lengthAdjust="spacingAndGlyphs">0</text>
</g>
<g transform="translate(147.5 244.8) rotate(-90)">
<text x="1.6" y="0" class="tk" font-size="9" text-anchor="end" textLength="7.56" lengthAdjust="spacingAndGlyphs">10</text>
<text x="3.1" y="-5.13" class="te" font-size="7.47" textLength="3.51" lengthAdjust="spacingAndGlyphs">1</text>
</g>
<g transform="translate(147.5 228.8) rotate(-90)">
<text x="1.6" y="0" class="tk" font-size="9" text-anchor="end" textLength="7.56" lengthAdjust="spacingAndGlyphs">10</text>
<text x="3.1" y="-5.13" class="te" font-size="7.47" textLength="3.51" lengthAdjust="spacingAndGlyphs">2</text>
</g>
<g transform="translate(147.5 212.8) rotate(-90)">
<text x="1.6" y="0" class="tk" font-size="9" text-anchor="end" textLength="7.56" lengthAdjust="spacingAndGlyphs">10</text>
<text x="3.1" y="-5.13" class="te" font-size="7.47" textLength="3.51" lengthAdjust="spacingAndGlyphs">3</text>
</g>
<g transform="translate(147.5 196.8) rotate(-90)">
<text x="1.6" y="0" class="tk" font-size="9" text-anchor="end" textLength="7.56" lengthAdjust="spacingAndGlyphs">10</text>
<text x="3.1" y="-5.13" class="te" font-size="7.47" textLength="3.51" lengthAdjust="spacingAndGlyphs">4</text>
</g>
<path d="M263.7 18.5H353.5V85.6" stroke="#000" stroke-width="1.1" fill="none"/>
<path d="M264.4 18V86.3" stroke="#000" stroke-width="2.2" fill="none"/>
<path d="M264.2 85.6H354" stroke="#000" stroke-width="1.5" fill="none"/>
<path d="M270.91 85.6v2.3M274.83 85.6v2.3M277.61 85.6v2.3M279.77 85.6v2.3M281.53 85.6v2.3M283.02 85.6v2.3M284.32 85.6v2.3M285.46 85.6v2.3M293.18 85.6v2.3M297.1 85.6v2.3M299.89 85.6v2.3M302.04 85.6v2.3M303.81 85.6v2.3M305.3 85.6v2.3M306.59 85.6v2.3M307.73 85.6v2.3M315.46 85.6v2.3M319.38 85.6v2.3M322.16 85.6v2.3M324.32 85.6v2.3M326.08 85.6v2.3M327.57 85.6v2.3M328.87 85.6v2.3M330.01 85.6v2.3M337.73 85.6v2.3M341.65 85.6v2.3M344.44 85.6v2.3M346.59 85.6v2.3M348.36 85.6v2.3M349.85 85.6v2.3M351.14 85.6v2.3M352.28 85.6v2.3" stroke="#000" stroke-width="0.95" fill="none"/>
<path d="M264.2 85.6v3.9M286.48 85.6v3.9M308.75 85.6v3.9M331.02 85.6v3.9M353.3 85.6v3.9" stroke="#000" stroke-width="1.25" fill="none"/>
<path d="M264.2 83.36h-3M264.2 81.13h-3M264.2 78.89h-3M264.2 76.65h-3M264.2 72.18h-3M264.2 69.94h-3M264.2 67.71h-3M264.2 65.47h-3M264.2 61h-3M264.2 58.76h-3M264.2 56.52h-3M264.2 54.29h-3M264.2 49.81h-3M264.2 47.58h-3M264.2 45.34h-3M264.2 43.1h-3M264.2 38.63h-3M264.2 36.39h-3M264.2 34.16h-3M264.2 31.92h-3M264.2 27.45h-3M264.2 25.21h-3M264.2 22.97h-3M264.2 20.74h-3" stroke="#000" stroke-width="0.9" fill="none"/>
<path d="M264.2 85.6h-5M264.2 74.42h-5M264.2 63.23h-5M264.2 52.05h-5M264.2 40.87h-5M264.2 29.68h-5M264.2 18.5h-5" stroke="#000" stroke-width="1.1" fill="none"/>
<clipPath id="hc1"><rect x="264.2" y="18" width="89.1" height="68.1"/></clipPath>
<g clip-path="url(#hc1)">
<path d="M264.6 82L264.61 80.53L264.67 79.73L264.78 78.62L264.91 76.91L264.88 75.8L265.07 74.67L265.24 73.42L265.29 72.28L265.22 71.11L265.4 70L265.49 68.79L265.53 67.66L265.46 66.27L265.6 65.11L265.62 64.38L265.61 63.19L265.79 61.67L265.87 60.84L265.86 59.29L265.96 58.18L266 57.21L266 56L266.24 55L266.37 53.65L266.47 52.37L266.55 51.1L266.64 50.4L266.83 48.92L266.93 48.02L267 46.57L267.13 45.2L267.29 44.22L267.36 42.88L267.5 42L267.61 40.66L267.85 40.06L267.91 38.74L267.97 37.3L268.35 36.45L268.31 35.45L268.46 34.48L268.67 32.8L268.71 31.93L268.91 31.1L269 29.67L269.36 28.32L269.4 27.5L269.66 26.53L269.78 24.73L269.98 23.53L270.32 22.68L270.51 20.97L270.8 20L272.5 19.3L273.08 20.3L273.56 21.36L274.13 22.55L274.8 23.4L275.02 24.53L275.03 25.48L275.36 27.17L275.52 27.86L275.73 28.96L275.73 30.08L276.02 31.35L276.1 32.9L276.31 34L276.5 35L276.66 36.09L276.78 37.07L276.76 38.25L276.96 39.54L277.17 40.29L277.17 41.84L277.36 42.97L277.3 43.63L277.5 45.01L277.55 46.24L277.72 47.03L277.74 48.65L278 49.75L277.99 50.5L278.2 51.7L278.33 52.81L278.47 53.72L278.74 55.39L278.75 56.4L278.81 57.64L279.12 58.7L279.18 59.5L279.43 60.8L279.5 62L279.64 63.2L279.9 64.48L280.07 65.6L280.26 66.47L280.56 67.51L280.67 68.95L280.9 70L281.25 71.13L281.41 72.42L281.89 72.97L282.15 74.55L282.51 75.38L282.6 76.66L283 77.5L283.74 78.72L284.41 79.57L285 80.8L286 81.9L287 82.5L288.52 82.8L290 83.2L291.54 83.08L293 82.6L294.5 83.39L296 83.6L297.25 83.69L298.68 84.13L300 84.2L301.45 84.6L302.73 85.08L304 85.2" stroke="#000" stroke-width="1.05" fill="none" stroke-linejoin="round" stroke-dasharray="3 2.3"/>
<path d="M264.6 79L264.76 77.56L265.02 76.99L265.1 75.83L265.31 74.77L265.46 73L265.81 71.84L265.77 71.53L266 70L266.28 68.74L266.25 67.55L266.49 66.45L266.89 65.75L267.07 64.29L267.24 63.5L267.15 62.65L267.32 61.41L267.6 59.74L267.84 59.34L268 58L268.25 56.6L268.16 56.12L268.42 54.58L268.37 53.86L268.79 52.42L268.83 51.35L268.88 50.37L269.03 48.81L269.07 47.9L269.2 47.07L269.47 45.61L269.64 44.78L269.54 43.51L269.9 42.56L269.97 41.32L270 40L270.15 38.81L270.17 37.67L270.58 36.56L270.69 34.9L270.61 34.19L270.93 32.4L270.98 31.35L271.25 30.51L271.37 29.42L271.5 28L271.66 26.77L272.06 25.49L272.58 24.77L272.79 23.4L273.13 22.98L273.5 21.5L274.39 20.44L275.2 19L275.52 20.39L275.92 21.54L276.28 22.45L276.5 24L276.45 25.47L276.64 25.99L276.71 27.03L276.82 28.66L277.23 29.28L277.19 30.71L277.24 31.91L277.3 33.03L277.43 34.27L277.53 35.01L277.9 36.39L278.03 37.69L277.89 38.64L277.98 40.06L278.2 41L278.28 42.63L278.35 43.16L278.71 44.37L278.69 46.17L278.61 46.67L278.84 47.71L279.07 49.4L279.26 50.77L279.33 51.5L279.46 52.77L279.5 54L279.8 54.88L279.79 55.9L279.98 57.37L280.14 58.35L280.21 59.39L280.25 61.18L280.33 61.87L280.4 63.29L280.75 64.19L280.67 65.71L280.92 66.95L281 68L281.27 68.8L281.33 70.33L281.84 71.2L281.85 72.57L282.17 73.53L282.55 74.94L282.5 75.5L282.9 77L283.53 78.2L284.5 79.5L286 78L286.86 78.39L288 79.4L289.05 78.13L290 77.6L291.02 78.14L292 79.4L292.87 79.27L294 78.3L295.03 79.68L296 80.6L298 80L299.16 80.5L300 81.6L302 81.2L302.96 82.11L304 82.6L304.86 83.95L306 84.6L307.46 85.1L308.82 84.65L310 85.2L311.25 85.46L312.29 85L313.25 85.45L314.24 84.78L315.53 85.21L316.66 84.86L317.71 84.8L318.71 85.21L320.07 84.79L321.06 85.52L322.14 84.78L323.33 85.62L324.17 85.37L325.34 85.27L326.36 85.64L327.78 84.95L328.67 84.86L329.98 85.03L331.1 85.38L331.9 84.92L333.25 85.06L334.41 85.31L335.21 85.39L336.35 85.03L337.62 84.99L338.76 85.15L339.92 84.76L340.96 84.9L341.81 85.51L343.25 85.24L344.18 84.76L345.24 85.13L346.27 84.92L347.39 84.99L348.73 85.01L349.61 85.6L350.71 84.77L351.78 85.52L353 85.2" stroke="#000" stroke-width="0.95" fill="none" stroke-linejoin="round"/>
</g>
<text x="266" y="99.6" class="tk" font-size="9" text-anchor="end" textLength="7.56" lengthAdjust="spacingAndGlyphs">10</text>
<text x="266" y="95.37" class="te" font-size="7.47" textLength="3.51" lengthAdjust="spacingAndGlyphs">0</text>
<text x="288.2" y="99.6" class="tk" font-size="9" text-anchor="end" textLength="7.56" lengthAdjust="spacingAndGlyphs">10</text>
<text x="288.2" y="95.37" class="te" font-size="7.47" textLength="3.51" lengthAdjust="spacingAndGlyphs">1</text>
<text x="310.4" y="99.6" class="tk" font-size="9" text-anchor="end" textLength="7.56" lengthAdjust="spacingAndGlyphs">10</text>
<text x="310.4" y="95.37" class="te" font-size="7.47" textLength="3.51" lengthAdjust="spacingAndGlyphs">2</text>
<text x="332.6" y="99.6" class="tk" font-size="9" text-anchor="end" textLength="7.56" lengthAdjust="spacingAndGlyphs">10</text>
<text x="332.6" y="95.37" class="te" font-size="7.47" textLength="3.51" lengthAdjust="spacingAndGlyphs">3</text>
<text x="354.8" y="99.6" class="tk" font-size="9" text-anchor="end" textLength="7.56" lengthAdjust="spacingAndGlyphs">10</text>
<text x="354.8" y="95.37" class="te" font-size="7.47" textLength="3.51" lengthAdjust="spacingAndGlyphs">4</text>
<text transform="translate(256.3 19.3) rotate(-90)" class="tk" font-size="8.8" text-anchor="middle" textLength="8.2" lengthAdjust="spacingAndGlyphs">30</text>
<text transform="translate(256.3 85.2) rotate(-90)" class="tk" font-size="8.8" text-anchor="middle" textLength="4.2" lengthAdjust="spacingAndGlyphs">0</text>
<path d="M263.7 108.5H353.5V172.6" stroke="#000" stroke-width="1.1" fill="none"/>
<path d="M264.4 108V173.3" stroke="#000" stroke-width="2.2" fill="none"/>
<path d="M264.2 172.6H354" stroke="#000" stroke-width="1.5" fill="none"/>
<path d="M270.91 172.6v2.3M274.83 172.6v2.3M277.61 172.6v2.3M279.77 172.6v2.3M281.53 172.6v2.3M283.02 172.6v2.3M284.32 172.6v2.3M285.46 172.6v2.3M293.18 172.6v2.3M297.1 172.6v2.3M299.89 172.6v2.3M302.04 172.6v2.3M303.81 172.6v2.3M305.3 172.6v2.3M306.59 172.6v2.3M307.73 172.6v2.3M315.46 172.6v2.3M319.38 172.6v2.3M322.16 172.6v2.3M324.32 172.6v2.3M326.08 172.6v2.3M327.57 172.6v2.3M328.87 172.6v2.3M330.01 172.6v2.3M337.73 172.6v2.3M341.65 172.6v2.3M344.44 172.6v2.3M346.59 172.6v2.3M348.36 172.6v2.3M349.85 172.6v2.3M351.14 172.6v2.3M352.28 172.6v2.3" stroke="#000" stroke-width="0.95" fill="none"/>
<path d="M264.2 172.6v3.9M286.48 172.6v3.9M308.75 172.6v3.9M331.02 172.6v3.9M353.3 172.6v3.9" stroke="#000" stroke-width="1.25" fill="none"/>
<path d="M264.2 170.45h-3M264.2 168.31h-3M264.2 166.16h-3M264.2 164.01h-3M264.2 159.72h-3M264.2 157.57h-3M264.2 155.43h-3M264.2 153.28h-3M264.2 148.99h-3M264.2 146.84h-3M264.2 144.69h-3M264.2 142.55h-3M264.2 138.25h-3M264.2 136.11h-3M264.2 133.96h-3M264.2 131.81h-3M264.2 127.52h-3M264.2 125.37h-3M264.2 123.23h-3M264.2 121.08h-3M264.2 116.79h-3M264.2 114.64h-3M264.2 112.49h-3M264.2 110.35h-3" stroke="#000" stroke-width="0.9" fill="none"/>
<path d="M264.2 172.6h-5M264.2 161.87h-5M264.2 151.13h-5M264.2 140.4h-5M264.2 129.67h-5M264.2 118.93h-5M264.2 108.2h-5" stroke="#000" stroke-width="1.1" fill="none"/>
<clipPath id="hc2"><rect x="264.2" y="107.7" width="89.1" height="65.4"/></clipPath>
<g clip-path="url(#hc2)">
<path d="M264.6 162L264.69 160.63L264.81 159.48L265.05 158.82L265.19 157.54L265.35 156.42L265.31 155.4L265.53 154.26L265.6 153.13L265.8 152L265.86 151.01L266 149.66L266.12 148.53L266.37 147.71L266.48 146.16L266.63 145.08L266.74 144.17L266.93 143.27L267 142L267.07 141.01L267.26 139.56L267.45 138.72L267.41 137.83L267.65 136.45L267.83 135.35L267.82 134.01L268.07 133.41L268.02 132.1L268.2 131L268.3 129.85L268.44 128.72L268.64 127.22L268.76 126.36L268.92 125.06L268.92 123.81L269.27 122.52L269.39 121.41L269.35 120.47L269.6 119L269.84 118.04L270.01 116.5L270.31 115.7L270.53 114.82L270.8 113.5L271.53 112.42L272.3 111L273.6 110L274.9 108.4L275.24 109.82L275.43 110.5L275.54 111.62L275.8 113L275.88 114.33L275.88 114.91L276.19 116.59L276.16 117.68L276.34 118.38L276.42 119.33L276.42 120.49L276.54 121.95L276.74 123.19L276.8 124L276.93 125.23L277.09 126.18L277.17 127.22L277.19 128.69L277.23 129.86L277.31 130.8L277.4 132.25L277.58 133.51L277.53 134.22L277.72 135.87L277.82 136.61L277.9 138L278.06 139.2L278.22 140.32L278.32 141.21L278.3 142.79L278.36 143.59L278.59 145.12L278.56 146.18L278.76 147.09L278.83 148.26L278.92 149.38L279.16 150.86L279.2 152L279.31 152.81L279.45 154.1L279.56 155.24L279.78 156.21L279.95 157.71L280.22 158.71L280.3 159.82L280.49 160.69L280.59 161.82L280.8 163L281.13 164.08L281.66 165.38L282.08 166.22L282.56 167.38L283 168.8L284.45 169.43L285.68 169.79L287 170.6L288.19 170.92L289.52 170.87L290.74 170.82L292 171.2L293.35 171.39L294.38 171.35L295.81 171.15L297 171L298.19 171.09L299.46 171.51L300.71 171.85L302 171.8" stroke="#000" stroke-width="1.05" fill="none" stroke-linejoin="round" stroke-dasharray="3 2.3"/>
<path d="M264.6 158L264.69 156.93L265.15 156.13L265.26 154.54L265.3 153.17L265.67 152.1L265.97 150.88L266 150L266.06 148.49L266.45 147.38L266.51 146.5L266.75 145.34L266.77 144.29L266.98 143.19L267.34 141.77L267.4 141L267.59 140.05L267.63 139.12L267.77 137.56L267.99 136.47L268.05 135L268.14 134.36L268.41 132.79L268.49 131.67L268.6 131L268.58 129.49L268.74 128.31L269.12 127.09L269.15 126.41L269.34 125.14L269.64 123.8L269.78 122.43L269.87 121.57L269.8 119.76L270.1 119L270.32 117.33L270.79 116.9L270.79 115.55L271.2 114L272.1 112L272.75 113.44L273.2 114.5L274.01 116.03L274.6 117L274.88 117.93L275.49 119.76L275.78 121.1L276.2 122L276.18 123.52L276.56 124.74L276.37 125.35L276.7 126.71L276.58 127.7L276.97 128.8L277.12 129.8L276.96 131.11L277.35 132.15L277.22 134.03L277.45 134.47L277.5 136L277.43 137.55L277.85 138.52L277.85 139.56L277.85 141.07L278.11 141.8L278.17 143.25L278.43 144.25L278.44 145.41L278.45 147.15L278.6 148L278.63 148.72L278.74 149.86L278.94 151.03L279.11 152.38L279.33 153.77L279.35 154.92L279.55 156.02L279.68 156.66L279.86 157.96L279.84 159.46L280.05 160.32L280.2 161.5L280.38 162.44L281.08 163.34L281.23 165.09L281.6 166L282.22 167.3L283 168.3L284.66 168.94L286 169.2L287.49 169.65L289 169.6L290.65 170.34L292 170.2L293.47 169.5L295 169.6L296.42 169.96L298 170.4L299.37 170.2L301 169.8L302.26 170.56L303.34 170.47L304.4 171.4L305.65 171.39L306.97 171.97L308 172L309.07 172.27L310.12 172.21L311.35 172.19L312.41 171.79L313.73 171.75L314.65 171.64L315.75 171.72L317.03 172.21L318.27 172.15L319.08 171.95L320.38 171.72L321.65 172.19L322.53 172.01L323.91 172.08L325.03 171.85L326.03 172.36L326.99 171.98L328.08 171.65L329.45 172.1L330.54 172.44L331.59 172.44L332.59 171.67L333.89 171.81L334.93 172.44L336.21 171.76L337.27 171.9L338.5 171.69L339.59 172.38L340.56 172.39L341.68 171.58L342.86 172.36L343.87 171.73L345.1 171.7L346.39 172.38L347.47 172.23L348.6 171.72L349.63 171.75L350.89 171.58L351.91 171.67L353 172" stroke="#000" stroke-width="0.95" fill="none" stroke-linejoin="round"/>
</g>
<text x="266" y="185.9" class="tk" font-size="9" text-anchor="end" textLength="7.56" lengthAdjust="spacingAndGlyphs">10</text>
<text x="266" y="181.67" class="te" font-size="7.47" textLength="3.51" lengthAdjust="spacingAndGlyphs">0</text>
<text x="288.2" y="185.9" class="tk" font-size="9" text-anchor="end" textLength="7.56" lengthAdjust="spacingAndGlyphs">10</text>
<text x="288.2" y="181.67" class="te" font-size="7.47" textLength="3.51" lengthAdjust="spacingAndGlyphs">1</text>
<text x="310.4" y="185.9" class="tk" font-size="9" text-anchor="end" textLength="7.56" lengthAdjust="spacingAndGlyphs">10</text>
<text x="310.4" y="181.67" class="te" font-size="7.47" textLength="3.51" lengthAdjust="spacingAndGlyphs">2</text>
<text x="332.6" y="185.9" class="tk" font-size="9" text-anchor="end" textLength="7.56" lengthAdjust="spacingAndGlyphs">10</text>
<text x="332.6" y="181.67" class="te" font-size="7.47" textLength="3.51" lengthAdjust="spacingAndGlyphs">3</text>
<text x="354.8" y="185.9" class="tk" font-size="9" text-anchor="end" textLength="7.56" lengthAdjust="spacingAndGlyphs">10</text>
<text x="354.8" y="181.67" class="te" font-size="7.47" textLength="3.51" lengthAdjust="spacingAndGlyphs">4</text>
<text transform="translate(256.3 109) rotate(-90)" class="tk" font-size="8.8" text-anchor="middle" textLength="8.2" lengthAdjust="spacingAndGlyphs">30</text>
<text transform="translate(256.3 172.2) rotate(-90)" class="tk" font-size="8.8" text-anchor="middle" textLength="4.2" lengthAdjust="spacingAndGlyphs">0</text>
<path d="M263.7 190.5H353.5V259.7" stroke="#000" stroke-width="1.1" fill="none"/>
<path d="M264.4 190V260.4" stroke="#000" stroke-width="2.2" fill="none"/>
<path d="M264.2 259.7H354" stroke="#000" stroke-width="1.5" fill="none"/>
<path d="M270.91 259.7v2.3M274.83 259.7v2.3M277.61 259.7v2.3M279.77 259.7v2.3M281.53 259.7v2.3M283.02 259.7v2.3M284.32 259.7v2.3M285.46 259.7v2.3M293.18 259.7v2.3M297.1 259.7v2.3M299.89 259.7v2.3M302.04 259.7v2.3M303.81 259.7v2.3M305.3 259.7v2.3M306.59 259.7v2.3M307.73 259.7v2.3M315.46 259.7v2.3M319.38 259.7v2.3M322.16 259.7v2.3M324.32 259.7v2.3M326.08 259.7v2.3M327.57 259.7v2.3M328.87 259.7v2.3M330.01 259.7v2.3M337.73 259.7v2.3M341.65 259.7v2.3M344.44 259.7v2.3M346.59 259.7v2.3M348.36 259.7v2.3M349.85 259.7v2.3M351.14 259.7v2.3M352.28 259.7v2.3" stroke="#000" stroke-width="0.95" fill="none"/>
<path d="M264.2 259.7v3.9M286.48 259.7v3.9M308.75 259.7v3.9M331.02 259.7v3.9M353.3 259.7v3.9" stroke="#000" stroke-width="1.25" fill="none"/>
<path d="M264.2 257.39h-3M264.2 255.08h-3M264.2 252.77h-3M264.2 250.46h-3M264.2 245.84h-3M264.2 243.53h-3M264.2 241.22h-3M264.2 238.91h-3M264.2 234.29h-3M264.2 231.98h-3M264.2 229.67h-3M264.2 227.36h-3M264.2 222.74h-3M264.2 220.43h-3M264.2 218.12h-3M264.2 215.81h-3M264.2 211.19h-3M264.2 208.88h-3M264.2 206.57h-3M264.2 204.26h-3M264.2 199.64h-3M264.2 197.33h-3M264.2 195.02h-3M264.2 192.71h-3" stroke="#000" stroke-width="0.9" fill="none"/>
<path d="M264.2 259.7h-5M264.2 248.15h-5M264.2 236.6h-5M264.2 225.05h-5M264.2 213.5h-5M264.2 201.95h-5M264.2 190.4h-5" stroke="#000" stroke-width="1.1" fill="none"/>
<clipPath id="hc3"><rect x="264.2" y="189.9" width="89.1" height="70.3"/></clipPath>
<g clip-path="url(#hc3)">
<path d="M264.8 256L264.99 254.96L265.05 253.55L265.39 252.51L265.52 251.16L265.6 250L265.77 248.55L265.93 247.49L266.19 246.57L266.36 245.35L266.34 244.06L266.6 243L266.78 241.81L266.76 240.79L266.94 239.35L267.22 238.32L267.16 237.03L267.4 236L267.61 235.04L267.53 233.76L267.68 232.26L267.79 231.45L268 230L268.02 228.63L268.1 227.89L268.21 226.86L268.27 225.52L268.52 224.16L268.45 223.44L268.6 222L268.56 220.81L268.71 219.62L268.83 218.71L268.8 217.51L268.91 216.53L269.13 215.31L268.97 214.35L269.27 213.47L269.35 212.03L269.3 211L269.47 209.66L269.53 208.6L269.62 207.81L269.62 206.48L269.56 205.76L269.73 204.21L269.68 203.08L269.82 201.91L269.92 201.19L270 200L269.97 198.86L270.19 197.36L270.15 196.19L270.39 194.94L270.44 194.28L270.45 192.5L270.68 191.71L270.7 190.4L270.87 188.94L271.07 187.56L271.24 186.71L271.36 185.45L271.6 184L272.06 182.77L272.43 181.4L273 180L273.5 181.31L273.95 182.51L274.4 184L274.56 184.99L274.8 186.82L275.03 187.84L275.12 189.24L275.3 190.4L275.48 191.53L275.47 192.84L275.48 193.92L275.67 195.01L275.8 196.42L275.8 197.57L275.85 198.83L276 200L276.13 201.38L276.2 202.08L276.41 203.5L276.49 204.52L276.47 205.68L276.59 206.55L276.72 207.43L276.87 208.83L277.01 209.8L277 211L277.13 212.25L277.33 213.06L277.37 214.44L277.37 215.26L277.66 216.37L277.71 217.63L277.85 218.89L277.82 219.76L278 221L278.04 222.4L278.23 223.55L278.33 224.09L278.48 225.66L278.52 226.41L278.77 227.48L278.92 228.8L279 230L279.06 230.89L279.18 232.25L279.28 233.45L279.48 234.59L279.6 235.5L279.77 236.57L279.73 237.92L279.92 239.1L280 240L280.2 241.34L280.31 242.5L280.51 243.28L280.61 244.76L280.78 245.75L280.83 246.65L280.97 247.95L281.2 249L281.53 250.07L281.72 251.13L282.02 252.58L282.19 253.42L282.5 254.65L282.8 255.6L283.98 256.26L284.87 256.87L286 257.2L287.37 257.66L288.56 257.41L290 257.8L291.27 257.75L292.38 257.99L293.65 258.37L295 258.2L296.25 258.5L297.57 258.58L298.72 258.62L300 258.6L301.13 258.73L302.29 258.7L303.7 258.88L304.69 259.21L306 259.2" stroke="#000" stroke-width="1.05" fill="none" stroke-linejoin="round" stroke-dasharray="3 2.3"/>
<path d="M264.6 252L264.98 250.35L265.34 249.04L265.6 248L266.06 246.6L266.6 245L266.87 243.86L267.11 242.09L267.36 241.36L267.6 240L267.93 239.09L268 237.39L268.46 235.92L268.6 235L268.86 233.92L269.05 232.45L269.29 231L269.5 230L269.73 228.54L269.93 227.83L269.91 226.34L270.31 225.28L270.52 224.29L270.58 223.08L270.8 222L270.88 221.22L271.23 219.45L271.38 218.69L271.58 217.48L271.94 216.44L272.05 215.44L272.2 214L272.64 212.87L272.81 211.75L273.11 211.03L273.41 209.5L273.6 208.5L274 209.72L274.11 210.86L274.36 212.3L274.6 213L274.93 214.05L274.82 215.69L275.24 216.04L275.24 217.92L275.52 218.49L275.53 220.25L275.8 221L276.01 222.08L276.07 223L276.24 224.05L276.25 225.26L276.42 226.53L276.57 227.41L276.78 228.8L277 230L277.12 231.32L277.2 231.99L277.55 233.15L277.61 234.18L277.9 235.83L278.06 236.63L277.99 237.91L278.13 238.52L278.4 240L278.56 241.4L278.97 242.59L278.99 243.81L279.12 244.13L279.45 245.46L279.75 247.04L279.8 248L280.33 249.44L280.51 250.64L280.8 252.08L281.32 253.29L281.6 254.3L283.5 255.4L284.34 255.13L285.5 254.2L286.66 254.82L287.5 256L288.48 254.98L289.5 254.6L290.49 255.59L291.5 256.4L292.66 256.04L293.5 255L294.62 255.66L296 256.6L297.18 256.77L298.4 256.2L299.57 256.67L301 257.6L302.53 256.96L304 257.2L305.52 257.4L307 258L308.49 258.18L310 257.6L310.97 258.41L312.34 258.63L313.21 259.21L314.5 259.2L315.62 259.21L316.69 259.29L317.95 259L318.97 259.54L320.02 259.61L321.17 258.82L322.29 258.84L323.19 259.33L324.24 258.89L325.67 258.91L326.74 258.96L327.64 258.87L328.75 259.18L329.81 259.62L330.89 259.19L332.17 258.85L333.2 259.06L334.15 259.37L335.47 258.8L336.33 259.64L337.78 259.16L338.88 259.5L339.97 259.23L340.89 258.8L341.96 259.51L343.08 259.15L344.31 259.09L345.2 259.63L346.51 259.04L347.61 259.42L348.75 259.36L349.75 259.51L350.65 259.01L352.03 259.52L353 259.2" stroke="#000" stroke-width="0.95" fill="none" stroke-linejoin="round"/>
</g>
<text x="266" y="273.5" class="tk" font-size="9" text-anchor="end" textLength="7.56" lengthAdjust="spacingAndGlyphs">10</text>
<text x="266" y="269.27" class="te" font-size="7.47" textLength="3.51" lengthAdjust="spacingAndGlyphs">0</text>
<text x="288.2" y="273.5" class="tk" font-size="9" text-anchor="end" textLength="7.56" lengthAdjust="spacingAndGlyphs">10</text>
<text x="288.2" y="269.27" class="te" font-size="7.47" textLength="3.51" lengthAdjust="spacingAndGlyphs">1</text>
<text x="310.4" y="273.5" class="tk" font-size="9" text-anchor="end" textLength="7.56" lengthAdjust="spacingAndGlyphs">10</text>
<text x="310.4" y="269.27" class="te" font-size="7.47" textLength="3.51" lengthAdjust="spacingAndGlyphs">2</text>
<text x="332.6" y="273.5" class="tk" font-size="9" text-anchor="end" textLength="7.56" lengthAdjust="spacingAndGlyphs">10</text>
<text x="332.6" y="269.27" class="te" font-size="7.47" textLength="3.51" lengthAdjust="spacingAndGlyphs">3</text>
<text x="354.8" y="273.5" class="tk" font-size="9" text-anchor="end" textLength="7.56" lengthAdjust="spacingAndGlyphs">10</text>
<text x="354.8" y="269.27" class="te" font-size="7.47" textLength="3.51" lengthAdjust="spacingAndGlyphs">4</text>
<text transform="translate(256.3 191.2) rotate(-90)" class="tk" font-size="8.8" text-anchor="middle" textLength="8.2" lengthAdjust="spacingAndGlyphs">30</text>
<text transform="translate(256.3 259.3) rotate(-90)" class="tk" font-size="8.8" text-anchor="middle" textLength="4.2" lengthAdjust="spacingAndGlyphs">0</text>
<path d="M373.7 17.5H462.5V85.8" stroke="#000" stroke-width="1.1" fill="none"/>
<path d="M374.4 17V86.5" stroke="#000" stroke-width="2.2" fill="none"/>
<path d="M374.2 85.8H463" stroke="#000" stroke-width="1.5" fill="none"/>
<path d="M380.89 85.8v2.3M384.8 85.8v2.3M387.58 85.8v2.3M389.73 85.8v2.3M391.49 85.8v2.3M392.98 85.8v2.3M394.27 85.8v2.3M395.41 85.8v2.3M403.12 85.8v2.3M407.03 85.8v2.3M409.81 85.8v2.3M411.96 85.8v2.3M413.72 85.8v2.3M415.21 85.8v2.3M416.5 85.8v2.3M417.63 85.8v2.3M425.34 85.8v2.3M429.25 85.8v2.3M432.03 85.8v2.3M434.18 85.8v2.3M435.94 85.8v2.3M437.43 85.8v2.3M438.72 85.8v2.3M439.86 85.8v2.3M447.57 85.8v2.3M451.48 85.8v2.3M454.26 85.8v2.3M456.41 85.8v2.3M458.17 85.8v2.3M459.66 85.8v2.3M460.95 85.8v2.3M462.08 85.8v2.3" stroke="#000" stroke-width="0.95" fill="none"/>
<path d="M374.2 85.8v3.9M396.43 85.8v3.9M418.65 85.8v3.9M440.88 85.8v3.9M463.1 85.8v3.9" stroke="#000" stroke-width="1.25" fill="none"/>
<path d="M374.2 83.54h-3M374.2 81.28h-3M374.2 79.02h-3M374.2 76.76h-3M374.2 72.24h-3M374.2 69.98h-3M374.2 67.72h-3M374.2 65.46h-3M374.2 60.94h-3M374.2 58.68h-3M374.2 56.42h-3M374.2 54.16h-3M374.2 49.64h-3M374.2 47.38h-3M374.2 45.12h-3M374.2 42.86h-3M374.2 38.34h-3M374.2 36.08h-3M374.2 33.82h-3M374.2 31.56h-3M374.2 27.04h-3M374.2 24.78h-3M374.2 22.52h-3M374.2 20.26h-3" stroke="#000" stroke-width="0.9" fill="none"/>
<path d="M374.2 85.8h-5M374.2 74.5h-5M374.2 63.2h-5M374.2 51.9h-5M374.2 40.6h-5M374.2 29.3h-5M374.2 18h-5" stroke="#000" stroke-width="1.1" fill="none"/>
<clipPath id="hc4"><rect x="374.2" y="17.5" width="88.9" height="68.8"/></clipPath>
<g clip-path="url(#hc4)">
<path d="M374.6 72L374.79 70.81L374.88 69.89L374.93 68.43L375.09 67.37L375.36 66.16L375.58 65.24L375.55 63.9L375.8 63L375.91 61.67L376.13 60.56L376.32 59.72L376.44 58.43L376.53 57.34L376.55 56.54L376.61 55.11L376.87 54.2L377 53L377.02 51.98L377.34 50.51L377.54 49.57L377.48 48.7L377.77 47.68L377.95 46.43L378.05 45.54L378.17 44.4L378.22 43.13L378.4 42L378.51 40.91L378.72 39.67L378.71 38.87L378.96 37.31L378.98 36.49L379.12 35.51L379.38 34.52L379.49 33.41L379.6 32L379.88 30.87L380.23 29.85L380.42 28.11L380.81 27.28L381 26L381.85 25.32L382.8 24.6L383.42 23.46L384.2 22L385.6 23.5L385.84 24.35L385.85 25.57L386.13 26.74L386.28 28L386.3 29.39L386.63 30.02L386.85 31.59L386.97 32.3L387.18 33.95L387.12 34.75L387.4 36L387.56 37.19L387.67 38.07L387.79 39.2L387.87 40.72L387.77 41.69L387.91 43.06L388.13 44.07L388.25 44.91L388.22 46.26L388.3 47.7L388.4 48.62L388.49 49.68L388.49 50.6L388.7 52L388.86 52.98L389.05 54.48L389.07 55.59L389.12 56.79L389.26 57.78L389.55 59.11L389.57 60.24L389.59 61.6L389.92 62.57L389.89 63.75L390.04 64.88L390.2 66L390.24 67.38L390.49 67.97L390.66 69.08L390.77 70.57L390.88 71.69L391.2 72.53L391.31 73.86L391.5 74.75L391.65 76.19L391.8 77L392.14 78.01L392.62 79.09L392.86 80.15L393.27 81.58L393.6 82.6L394.5 83.49L395.25 84.22L396 85.2" stroke="#000" stroke-width="1.05" fill="none" stroke-linejoin="round" stroke-dasharray="3 2.3"/>
<path d="M374.6 67.5L374.79 66.64L374.98 65.29L375.22 63.73L375.38 62.54L375.7 61.18L376 60L376.39 58.39L376.43 57.97L376.85 56.52L377.15 55.13L377.4 54L377.48 53.03L377.71 51.65L378.02 51.11L378.01 49.8L378.35 48.81L378.22 47.68L378.39 46.14L378.77 45.07L378.8 44L378.86 42.86L378.91 41.43L379.32 40.88L379.09 39.8L379.26 38.11L379.4 37.15L379.61 36.03L379.75 35.03L379.7 33.77L379.96 33.03L380.1 31.5L380.39 30.71L380.98 28.88L381.03 28.12L381.5 27L382.32 26.48L383 24.78L383.5 24.2L383.69 22.69L384.29 21.53L384.5 20.77L384.8 19.5L385.29 20.91L385.78 21.57L386.5 23.2L386.67 24.11L386.62 25.12L386.75 26.38L386.94 27.4L387.15 28.61L387.41 30.41L387.34 30.81L387.62 32.25L387.79 33.51L387.97 34.9L387.98 35.62L388.2 37L388.29 38.58L388.53 39.64L388.51 40.68L388.47 41.75L388.59 42.4L388.61 43.52L388.69 44.58L388.76 45.63L388.82 47.41L389.14 48.52L389.15 49.17L389.4 50.69L389.2 51.83L389.3 52.47L389.5 54L389.74 54.84L389.61 56.65L390.02 57.75L390 58.42L390.1 59.59L390.14 61.24L390.42 62.17L390.67 63.66L390.59 64.86L390.9 65.53L390.99 67.16L391 68L391.35 69.2L391.27 69.87L391.49 71.53L391.79 72.52L391.87 73.6L392.16 75.02L392.26 75.25L392.65 76.82L392.87 78L392.9 79L393.44 80.05L394.45 81.35L395 82.6L396.13 83.14L397 83.6L398.39 84.7L399.5 85.2L400.44 85.2L401.58 85.26L402.75 85.09L403.95 85.07L405.23 85.37L406.3 85.51L407.33 84.89L408.39 85.09L409.51 84.83L410.78 85.61L411.61 85.5L412.83 85.51L413.98 85.06L415.01 85.04L416.24 85.56L417.34 85.16L418.29 84.81L419.5 84.78L420.5 85.54L421.92 85.01L422.9 84.93L424.1 85.56L425.05 85.1L426.18 85L427.38 85.64L428.62 85.14L429.48 85.1L430.55 85.21L431.63 85.6L432.75 85.09L434.17 84.94L435.25 84.89L436.1 85.34L437.22 85.62L438.65 85.5L439.56 85.11L440.79 85.09L441.71 85.32L442.82 84.87L443.92 84.82L445.04 85.19L446.22 85.36L447.25 85.6L448.5 85.31L449.46 85.42L450.9 84.92L451.81 85.17L453 84.83L454.13 85.62L455.25 85.61L456.36 84.77L457.6 85.25L458.62 85.46L459.64 84.87L460.79 85.43L461.74 85.27L463 85.2" stroke="#000" stroke-width="0.95" fill="none" stroke-linejoin="round"/>
</g>
<text x="376" y="99.6" class="tk" font-size="9" text-anchor="end" textLength="7.56" lengthAdjust="spacingAndGlyphs">10</text>
<text x="376" y="95.37" class="te" font-size="7.47" textLength="3.51" lengthAdjust="spacingAndGlyphs">0</text>
<text x="398.2" y="99.6" class="tk" font-size="9" text-anchor="end" textLength="7.56" lengthAdjust="spacingAndGlyphs">10</text>
<text x="398.2" y="95.37" class="te" font-size="7.47" textLength="3.51" lengthAdjust="spacingAndGlyphs">1</text>
<text x="420.4" y="99.6" class="tk" font-size="9" text-anchor="end" textLength="7.56" lengthAdjust="spacingAndGlyphs">10</text>
<text x="420.4" y="95.37" class="te" font-size="7.47" textLength="3.51" lengthAdjust="spacingAndGlyphs">2</text>
<text x="442.6" y="99.6" class="tk" font-size="9" text-anchor="end" textLength="7.56" lengthAdjust="spacingAndGlyphs">10</text>
<text x="442.6" y="95.37" class="te" font-size="7.47" textLength="3.51" lengthAdjust="spacingAndGlyphs">3</text>
<text x="464.8" y="99.6" class="tk" font-size="9" text-anchor="end" textLength="7.56" lengthAdjust="spacingAndGlyphs">10</text>
<text x="464.8" y="95.37" class="te" font-size="7.47" textLength="3.51" lengthAdjust="spacingAndGlyphs">4</text>
<text transform="translate(366.3 18.8) rotate(-90)" class="tk" font-size="8.8" text-anchor="middle" textLength="8.2" lengthAdjust="spacingAndGlyphs">30</text>
<text transform="translate(366.3 85.4) rotate(-90)" class="tk" font-size="8.8" text-anchor="middle" textLength="4.2" lengthAdjust="spacingAndGlyphs">0</text>
<path d="M373.7 107.5H462.5V172.8" stroke="#000" stroke-width="1.1" fill="none"/>
<path d="M374.4 107V173.5" stroke="#000" stroke-width="2.2" fill="none"/>
<path d="M374.2 172.8H463" stroke="#000" stroke-width="1.5" fill="none"/>
<path d="M380.89 172.8v2.3M384.8 172.8v2.3M387.58 172.8v2.3M389.73 172.8v2.3M391.49 172.8v2.3M392.98 172.8v2.3M394.27 172.8v2.3M395.41 172.8v2.3M403.12 172.8v2.3M407.03 172.8v2.3M409.81 172.8v2.3M411.96 172.8v2.3M413.72 172.8v2.3M415.21 172.8v2.3M416.5 172.8v2.3M417.63 172.8v2.3M425.34 172.8v2.3M429.25 172.8v2.3M432.03 172.8v2.3M434.18 172.8v2.3M435.94 172.8v2.3M437.43 172.8v2.3M438.72 172.8v2.3M439.86 172.8v2.3M447.57 172.8v2.3M451.48 172.8v2.3M454.26 172.8v2.3M456.41 172.8v2.3M458.17 172.8v2.3M459.66 172.8v2.3M460.95 172.8v2.3M462.08 172.8v2.3" stroke="#000" stroke-width="0.95" fill="none"/>
<path d="M374.2 172.8v3.9M396.43 172.8v3.9M418.65 172.8v3.9M440.88 172.8v3.9M463.1 172.8v3.9" stroke="#000" stroke-width="1.25" fill="none"/>
<path d="M374.2 170.63h-3M374.2 168.47h-3M374.2 166.3h-3M374.2 164.13h-3M374.2 159.8h-3M374.2 157.63h-3M374.2 155.47h-3M374.2 153.3h-3M374.2 148.97h-3M374.2 146.8h-3M374.2 144.63h-3M374.2 142.47h-3M374.2 138.13h-3M374.2 135.97h-3M374.2 133.8h-3M374.2 131.63h-3M374.2 127.3h-3M374.2 125.13h-3M374.2 122.97h-3M374.2 120.8h-3M374.2 116.47h-3M374.2 114.3h-3M374.2 112.13h-3M374.2 109.97h-3" stroke="#000" stroke-width="0.9" fill="none"/>
<path d="M374.2 172.8h-5M374.2 161.97h-5M374.2 151.13h-5M374.2 140.3h-5M374.2 129.47h-5M374.2 118.63h-5M374.2 107.8h-5" stroke="#000" stroke-width="1.1" fill="none"/>
<clipPath id="hc5"><rect x="374.2" y="107.3" width="88.9" height="66"/></clipPath>
<g clip-path="url(#hc5)">
<path d="M374.6 158L374.83 156.9L375.03 155.43L375.15 154.65L375.25 153.64L375.5 152.47L375.68 150.92L375.8 150L376.05 148.91L376.18 147.91L376.42 146.64L376.41 145.24L376.7 144.38L376.88 143.42L377 142L377.3 140.88L377.34 139.49L377.65 138.86L377.81 137.51L377.97 136.02L378.14 134.97L378.4 134L378.46 132.87L378.63 131.97L378.87 130.37L378.95 129.42L379.21 128.58L379.45 127.54L379.5 126.09L379.58 125.01L379.8 124L380 122.78L380.31 121.82L380.59 121.04L380.67 119.41L381.07 118.84L381.2 117.5L381.63 116.07L382.2 114.6L383 116.6L383.29 115.14L383.8 114.2L384.37 115.87L384.8 117L385.03 118.21L385.2 119.24L385.45 120.33L385.62 121.73L385.69 122.61L386 124L386.18 124.9L386.28 126.65L386.34 127.74L386.41 128.79L386.49 130.22L386.81 131.37L386.87 132.22L387.04 133.56L387.09 134.61L387.2 136L387.28 137.21L387.38 138.32L387.59 139.63L387.58 140.88L387.84 142.26L388.02 143.13L387.95 144.67L388.08 145.58L388.3 146.96L388.4 148L388.56 149.01L388.7 150.62L388.74 151.52L388.93 152.52L389.07 154.2L389.14 154.97L389.5 156.68L389.58 157.34L389.75 158.52L389.8 160L390.02 161.21L390.29 162.66L390.48 163.74L390.78 165.09L390.84 166.21L391.28 167.37L391.4 168.6L391.96 169.54L392.79 170.72L393.4 171.6L394.72 171.8L396 172" stroke="#000" stroke-width="1.05" fill="none" stroke-linejoin="round" stroke-dasharray="3 2.3"/>
<path d="M374.6 154L374.78 153.09L375.16 152L375.48 150.31L375.61 148.9L376 148L376.18 146.73L376.53 145.75L376.76 144.3L377.2 142.95L377.4 142L377.63 141.16L377.89 139.87L378.15 138.63L378.49 137.26L378.8 136L379.12 135.2L379.1 133.38L379.36 132.56L379.85 131.23L379.74 130.73L380.18 128.77L380.5 128.47L380.66 127.11L380.8 125.8L381.7 124.68L382.6 123.6L384.2 122.2L384.76 123.42L385.6 124L386.28 125.66L386.8 127L387 127.79L387.17 128.9L387.08 130.54L387.37 131.48L387.19 132.38L387.55 133.77L387.6 134.39L387.67 135.7L387.86 136.88L387.8 138L388.13 139.21L387.98 140.7L388.36 141.82L388.46 142.25L388.42 143.51L388.69 144.46L388.9 146L388.88 147.54L389.29 148.48L389.37 149.48L389.51 150.88L389.72 151.98L389.58 153.11L389.72 154.06L390.1 155.26L390.19 156.47L390.2 158L390.36 159.44L390.44 160L390.69 161.99L390.76 163.05L391.02 163.59L391.14 165.07L391.45 166.53L391.6 167.6L392.33 168.85L393.2 170L395 171.2L397 171.6L398.2 170.4L399.4 169.6L400.6 170.6L401.8 172L402.83 171.92L403.99 172.05L405.3 172.14L406.28 171.84L407.48 171.64L408.51 172.03L409.45 172.06L410.53 172.34L411.81 171.72L413 172.38L413.98 172.36L415.19 172.05L416.12 171.76L417.23 171.86L418.37 171.56L419.64 172.32L420.74 172.22L421.97 171.98L422.86 171.86L423.9 171.81L425.09 171.57L426.17 172.12L427.32 171.98L428.41 172.23L429.71 171.96L430.87 172.2L431.83 171.56L433.1 171.72L434.18 171.77L435.28 172.02L436.42 172.27L437.37 172.35L438.67 172.16L439.61 172.27L440.85 172.3L441.84 171.95L443.13 171.94L444.25 171.76L445.11 171.67L446.38 172.21L447.35 171.83L448.63 172.06L449.64 171.9L450.88 171.94L451.92 172.36L452.96 171.78L454.14 171.93L455.25 171.83L456.34 172.02L457.41 172.42L458.37 171.78L459.73 171.56L460.83 172.35L461.72 171.74L463 172" stroke="#000" stroke-width="0.95" fill="none" stroke-linejoin="round"/>
</g>
<text x="376" y="185.9" class="tk" font-size="9" text-anchor="end" textLength="7.56" lengthAdjust="spacingAndGlyphs">10</text>
<text x="376" y="181.67" class="te" font-size="7.47" textLength="3.51" lengthAdjust="spacingAndGlyphs">0</text>
<text x="398.2" y="185.9" class="tk" font-size="9" text-anchor="end" textLength="7.56" lengthAdjust="spacingAndGlyphs">10</text>
<text x="398.2" y="181.67" class="te" font-size="7.47" textLength="3.51" lengthAdjust="spacingAndGlyphs">1</text>
<text x="420.4" y="185.9" class="tk" font-size="9" text-anchor="end" textLength="7.56" lengthAdjust="spacingAndGlyphs">10</text>
<text x="420.4" y="181.67" class="te" font-size="7.47" textLength="3.51" lengthAdjust="spacingAndGlyphs">2</text>
<text x="442.6" y="185.9" class="tk" font-size="9" text-anchor="end" textLength="7.56" lengthAdjust="spacingAndGlyphs">10</text>
<text x="442.6" y="181.67" class="te" font-size="7.47" textLength="3.51" lengthAdjust="spacingAndGlyphs">3</text>
<text x="464.8" y="185.9" class="tk" font-size="9" text-anchor="end" textLength="7.56" lengthAdjust="spacingAndGlyphs">10</text>
<text x="464.8" y="181.67" class="te" font-size="7.47" textLength="3.51" lengthAdjust="spacingAndGlyphs">4</text>
<text transform="translate(366.3 108.6) rotate(-90)" class="tk" font-size="8.8" text-anchor="middle" textLength="8.2" lengthAdjust="spacingAndGlyphs">30</text>
<text transform="translate(366.3 172.4) rotate(-90)" class="tk" font-size="8.8" text-anchor="middle" textLength="4.2" lengthAdjust="spacingAndGlyphs">0</text>
<path d="M373.7 190.5H462.5V259.9" stroke="#000" stroke-width="1.1" fill="none"/>
<path d="M374.4 190V260.6" stroke="#000" stroke-width="2.2" fill="none"/>
<path d="M374.2 259.9H463" stroke="#000" stroke-width="1.5" fill="none"/>
<path d="M380.89 259.9v2.3M384.8 259.9v2.3M387.58 259.9v2.3M389.73 259.9v2.3M391.49 259.9v2.3M392.98 259.9v2.3M394.27 259.9v2.3M395.41 259.9v2.3M403.12 259.9v2.3M407.03 259.9v2.3M409.81 259.9v2.3M411.96 259.9v2.3M413.72 259.9v2.3M415.21 259.9v2.3M416.5 259.9v2.3M417.63 259.9v2.3M425.34 259.9v2.3M429.25 259.9v2.3M432.03 259.9v2.3M434.18 259.9v2.3M435.94 259.9v2.3M437.43 259.9v2.3M438.72 259.9v2.3M439.86 259.9v2.3M447.57 259.9v2.3M451.48 259.9v2.3M454.26 259.9v2.3M456.41 259.9v2.3M458.17 259.9v2.3M459.66 259.9v2.3M460.95 259.9v2.3M462.08 259.9v2.3" stroke="#000" stroke-width="0.95" fill="none"/>
<path d="M374.2 259.9v3.9M396.43 259.9v3.9M418.65 259.9v3.9M440.88 259.9v3.9M463.1 259.9v3.9" stroke="#000" stroke-width="1.25" fill="none"/>
<path d="M374.2 257.59h-3M374.2 255.27h-3M374.2 252.96h-3M374.2 250.65h-3M374.2 246.02h-3M374.2 243.71h-3M374.2 241.39h-3M374.2 239.08h-3M374.2 234.45h-3M374.2 232.14h-3M374.2 229.83h-3M374.2 227.51h-3M374.2 222.89h-3M374.2 220.57h-3M374.2 218.26h-3M374.2 215.95h-3M374.2 211.32h-3M374.2 209.01h-3M374.2 206.69h-3M374.2 204.38h-3M374.2 199.75h-3M374.2 197.44h-3M374.2 195.13h-3M374.2 192.81h-3" stroke="#000" stroke-width="0.9" fill="none"/>
<path d="M374.2 259.9h-5M374.2 248.33h-5M374.2 236.77h-5M374.2 225.2h-5M374.2 213.63h-5M374.2 202.07h-5M374.2 190.5h-5" stroke="#000" stroke-width="1.1" fill="none"/>
<clipPath id="hc6"><rect x="374.2" y="190" width="88.9" height="70.4"/></clipPath>
<g clip-path="url(#hc6)">
<path d="M374.6 238L374.95 236.77L374.96 235.79L375.22 234.54L375.61 233.06L375.77 232.46L376 231L376.13 229.92L376.38 228.42L376.72 227.24L376.86 226.13L377.01 224.9L377.3 224L377.36 222.78L377.44 221.63L377.41 220.69L377.45 219.54L377.69 218.47L377.77 217.51L377.84 216.18L377.8 215L377.96 213.99L377.94 212.48L378.27 211.48L378.38 210.74L378.35 209.37L378.66 208.17L378.77 206.97L378.8 206L378.95 204.92L379.03 203.57L379.3 202.42L379.34 201.15L379.46 200.38L379.78 198.95L379.8 198L380.05 196.63L380.12 195.54L380.21 194.18L380.41 192.95L380.44 191.52L380.6 190.5L380.89 189.51L381.11 188.08L381.16 187.01L381.33 186.1L381.5 185.31L381.8 184L382.39 182.59L382.89 181.49L383.6 180L384.79 180.55L385.8 181L386.18 181.95L386.51 183.77L387.02 184.63L387.4 186L387.66 187.26L387.98 188.07L388.06 189.52L388.4 190.5L388.21 191.53L388.31 192.97L388.16 193.88L388.04 194.63L388 196L387.87 196.97L387.73 198.4L387.56 199.47L387.4 200.5L387.16 201.78L386.94 203.19L386.6 204.5L386.88 205.85L387.04 206.74L387.22 207.89L387.4 209L387.52 210.13L387.82 211.24L387.95 212.59L388.15 213.7L388.34 215.1L388.4 216L388.62 217.23L388.7 218.21L389.06 219.17L389.1 220.83L389.33 221.51L389.55 223.09L389.8 224L389.86 225.32L390.12 226.63L390.35 227.62L390.46 228.56L390.59 230.05L390.8 231L390.83 232.3L391.08 233.16L391.15 234.83L391.42 235.6L391.55 236.84L391.56 238.13L391.74 239.42L392.02 240.76L392.07 241.74L392.2 243L392.42 244.15L392.74 245.72L393.03 246.67L393.17 247.99L393.58 249.04L393.79 250.51L394 251.5L394.84 252.23L395.6 253.58L396.28 254.36L397 255.6L398.27 256.35L399.56 256.61L401 257.2L402.13 257.52L403.5 257.59L404.85 257.61L406 258L407.14 258.39L408.31 258.31L409.55 258.11L410.77 258.26L412 258.6L413.1 258.71L414.44 258.99L415.64 259.13L416.8 259.11L418 259.4" stroke="#000" stroke-width="1.05" fill="none" stroke-linejoin="round" stroke-dasharray="3 2.3"/>
<path d="M374.6 250L374.94 248.78L375.23 247.71L375.53 246.76L375.62 244.9L376 244L376.26 242.76L376.68 242.02L376.85 240.37L377.24 238.95L377.5 238L377.65 237.24L377.99 235.67L378.23 234.67L378.65 233.04L378.91 232.11L379.16 231.51L379.4 230L379.88 229.04L380.04 226.94L380.5 226L380.74 224.9L381.12 223.05L381.23 222.38L381.5 221L381.57 219.89L381.75 218.8L382.22 217.77L382.17 216.24L382.57 215.44L382.59 213.95L382.69 213.22L383 212L383.33 210.41L383.51 209.71L383.58 208.44L383.96 207.18L384.2 206L385 204L385.38 205.51L386 207L386.19 207.74L386.44 209.43L386.52 210.77L386.69 211.4L387 212.63L386.98 214.08L387.41 214.94L387.5 216L387.69 217.37L387.86 217.9L388.24 219.52L388.29 220.32L388.41 221.59L388.73 223.28L389 224L389.37 225.15L389.32 226.65L389.72 228L389.78 228.86L390 230L390.3 231.51L390.24 232.55L390.51 233.93L390.71 235.19L390.89 236.17L390.94 237.15L391.03 238.62L391.32 239.27L391.33 240.83L391.5 242L391.62 243.12L391.82 244.48L392.15 245.03L392.23 246.33L392.48 247.05L392.72 248.44L392.9 249.6L393.52 250.7L394.14 251.14L395 252.5L397 253.2L398.16 254.35L399 255.4L400.4 255.22L401.5 254.6L402.64 253.79L404 253.6L404.8 254.53L405.79 255L406.5 255.8L408.5 256.2L409.66 255.02L410.5 254.6L411.53 255.32L412.5 256.6L413.77 256.04L415 255.2L416.18 256.39L417.5 257.2L418.56 257.69L419.34 259.07L420.5 259.4L421.79 259.04L422.6 259L423.79 259.4L424.96 259.58L425.95 259.67L427.1 259.15L428.51 259.67L429.35 259.29L430.45 259.02L431.85 259.84L432.69 259.78L434.1 259.02L435.18 259.6L436.29 259.76L437.41 258.96L438.57 259.46L439.47 259.13L440.73 259.06L441.88 259.48L442.97 259.45L443.83 259.28L444.95 259.01L446.31 258.97L447.52 259.61L448.35 259.66L449.53 259.11L450.56 259.26L451.9 259.64L452.96 259.33L454.08 259.49L455.22 259.5L456.22 259.84L457.28 259.02L458.52 259.49L459.66 259.79L460.89 259.77L461.79 259.27L463 259.4" stroke="#000" stroke-width="0.95" fill="none" stroke-linejoin="round"/>
</g>
<text x="376" y="273.5" class="tk" font-size="9" text-anchor="end" textLength="7.56" lengthAdjust="spacingAndGlyphs">10</text>
<text x="376" y="269.27" class="te" font-size="7.47" textLength="3.51" lengthAdjust="spacingAndGlyphs">0</text>
<text x="398.2" y="273.5" class="tk" font-size="9" text-anchor="end" textLength="7.56" lengthAdjust="spacingAndGlyphs">10</text>
<text x="398.2" y="269.27" class="te" font-size="7.47" textLength="3.51" lengthAdjust="spacingAndGlyphs">1</text>
<text x="420.4" y="273.5" class="tk" font-size="9" text-anchor="end" textLength="7.56" lengthAdjust="spacingAndGlyphs">10</text>
<text x="420.4" y="269.27" class="te" font-size="7.47" textLength="3.51" lengthAdjust="spacingAndGlyphs">2</text>
<text x="442.6" y="273.5" class="tk" font-size="9" text-anchor="end" textLength="7.56" lengthAdjust="spacingAndGlyphs">10</text>
<text x="442.6" y="269.27" class="te" font-size="7.47" textLength="3.51" lengthAdjust="spacingAndGlyphs">3</text>
<text x="464.8" y="273.5" class="tk" font-size="9" text-anchor="end" textLength="7.56" lengthAdjust="spacingAndGlyphs">10</text>
<text x="464.8" y="269.27" class="te" font-size="7.47" textLength="3.51" lengthAdjust="spacingAndGlyphs">4</text>
<text transform="translate(366.3 191.3) rotate(-90)" class="tk" font-size="8.8" text-anchor="middle" textLength="8.2" lengthAdjust="spacingAndGlyphs">30</text>
<text transform="translate(366.3 259.5) rotate(-90)" class="tk" font-size="8.8" text-anchor="middle" textLength="4.2" lengthAdjust="spacingAndGlyphs">0</text>
<text x="292.6" y="11.7" class="lb" font-size="15.3" text-anchor="start" textLength="29.5" lengthAdjust="spacingAndGlyphs">CD4</text>
<text x="402.6" y="11.6" class="lb" font-size="15.3" text-anchor="start" textLength="29.5" lengthAdjust="spacingAndGlyphs">CD8</text>
<text x="472" y="62" class="lb" font-size="15.3" text-anchor="start" textLength="47" lengthAdjust="spacingAndGlyphs">Control</text>
<text x="472" y="148.4" class="lb" font-size="15.3" text-anchor="start" textLength="43" lengthAdjust="spacingAndGlyphs">G-CSF</text>
<text x="472.3" y="235.7" class="lb" font-size="15.3" text-anchor="start" textLength="45.8" lengthAdjust="spacingAndGlyphs">Pro-GP</text>
<text x="52.6" y="292" class="lb" font-size="15.3" text-anchor="start" textLength="46.4" lengthAdjust="spacingAndGlyphs">CD62L</text>
<text x="168.6" y="292" class="lb" font-size="15.3" text-anchor="start" textLength="36.6" lengthAdjust="spacingAndGlyphs">CD44</text>
<text x="342.4" y="297.1" class="lb" font-size="15.3" text-anchor="start" textLength="35.6" lengthAdjust="spacingAndGlyphs">CD25</text>
<path d="M286.6 281.1H431.6" stroke="#111" stroke-width="1.4"/>
<text transform="translate(11.3 156.8) rotate(-90)" class="lb" font-size="15.3" textLength="28.6" lengthAdjust="spacingAndGlyphs">CD4</text>
<path d="M18.9 40V244.6" stroke="#333" stroke-width="1.3"/>
</svg>
</body>
</html>
